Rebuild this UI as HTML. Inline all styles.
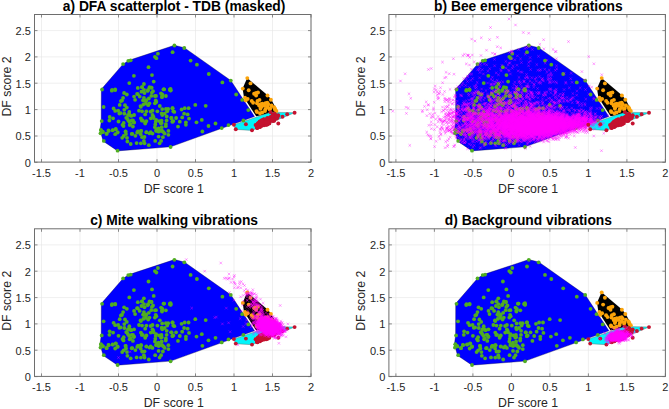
<!DOCTYPE html>
<html><head><meta charset="utf-8"><title>DFA scatterplots</title>
<style>
html,body{margin:0;padding:0;background:#fff;}
svg{display:block;}
text{font-family:"Liberation Sans",sans-serif;}
.mk{fill:none;stroke:none;}
.tk{font-size:11px;fill:#262626;}
.lb{font-size:12.3px;fill:#262626;}
.tt{font-size:13.8px;font-weight:bold;fill:#000;}
</style></head><body>
<svg width="669" height="409" viewBox="0 0 669 409">
<defs>
<marker id="mx" markerUnits="userSpaceOnUse" markerWidth="4" markerHeight="4" refX="2" refY="2" viewBox="0 0 4 4" overflow="visible"><path d="M0.7 0.7L3.3 3.3M3.3 0.7L0.7 3.3" stroke="#ff00ff" stroke-opacity="0.72" stroke-width="0.5" fill="none"/></marker>
<marker id="mg" markerUnits="userSpaceOnUse" markerWidth="6" markerHeight="6" refX="3" refY="3" viewBox="0 0 6 6"><circle cx="3" cy="3" r="1.9" fill="#50ad22"/></marker>
<marker id="mo" markerUnits="userSpaceOnUse" markerWidth="6" markerHeight="6" refX="3" refY="3" viewBox="0 0 6 6"><circle cx="3" cy="3" r="1.95" fill="#fca40a"/></marker>
<marker id="mr" markerUnits="userSpaceOnUse" markerWidth="6" markerHeight="6" refX="3" refY="3" viewBox="0 0 6 6"><circle cx="3" cy="3" r="1.95" fill="#c4122f"/></marker>
</defs>
<rect width="669" height="409" fill="#fff"/>
<g><rect x="34.5" y="14.5" width="276.5" height="147.6" fill="#fff"/><path d="M41.5 14.5V162.1M80.0 14.5V162.1M118.5 14.5V162.1M157.0 14.5V162.1M195.5 14.5V162.1M234.0 14.5V162.1M272.5 14.5V162.1M311.0 14.5V162.1M34.5 162.3H311.0M34.5 136.0H311.0M34.5 109.6H311.0M34.5 83.2H311.0M34.5 56.9H311.0M34.5 30.6H311.0" stroke="#e4e4e4" stroke-width="0.6" fill="none"/><polygon points="101.3,89.3 123.0,64.2 129.0,60.3 174.4,45.3 184.3,47.7 230.8,80.5 254.5,116.5 170.7,146.8 117.6,150.9 103.2,141.2 100.0,130.2 101.2,121.0" fill="#0000ff" stroke="#00003c" stroke-width="0.35"/><polygon points="247.2,78.0 242.6,88.4 244.0,97.5 256.2,116.2 277.8,112.0 271.3,99.6 267.6,95.3" fill="#000"/><polygon points="233.7,124.9 235.7,129.4 252.0,130.4 294.6,112.7 270.6,112.2" fill="#00f5fa" stroke="#5a7a7a" stroke-width="0.5"/><polyline points="123.1,64.1 123.1,64.1 128.3,60.8 130.7,60.3 148.5,67.2 154.9,56.8 156.4,58.2 157.9,53.7 172.6,52.2 174.4,45.5 133.9,75.8 152.0,75.1 153.7,81.6 129.3,83.1 143.9,84.0 141.9,87.1 151.5,87.7 102.1,89.5 112.1,89.9 115.2,89.5 163.9,89.3 169.9,89.3 111.8,90.7 115.2,90.1 142.1,87.2 151.5,87.7 164.1,89.3 169.9,89.9 147.6,90.9 141.5,91.7 144.5,93.0 151.9,92.6 161.1,93.3 165.9,96.0 126.8,94.5 137.8,94.2 134.1,96.6 123.1,97.8 120.9,101.1 143.9,97.8 148.8,98.5 154.9,96.0 162.0,97.2 143.0,100.3 149.4,103.3 154.9,103.3 148.2,105.2 143.3,104.6 140.9,106.8 159.8,106.0 125.0,105.2 126.8,107.6 113.6,108.5 115.2,110.9 103.6,107.0 118.2,110.7 120.7,113.1 124.4,113.7 129.3,111.9 130.5,115.6 134.1,115.0 139.0,110.7 142.1,111.3 146.4,111.3 152.5,110.7 157.4,111.3 145.2,114.4 152.5,115.0 153.7,118.0 165.9,108.9 167.2,111.3 164.7,113.7 162.3,115.0 172.7,108.2 173.3,111.3 171.5,118.0 173.3,121.1 109.7,117.0 113.1,118.3 109.4,120.5 101.7,121.1 118.5,121.5 126.2,117.8 128.0,119.9 131.7,120.5 134.1,122.3 123.7,122.9 122.5,124.8 130.5,124.1 132.9,126.6 140.9,118.3 142.7,120.5 146.4,121.1 145.2,123.5 156.2,119.9 159.2,121.1 161.7,122.9 166.6,120.5 165.9,124.1 154.9,127.2 158.6,128.4 161.7,127.2 159.8,130.9 163.5,132.1 168.4,130.9 156.2,130.9 101.1,130.3 103.0,132.1 108.5,130.5 112.7,130.3 115.8,129.0 117.6,132.1 125.6,131.5 137.8,131.5 140.9,130.9 146.4,132.1 150.7,132.1 131.7,133.9 106.6,133.9 100.5,133.3 100.9,129.9 102.6,131.7 103.8,140.9 106.6,133.6 108.7,130.9 112.7,130.1 115.6,129.3 117.6,132.6 115.2,134.2 117.6,150.7 125.6,131.7 123.7,136.0 122.2,137.8 127.0,137.8 127.4,141.5 130.7,144.0 132.3,133.8 135.4,135.8 137.2,132.6 141.2,130.9 142.1,137.2 144.5,137.0 143.9,140.9 140.9,143.3 136.6,143.1 144.5,143.3 148.8,145.2 146.4,132.3 149.4,133.3 152.5,133.6 156.2,130.5 158.6,131.7 161.7,130.5 158.6,136.6 162.9,137.2 164.7,133.6 168.4,134.8 161.1,140.9 159.6,143.3 155.2,140.9 170.6,147.0 144.0,89.8 149.5,87.2 163.5,89.3 170.7,90.3 148.1,89.9 137.8,87.9 139.7,96.6 153.0,91.2 162.5,94.6 124.1,93.0 137.1,93.9 135.1,99.8 122.0,100.5 119.7,104.9 144.0,100.7 151.3,95.9 156.0,95.9 162.1,96.0 146.1,101.1 156.3,102.0 145.8,103.6 146.2,100.1 140.5,106.1 155.7,100.5 124.3,109.8 119.4,113.5 127.9,115.1 129.3,114.1 131.5,115.8 150.7,111.7 153.2,116.4 150.8,118.3 168.2,108.9 162.2,109.1 161.7,113.4 166.7,116.5 172.5,121.7 127.0,118.1 129.1,121.6 133.0,120.5 133.8,122.7 123.5,126.1 129.7,125.0 141.8,120.6 145.4,122.5 161.5,120.6 160.9,123.3 155.7,121.8 165.8,126.2 155.3,124.5 162.3,131.2 126.0,134.1 138.3,131.6 140.7,134.2 156.7,129.6 184.3,48.0 190.6,60.6 196.9,64.7 208.8,74.0 222.4,82.4 230.8,80.6 170.6,88.9 170.6,90.5 195.3,104.9 205.7,105.8 236.2,94.5 242.2,99.9 248.3,110.1 172.4,108.2 174.3,111.9 181.6,109.5 184.7,108.2 188.6,108.2 184.1,113.7 187.7,114.4 182.2,117.4 176.1,118.0 172.4,121.7 179.8,121.7 185.9,122.3 189.0,118.6 178.0,126.6 185.9,124.8 196.5,122.3 201.8,119.9 208.5,126.0 215.5,123.5 202.4,131.5 221.7,128.1 228.5,125.1 243.4,120.5 171.2,118.0 171.2,118.0" class="mk" marker-mid="url(#mg)"/><polyline points="247.3,78.1 247.3,78.1 250.5,83.4 242.8,88.6 248.7,90.3 254.1,93.7 256.1,93.0 258.0,92.5 256.1,95.5 267.5,95.5 270.9,99.7 245.0,97.6 247.7,98.9 245.8,100.4 251.7,100.9 253.1,102.8 257.5,100.9 259.5,99.9 257.0,103.3 260.5,104.3 262.4,103.8 265.4,103.3 267.3,102.8 268.3,104.3 264.4,105.8 261.4,106.2 259.5,105.8 267.3,106.7 270.2,108.2 274.2,107.2 275.1,109.7 260.5,108.7 256.5,111.1 265.4,109.2 257.0,112.1 260.0,113.2 262.2,112.5 261.0,107.2 259.2,105.4 267.4,107.2 269.7,109.5 274.9,108.7 276.4,111.0 271.5,105.5 265.0,111.0 265.0,111.0" class="mk" marker-mid="url(#mo)"/><polyline points="233.9,124.8 233.9,124.8 235.8,129.3 245.9,124.3 252.0,130.3 294.6,112.8 287.2,114.3 282.5,116.7 270.6,112.3 274.5,113.6 278.3,115.2 278.3,123.5 262.6,121.0 258.5,122.9 266.7,122.5 257.4,127.3 274.2,119.4 260.1,127.0 263.9,121.8 272.8,115.2 263.3,123.3 270.3,119.6 266.4,124.5 259.0,123.1 260.8,124.9 263.5,119.8 263.1,122.7 276.0,115.8 266.8,121.4 258.9,125.0 267.4,119.4 269.0,122.4 267.3,118.8 273.2,117.9 274.2,120.8 269.4,119.9 271.1,118.5 267.7,124.4 261.2,124.5 263.9,119.1 257.2,127.5 272.4,119.6 264.2,122.4 273.4,114.9 266.5,120.0 267.8,120.2 263.1,124.1 266.2,124.9 259.8,121.8 269.0,121.7 256.9,127.8 275.1,116.5 269.4,123.4 258.0,125.9 261.6,122.2 261.7,123.7 272.4,118.7 274.0,116.9 274.3,116.4 264.1,125.3 269.6,118.9 257.4,128.0 270.0,117.7 261.7,123.4 264.6,120.3 278.0,115.8 263.8,122.5 259.7,121.4 261.2,121.8 268.2,122.5 273.1,121.1 259.2,126.9 276.4,117.3 272.9,115.0 267.9,123.4 274.7,117.8 271.7,120.3 262.1,120.3 268.5,121.3 274.6,119.2 268.1,121.8 261.9,125.6 266.2,120.5 271.9,120.7 261.7,125.8 261.8,125.1 270.2,117.7 265.7,121.4 275.0,114.4 266.8,123.8 264.7,120.3 267.4,117.9 274.3,117.4 270.6,117.0 266.3,121.0 257.7,124.5 277.5,117.4 261.3,122.9 263.2,122.4 273.9,115.7 260.0,122.7 258.9,124.1 276.8,118.6 272.0,118.1 265.5,120.5 261.5,125.1 267.7,119.8 257.7,123.4 265.7,119.4 261.6,120.4 261.2,124.6 272.3,117.6 266.9,120.1 255.6,125.0 257.9,125.8 274.3,114.9 260.4,123.6 276.0,116.2 267.8,122.1 272.4,119.5 265.9,122.1 272.5,116.0 272.5,116.0" class="mk" marker-mid="url(#mr)"/><rect x="34.5" y="14.5" width="276.5" height="147.6" fill="none" stroke="#6e6e6e" stroke-width="1"/><path d="M41.5 162.1v-3M41.5 14.5v3M80.0 162.1v-3M80.0 14.5v3M118.5 162.1v-3M118.5 14.5v3M157.0 162.1v-3M157.0 14.5v3M195.5 162.1v-3M195.5 14.5v3M234.0 162.1v-3M234.0 14.5v3M272.5 162.1v-3M272.5 14.5v3M311.0 162.1v-3M311.0 14.5v3M34.5 162.3h3M311.0 162.3h-3M34.5 136.0h3M311.0 136.0h-3M34.5 109.6h3M311.0 109.6h-3M34.5 83.2h3M311.0 83.2h-3M34.5 56.9h3M311.0 56.9h-3M34.5 30.6h3M311.0 30.6h-3" stroke="#6e6e6e" stroke-width="0.8" fill="none"/><text x="41.5" y="177.1" text-anchor="middle" class="tk">-1.5</text><text x="80.0" y="177.1" text-anchor="middle" class="tk">-1</text><text x="118.5" y="177.1" text-anchor="middle" class="tk">-0.5</text><text x="157.0" y="177.1" text-anchor="middle" class="tk">0</text><text x="195.5" y="177.1" text-anchor="middle" class="tk">0.5</text><text x="234.0" y="177.1" text-anchor="middle" class="tk">1</text><text x="272.5" y="177.1" text-anchor="middle" class="tk">1.5</text><text x="311.0" y="177.1" text-anchor="middle" class="tk">2</text><text x="30.9" y="166.7" text-anchor="end" class="tk">0</text><text x="30.9" y="140.4" text-anchor="end" class="tk">0.5</text><text x="30.9" y="114.0" text-anchor="end" class="tk">1</text><text x="30.9" y="87.7" text-anchor="end" class="tk">1.5</text><text x="30.9" y="61.3" text-anchor="end" class="tk">2</text><text x="30.9" y="35.0" text-anchor="end" class="tk">2.5</text><text x="173.8" y="192.6" text-anchor="middle" class="lb">DF score 1</text><text transform="translate(10.6,86.5) rotate(-90)" text-anchor="middle" class="lb">DF score 2</text><text x="174.1" y="10.5" text-anchor="middle" class="tt">a) DFA scatterplot - TDB (masked)</text></g><g><rect x="388.9" y="14.5" width="276.5" height="147.6" fill="#fff"/><path d="M395.9 14.5V162.1M434.4 14.5V162.1M472.9 14.5V162.1M511.4 14.5V162.1M549.9 14.5V162.1M588.4 14.5V162.1M626.9 14.5V162.1M665.4 14.5V162.1M388.9 162.3H665.4M388.9 136.0H665.4M388.9 109.6H665.4M388.9 83.2H665.4M388.9 56.9H665.4M388.9 30.6H665.4" stroke="#e4e4e4" stroke-width="0.6" fill="none"/><polygon points="455.7,89.3 477.4,64.2 483.4,60.3 528.8,45.3 538.7,47.7 585.2,80.5 608.9,116.5 525.1,146.8 472.0,150.9 457.6,141.2 454.4,130.2 455.6,121.0" fill="#0000ff" stroke="#00003c" stroke-width="0.35"/><polygon points="601.6,78.0 597.0,88.4 598.4,97.5 610.6,116.2 632.2,112.0 625.7,99.6 622.0,95.3" fill="#000"/><polygon points="588.1,124.9 590.1,129.4 606.4,130.4 649.0,112.7 625.0,112.2" fill="#00f5fa" stroke="#5a7a7a" stroke-width="0.5"/><polyline points="477.5,64.1 477.5,64.1 482.7,60.8 485.1,60.3 502.9,67.2 509.3,56.8 510.8,58.2 512.3,53.7 527.0,52.2 528.8,45.5 488.3,75.8 506.4,75.1 508.1,81.6 483.7,83.1 498.3,84.0 496.3,87.1 505.9,87.7 456.5,89.5 466.5,89.9 469.6,89.5 518.3,89.3 524.3,89.3 466.2,90.7 469.6,90.1 496.5,87.2 505.9,87.7 518.5,89.3 524.3,89.9 502.0,90.9 495.9,91.7 498.9,93.0 506.3,92.6 515.5,93.3 520.3,96.0 481.2,94.5 492.2,94.2 488.5,96.6 477.5,97.8 475.3,101.1 498.3,97.8 503.2,98.5 509.3,96.0 516.4,97.2 497.4,100.3 503.8,103.3 509.3,103.3 502.6,105.2 497.7,104.6 495.3,106.8 514.2,106.0 479.4,105.2 481.2,107.6 468.0,108.5 469.6,110.9 458.0,107.0 472.6,110.7 475.1,113.1 478.8,113.7 483.7,111.9 484.9,115.6 488.5,115.0 493.4,110.7 496.5,111.3 500.8,111.3 506.9,110.7 511.8,111.3 499.6,114.4 506.9,115.0 508.1,118.0 520.3,108.9 521.6,111.3 519.1,113.7 516.7,115.0 527.1,108.2 527.7,111.3 525.9,118.0 527.7,121.1 464.1,117.0 467.5,118.3 463.8,120.5 456.1,121.1 472.9,121.5 480.6,117.8 482.4,119.9 486.1,120.5 488.5,122.3 478.1,122.9 476.9,124.8 484.9,124.1 487.3,126.6 495.3,118.3 497.1,120.5 500.8,121.1 499.6,123.5 510.6,119.9 513.6,121.1 516.1,122.9 521.0,120.5 520.3,124.1 509.3,127.2 513.0,128.4 516.1,127.2 514.2,130.9 517.9,132.1 522.8,130.9 510.6,130.9 455.5,130.3 457.4,132.1 462.9,130.5 467.1,130.3 470.2,129.0 472.0,132.1 480.0,131.5 492.2,131.5 495.3,130.9 500.8,132.1 505.1,132.1 486.1,133.9 461.0,133.9 454.9,133.3 455.3,129.9 457.0,131.7 458.2,140.9 461.0,133.6 463.1,130.9 467.1,130.1 470.0,129.3 472.0,132.6 469.6,134.2 472.0,150.7 480.0,131.7 478.1,136.0 476.6,137.8 481.4,137.8 481.8,141.5 485.1,144.0 486.7,133.8 489.8,135.8 491.6,132.6 495.6,130.9 496.5,137.2 498.9,137.0 498.3,140.9 495.3,143.3 491.0,143.1 498.9,143.3 503.2,145.2 500.8,132.3 503.8,133.3 506.9,133.6 510.6,130.5 513.0,131.7 516.1,130.5 513.0,136.6 517.3,137.2 519.1,133.6 522.8,134.8 515.5,140.9 514.0,143.3 509.6,140.9 525.0,147.0 498.4,89.8 503.9,87.2 517.9,89.3 525.1,90.3 502.5,89.9 492.2,87.9 494.1,96.6 507.4,91.2 516.9,94.6 478.5,93.0 491.5,93.9 489.5,99.8 476.4,100.5 474.1,104.9 498.4,100.7 505.7,95.9 510.4,95.9 516.5,96.0 500.5,101.1 510.7,102.0 500.2,103.6 500.6,100.1 494.9,106.1 510.1,100.5 478.7,109.8 473.8,113.5 482.3,115.1 483.7,114.1 485.9,115.8 505.1,111.7 507.6,116.4 505.2,118.3 522.6,108.9 516.6,109.1 516.1,113.4 521.1,116.5 526.9,121.7 481.4,118.1 483.5,121.6 487.4,120.5 488.2,122.7 477.9,126.1 484.1,125.0 496.2,120.6 499.8,122.5 515.9,120.6 515.3,123.3 510.1,121.8 520.2,126.2 509.7,124.5 516.7,131.2 480.4,134.1 492.7,131.6 495.1,134.2 511.1,129.6 538.7,48.0 545.0,60.6 551.3,64.7 563.2,74.0 576.8,82.4 585.2,80.6 525.0,88.9 525.0,90.5 549.7,104.9 560.1,105.8 590.6,94.5 596.6,99.9 602.7,110.1 526.8,108.2 528.7,111.9 536.0,109.5 539.1,108.2 543.0,108.2 538.5,113.7 542.1,114.4 536.6,117.4 530.5,118.0 526.8,121.7 534.2,121.7 540.3,122.3 543.4,118.6 532.4,126.6 540.3,124.8 550.9,122.3 556.2,119.9 562.9,126.0 569.9,123.5 556.8,131.5 576.1,128.1 582.9,125.1 597.8,120.5 525.6,118.0 525.6,118.0" class="mk" marker-mid="url(#mg)"/><polyline points="522.1,130.4 522.1,130.4 547.1,122.1 510.3,133.6 541.4,124.1 503.3,127.3 521.5,122.9 531.7,126.5 526.1,119.0 567.7,126.1 554.7,129.1 536.2,121.0 570.6,125.9 532.7,124.6 498.7,125.8 518.4,123.5 507.5,139.0 535.4,124.2 521.4,120.1 528.0,129.9 545.9,134.7 518.3,126.1 554.8,125.9 541.9,129.6 541.7,115.3 518.1,110.3 519.1,125.8 538.6,119.2 505.0,139.8 549.0,120.7 549.4,110.1 539.4,124.1 556.7,122.9 574.2,129.4 525.5,148.6 553.9,127.1 556.6,113.4 534.4,127.6 522.6,131.5 519.5,121.7 535.4,125.5 530.4,119.9 546.3,126.2 550.4,126.0 507.0,116.4 545.6,131.1 560.3,122.9 497.2,115.3 542.5,120.1 539.2,126.7 497.5,119.5 535.2,127.8 542.9,125.1 550.6,127.3 533.6,140.0 524.4,121.5 566.4,126.1 531.6,115.5 526.7,121.1 574.6,123.8 563.8,128.0 539.5,126.2 537.2,118.5 518.6,129.7 546.4,131.6 546.4,122.0 527.9,122.4 497.5,120.9 497.6,130.5 521.2,128.6 555.0,124.5 525.0,122.4 572.2,124.1 543.2,118.0 540.9,133.6 587.2,130.6 533.6,123.2 557.6,121.3 528.0,132.9 537.0,119.2 508.5,132.7 533.9,138.7 528.3,128.8 545.3,129.6 513.4,128.5 533.3,130.3 534.8,121.0 562.8,116.1 515.8,128.7 475.2,113.4 517.2,126.2 547.0,133.3 545.6,125.6 490.9,124.0 563.0,133.9 553.8,123.9 545.8,122.8 565.6,125.5 555.4,127.2 551.9,129.7 531.9,114.5 545.1,126.4 507.2,131.1 539.1,119.8 544.7,122.3 533.5,117.0 525.2,129.6 555.7,124.6 527.9,129.7 528.4,121.8 542.9,132.9 544.7,124.4 510.6,120.8 527.8,128.1 553.5,117.7 518.1,123.0 513.6,110.7 522.7,118.1 519.0,120.6 587.5,132.5 524.1,122.6 532.3,130.3 585.9,123.2 495.2,120.3 493.4,118.4 520.7,125.0 564.6,123.9 501.3,137.1 562.7,120.9 515.0,120.3 546.4,121.5 480.6,127.9 556.0,121.0 555.5,138.2 538.5,122.6 511.7,128.1 535.4,120.1 523.9,118.4 515.7,124.2 521.9,124.9 518.0,136.5 560.6,123.1 521.2,124.6 558.1,129.9 531.9,122.4 547.1,127.3 484.2,117.7 542.3,125.5 527.9,124.2 524.3,132.7 516.8,129.9 519.9,133.6 549.7,132.7 550.2,131.0 542.9,117.1 539.4,130.3 535.7,124.9 493.1,129.9 538.4,128.7 536.4,121.1 552.8,120.0 548.5,126.9 534.1,127.7 527.0,127.1 493.3,128.1 533.9,132.4 533.9,122.5 530.6,112.3 472.3,127.3 490.9,119.5 474.8,125.1 546.9,127.1 547.7,138.4 554.8,122.9 535.0,129.8 549.7,128.0 539.8,128.9 480.9,126.1 539.3,120.9 513.6,126.2 549.2,124.4 564.2,114.7 512.8,138.6 554.9,116.7 556.5,120.5 519.7,130.6 555.7,129.8 491.2,132.5 580.4,126.5 517.1,124.4 516.6,117.3 532.6,133.1 565.7,127.2 539.8,125.8 527.0,123.8 518.0,138.1 481.8,134.3 516.4,126.1 535.8,122.3 537.4,130.9 517.6,139.9 530.5,122.7 547.1,126.0 530.3,119.8 534.9,121.1 548.4,124.0 565.7,127.2 525.9,131.3 515.5,115.7 576.5,123.8 548.1,118.4 553.8,118.4 504.4,130.1 545.3,116.8 537.0,131.4 526.0,130.3 514.0,116.0 519.6,125.8 586.1,119.1 542.5,129.3 544.3,115.7 549.4,118.0 536.8,122.5 529.7,123.1 565.5,131.4 533.0,124.4 520.9,128.0 553.3,114.0 549.5,123.3 497.5,113.2 536.3,126.1 507.8,126.3 508.3,125.5 545.6,125.2 541.2,130.9 568.6,127.3 491.1,127.2 516.3,132.6 526.0,124.0 506.3,126.8 568.6,121.1 530.9,125.1 531.6,126.3 552.0,125.6 477.1,126.1 513.3,121.6 519.9,125.0 586.5,127.3 507.7,135.2 477.3,138.3 543.2,129.4 489.9,135.7 549.2,129.7 525.7,123.8 566.9,115.2 559.1,124.0 538.9,114.3 568.6,125.7 545.4,123.7 535.8,129.1 502.8,129.5 497.6,117.9 547.3,132.4 567.8,120.2 488.9,113.8 553.8,113.7 505.1,122.4 544.6,124.2 538.6,119.0 498.8,134.1 501.2,129.6 520.0,123.5 540.9,125.4 518.3,128.8 557.2,120.8 536.9,127.9 571.6,126.8 550.0,118.6 528.2,120.5 507.9,119.3 539.3,135.7 550.5,130.2 565.1,127.8 530.6,124.1 526.6,124.2 521.3,121.5 534.6,124.5 468.8,118.3 535.3,137.6 536.8,122.8 560.1,130.3 571.4,124.9 531.0,121.5 525.7,133.3 560.7,120.1 571.2,120.3 520.8,136.9 519.0,130.4 515.0,122.1 542.3,127.2 538.6,126.7 539.6,121.0 557.4,128.5 498.5,116.5 537.2,118.7 495.3,128.1 535.1,135.3 522.2,121.2 560.2,116.5 513.9,135.2 546.9,119.8 539.1,133.9 553.2,120.7 547.7,128.1 541.8,120.7 521.2,138.1 542.3,122.6 534.8,120.1 520.5,126.5 527.2,122.2 572.6,125.2 583.6,117.8 553.4,121.8 576.8,124.7 531.8,132.9 545.8,117.4 547.2,122.8 529.7,124.8 500.5,119.0 524.7,133.2 516.6,131.4 554.9,119.2 502.1,119.8 555.7,128.0 499.0,130.8 519.4,123.7 526.0,139.3 540.1,135.3 556.1,131.4 518.0,131.6 521.5,117.4 554.8,121.7 542.1,135.1 522.1,129.6 511.2,122.6 516.8,130.6 509.6,139.5 548.7,117.6 538.7,131.9 469.9,124.8 563.5,123.1 556.6,117.0 561.4,126.9 559.6,120.7 497.8,128.6 500.5,126.7 548.3,131.5 485.4,117.4 543.5,116.6 502.9,119.0 584.0,116.0 529.5,124.2 530.8,119.4 559.3,124.3 502.1,121.1 523.3,121.8 540.8,115.5 561.7,126.9 542.8,114.8 521.7,123.1 562.9,118.3 546.9,133.1 504.4,124.3 543.7,110.0 513.9,118.4 552.9,134.3 515.0,124.8 522.7,127.0 545.7,130.2 545.6,129.2 521.5,122.4 520.8,124.0 572.7,124.0 531.0,121.1 525.8,118.8 503.9,121.9 522.3,131.2 576.7,127.5 576.4,121.2 569.2,128.8 563.1,117.3 531.7,126.8 538.7,128.4 519.5,123.0 542.4,124.5 575.6,125.4 545.8,116.7 510.5,119.1 578.2,129.4 508.3,132.8 490.4,123.0 490.2,122.7 569.2,131.7 526.9,138.6 553.1,129.1 528.2,125.6 547.5,127.3 534.9,129.5 537.2,133.3 536.0,138.4 522.8,113.3 536.4,134.0 540.6,131.7 495.1,130.8 552.1,122.9 532.2,132.0 508.8,117.0 540.3,131.6 484.1,135.0 507.1,126.4 539.5,126.7 527.9,135.0 509.4,114.8 516.4,120.4 494.1,127.7 540.7,119.2 507.7,122.0 543.7,130.0 545.9,130.7 515.5,126.1 469.7,126.7 510.6,135.6 524.4,120.9 524.8,117.6 506.8,134.6 571.5,122.4 557.1,129.2 553.7,123.6 550.0,125.1 563.3,127.8 511.5,135.7 562.2,128.3 509.6,132.1 523.9,134.3 527.6,130.1 521.3,132.3 535.4,128.9 537.2,124.2 542.6,139.0 521.7,131.2 553.0,133.8 517.4,127.9 526.5,119.4 523.9,119.6 499.5,137.9 563.6,122.4 546.1,124.6 546.1,132.6 557.1,127.7 558.0,124.3 487.4,134.4 561.4,125.3 525.1,124.3 524.4,129.5 536.9,124.9 570.7,124.0 579.4,116.5 575.5,119.4 537.6,124.9 531.1,130.8 532.9,130.2 573.6,121.7 523.8,138.6 533.2,128.7 508.6,133.4 480.8,122.2 532.9,108.9 533.8,126.9 569.0,123.7 538.5,128.1 520.1,116.1 558.4,115.8 526.1,125.7 513.5,119.6 501.2,122.2 560.7,117.5 512.1,118.8 517.5,130.9 502.9,118.3 573.8,126.6 516.4,128.2 558.5,127.6 491.7,130.4 562.8,115.3 528.1,130.5 522.3,138.4 556.2,130.7 559.9,133.5 504.2,124.0 516.3,120.8 534.7,133.7 549.3,120.4 488.8,113.9 546.4,120.9 490.1,130.7 526.2,118.8 499.7,131.8 486.1,127.5 542.8,135.9 520.4,122.6 572.3,121.2 527.2,133.7 512.1,130.3 538.0,126.1 574.3,122.8 508.9,115.8 557.2,124.3 517.3,138.3 510.1,119.9 515.3,134.6 539.2,124.2 549.0,121.5 568.1,128.3 557.9,130.0 551.1,124.1 540.3,119.6 534.1,118.6 555.4,124.2 521.0,130.9 521.9,127.3 533.9,106.3 549.7,120.8 514.0,130.6 526.9,124.7 509.8,115.3 521.1,118.8 478.7,126.0 541.1,124.4 548.9,123.6 538.4,137.8 517.5,141.4 549.5,123.5 529.8,131.3 520.6,113.8 575.8,124.2 565.2,132.2 488.3,129.1 513.6,129.6 539.0,106.6 518.7,125.6 541.1,125.8 556.7,115.4 504.8,124.9 528.2,123.6 497.9,137.5 479.2,122.5 539.1,125.3 478.0,128.4 516.5,135.2 512.6,121.3 547.5,125.4 546.8,128.9 536.2,125.6 547.7,125.7 531.1,126.8 519.1,111.2 546.8,122.8 568.0,131.6 551.1,120.4 579.5,118.5 552.9,131.6 513.7,124.2 546.6,131.4 525.3,128.6 535.9,123.7 527.7,134.1 564.2,116.7 532.0,119.2 545.1,121.5 546.0,129.9 548.2,119.4 513.1,113.0 584.4,116.7 582.0,120.8 526.4,129.9 515.1,125.2 533.7,121.5 486.3,110.7 533.8,121.5 545.9,123.8 529.5,126.7 514.8,124.8 533.9,123.8 514.1,125.7 535.6,121.9 509.1,123.2 558.0,121.7 525.7,129.2 528.9,121.1 571.6,124.9 519.2,123.5 539.4,131.4 516.9,126.6 550.5,131.9 510.2,122.6 505.3,125.2 542.9,126.2 510.2,126.3 526.6,123.7 514.5,118.7 494.5,127.1 534.7,119.6 520.0,122.3 521.0,121.1 576.0,125.6 545.1,131.0 557.7,118.4 535.3,133.3 544.1,118.5 560.5,120.5 490.8,130.4 568.4,130.0 561.5,115.1 552.7,118.8 526.6,134.0 532.0,127.2 533.4,121.3 531.0,124.7 544.6,125.5 578.5,122.0 536.5,127.2 519.6,117.1 538.1,132.7 521.1,126.8 523.9,118.8 506.8,122.7 537.9,133.3 535.6,126.5 546.5,128.0 541.7,135.9 508.6,120.8 559.4,124.8 520.2,118.8 484.6,131.2 550.5,121.5 509.9,138.4 569.2,123.6 513.1,125.6 556.0,138.8 561.0,120.9 484.8,120.9 492.0,118.4 544.0,111.9 519.9,125.9 559.5,128.0 517.7,128.4 532.8,133.1 546.1,122.2 536.2,114.8 526.7,117.3 521.5,121.0 488.3,124.6 530.3,129.2 519.9,128.2 517.3,140.4 520.3,129.6 522.0,132.9 531.3,120.8 528.5,129.2 566.9,119.7 556.5,118.7 526.7,126.8 561.1,127.5 531.6,123.4 543.4,127.2 558.0,125.7 551.8,119.1 550.2,121.0 506.8,134.6 519.7,122.8 570.3,129.8 541.8,130.9 517.0,127.8 551.0,123.9 562.7,129.5 555.7,119.9 536.2,122.8 521.1,133.1 524.8,130.2 522.9,115.1 539.3,123.7 552.2,129.4 556.4,122.9 498.3,122.0 547.7,122.7 572.3,126.0 546.7,120.9 513.0,118.0 499.9,134.5 547.0,131.7 531.7,136.8 536.2,133.2 542.7,134.9 545.2,127.0 536.0,126.3 537.6,134.3 473.3,125.7 512.2,128.9 544.7,137.4 516.3,130.0 509.3,123.8 531.2,131.3 511.0,120.6 518.8,122.1 545.2,136.7 508.6,125.9 542.7,120.8 553.7,119.3 525.6,127.3 553.0,127.4 559.7,132.9 550.1,126.2 487.5,119.5 541.9,125.5 508.8,129.0 570.6,128.0 451.6,131.6 505.9,126.8 525.1,131.9 514.4,119.0 500.1,113.0 521.5,133.1 553.3,121.9 509.6,121.0 490.6,132.0 561.4,125.9 503.4,122.6 556.4,125.0 491.4,128.2 544.5,120.8 578.7,124.8 523.0,126.2 563.3,129.2 565.7,137.7 553.5,128.7 545.5,121.3 506.3,126.5 540.2,122.0 512.3,132.5 488.6,109.2 529.9,127.4 498.8,119.8 521.7,116.5 554.8,124.8 551.9,131.3 526.7,129.7 504.2,125.8 531.0,116.5 454.5,130.4 512.6,129.0 544.6,123.0 535.2,129.0 546.3,123.2 490.5,127.7 501.7,133.7 538.0,125.4 537.2,131.4 529.7,131.9 543.6,121.3 576.4,118.6 515.3,129.0 512.1,123.9 581.8,120.9 482.0,134.2 503.6,122.5 534.5,124.0 577.0,127.4 514.3,113.0 542.7,130.3 486.1,136.0 476.2,125.5 535.6,119.4 531.2,130.5 516.8,113.4 492.4,124.8 535.1,121.9 524.8,122.6 554.0,125.8 523.6,127.2 511.5,127.3 527.3,124.6 566.4,118.2 523.9,122.0 541.5,120.9 535.0,124.2 523.3,131.1 555.3,117.9 550.3,122.7 540.9,128.4 491.9,121.6 539.3,129.2 511.5,117.5 491.4,114.3 549.8,111.6 517.4,126.1 522.4,124.9 529.5,130.9 560.2,128.7 522.4,122.3 521.7,128.8 543.0,127.8 504.7,126.6 529.3,114.7 508.3,119.6 515.7,128.3 526.7,124.2 555.1,115.5 519.3,117.2 558.3,120.5 516.4,120.0 531.9,123.6 528.1,121.6 561.1,118.9 529.6,119.4 569.2,128.6 569.6,130.4 547.5,121.8 569.9,123.0 523.0,131.2 504.6,120.9 528.8,130.7 547.2,129.8 524.1,129.0 574.0,117.7 530.7,136.3 541.1,125.2 542.8,122.1 526.9,119.8 554.5,123.8 524.8,129.1 551.0,131.4 530.7,130.9 501.2,122.0 533.9,125.7 555.4,133.0 532.9,124.0 554.4,130.9 551.6,123.9 566.9,119.0 547.6,112.8 534.5,128.7 526.4,132.1 533.8,138.3 532.5,123.1 558.2,126.6 567.6,127.4 531.3,138.3 516.3,131.2 569.3,121.9 508.8,122.5 545.7,126.8 535.0,127.9 521.9,137.3 532.4,117.7 567.9,125.6 517.1,127.3 555.4,123.1 520.9,123.6 529.7,122.6 525.0,135.4 535.9,121.0 508.7,126.6 554.9,126.9 519.4,112.9 553.8,119.5 512.5,115.5 496.0,129.3 551.7,117.8 512.9,130.2 539.1,137.6 549.3,122.1 524.1,122.5 552.5,123.4 546.6,116.7 523.4,124.9 522.4,119.3 525.1,122.9 537.7,125.4 574.2,124.4 567.3,120.6 565.0,125.3 555.9,121.0 520.3,124.2 531.5,126.2 564.5,127.9 495.7,137.0 524.1,130.0 534.8,122.3 575.1,122.7 545.2,129.7 547.9,117.7 565.4,133.6 555.0,116.7 553.5,133.0 527.4,122.2 544.1,130.2 514.0,119.8 503.8,116.8 535.0,124.0 503.8,129.7 550.3,133.2 582.1,128.9 506.4,125.7 545.6,121.2 526.0,127.3 529.1,129.6 475.3,119.8 540.3,124.7 520.1,124.3 534.2,126.4 559.9,133.2 540.3,132.1 527.2,116.5 509.6,126.6 520.9,119.9 512.0,136.6 546.3,127.4 527.2,119.1 514.1,128.3 537.9,123.2 522.7,119.4 585.9,124.9 577.4,132.3 566.7,126.0 537.6,127.9 519.9,134.0 525.5,117.7 560.6,126.4 522.4,130.4 507.0,114.5 549.7,124.6 523.2,132.4 564.7,120.8 512.7,119.7 509.1,121.9 512.5,128.6 545.8,122.9 557.7,129.1 570.7,118.3 534.3,123.0 516.7,126.9 504.2,125.4 539.1,117.6 556.2,120.7 526.2,127.4 526.7,124.5 490.3,121.1 498.6,129.2 535.0,129.1 572.6,124.5 570.5,119.1 523.1,123.4 564.3,126.1 536.5,129.3 535.8,128.1 536.4,119.6 566.4,123.8 539.1,120.5 527.9,132.6 559.9,129.3 555.8,129.9 576.4,128.1 554.0,117.1 512.5,116.5 515.6,137.1 551.0,121.3 529.9,141.9 533.2,127.9 525.8,127.8 493.5,129.5 575.7,117.7 526.2,130.4 543.6,119.3 551.1,131.5 538.2,124.9 567.5,118.9 546.5,118.5 525.4,116.2 524.7,123.4 555.5,129.7 518.4,137.1 538.3,126.1 527.0,122.8 486.0,126.1 536.5,127.5 552.7,115.7 524.3,131.9 520.6,125.4 547.9,130.1 557.4,130.0 553.5,122.8 545.1,113.0 528.5,127.0 545.4,120.5 503.8,124.2 517.5,122.0 565.9,124.2 532.1,124.8 466.8,121.1 547.4,124.4 525.4,130.6 530.4,118.3 532.2,117.4 475.6,128.8 540.8,125.7 496.5,130.1 563.1,130.7 511.8,132.9 521.9,121.9 548.1,136.6 568.0,127.0 521.0,115.4 532.6,133.8 519.9,130.5 511.4,128.0 554.6,123.1 502.9,108.3 511.8,125.2 535.2,121.1 527.0,123.0 582.8,123.3 509.7,123.9 516.1,128.3 538.8,123.7 528.0,120.6 530.1,134.2 554.6,126.9 562.3,127.8 547.6,123.5 472.7,135.4 508.8,117.0 491.2,120.2 559.5,122.3 550.0,127.9 534.3,124.5 544.1,121.4 529.8,130.4 521.6,123.3 496.4,133.9 525.1,129.4 528.3,142.8 526.7,127.5 552.3,135.7 527.5,122.9 545.7,118.6 558.7,130.0 549.1,127.1 516.1,116.2 520.1,131.3 525.1,131.3 557.6,122.9 566.6,122.5 520.4,119.3 519.5,128.9 530.7,125.7 561.9,127.6 542.6,125.7 505.6,132.9 529.5,123.4 541.9,122.7 535.6,128.7 544.3,131.3 503.6,128.0 501.6,129.2 517.3,129.5 533.5,131.0 524.8,136.8 537.8,131.2 543.8,142.0 516.1,124.4 478.3,128.2 536.7,125.2 500.1,124.5 537.9,131.8 551.6,125.4 534.9,128.8 547.1,124.8 560.7,122.5 520.3,127.4 555.7,126.8 543.3,122.4 530.4,140.8 537.5,124.5 537.6,130.5 562.4,125.3 520.1,130.5 542.8,132.0 511.4,113.2 564.7,119.5 566.0,121.7 495.6,118.3 563.1,122.2 489.3,118.0 566.0,126.7 537.4,121.0 532.5,118.9 536.4,121.5 536.5,135.1 511.5,105.7 541.0,117.7 560.8,116.2 547.3,128.7 534.9,138.1 530.1,120.1 484.5,124.7 553.6,117.9 513.1,130.1 491.1,132.5 546.9,113.5 508.0,117.1 544.4,128.4 585.3,132.6 532.9,124.5 583.9,117.0 587.0,123.0 557.2,117.8 546.4,123.3 530.2,128.6 506.0,113.5 524.1,139.3 540.6,125.8 538.6,114.5 532.0,127.6 517.2,126.1 524.3,124.6 543.6,130.6 579.3,120.4 553.4,121.2 553.5,121.4 567.2,119.7 565.8,126.8 534.4,130.6 556.7,120.6 523.7,122.2 563.2,129.9 532.4,121.9 533.7,123.5 561.9,123.0 509.0,121.4 532.2,125.2 521.3,134.8 505.5,128.2 509.6,143.4 561.2,130.4 517.7,122.5 478.5,117.3 516.6,121.7 523.3,124.0 536.9,125.8 492.0,135.4 533.5,116.9 521.8,122.5 538.3,122.8 557.6,132.5 540.9,126.7 527.2,131.4 516.2,132.5 509.0,109.8 574.0,124.0 551.8,130.4 469.8,137.6 537.8,116.8 533.5,132.4 528.9,132.3 502.1,127.4 525.2,131.1 513.9,131.9 540.0,117.2 529.6,111.6 496.9,124.2 507.6,127.0 536.9,122.3 560.8,127.4 505.6,127.1 541.3,129.8 555.3,116.1 501.4,123.6 558.1,134.6 539.3,127.1 501.4,117.5 539.6,128.6 544.8,121.7 552.4,121.9 544.0,132.4 524.7,125.1 470.1,112.3 525.7,132.7 492.2,124.3 535.3,129.6 524.8,131.6 517.1,126.6 519.5,121.6 531.2,125.1 543.9,118.0 548.5,124.0 530.7,131.1 526.5,121.6 539.8,128.1 503.5,135.8 542.0,119.4 543.2,133.7 529.6,124.5 513.1,123.7 529.8,131.3 505.6,120.7 542.8,130.8 510.9,120.2 548.4,127.0 571.6,125.4 509.9,118.9 530.1,123.7 535.4,132.3 506.9,127.2 567.2,129.0 566.1,123.4 508.6,124.2 547.7,130.4 485.0,123.7 508.7,123.1 490.1,126.8 515.7,135.4 528.9,124.8 521.6,133.5 539.4,136.4 546.9,122.5 573.5,120.3 542.7,124.0 535.1,134.4 568.4,121.9 527.9,133.3 568.9,121.9 507.0,121.6 578.5,123.9 543.8,127.9 519.9,119.1 537.2,126.6 552.9,126.7 551.4,120.6 510.9,132.8 532.8,120.6 540.9,118.1 502.6,122.8 520.1,125.3 542.0,131.4 529.2,133.4 540.7,130.8 523.1,124.5 519.4,118.6 519.7,120.5 541.1,131.9 529.4,131.3 526.1,127.7 576.6,125.6 570.8,122.2 504.3,140.7 550.2,136.2 551.1,119.5 543.5,126.7 528.7,124.3 527.5,129.4 525.9,118.5 520.1,123.5 507.9,130.5 502.7,127.2 550.3,123.5 523.1,122.0 526.5,123.6 540.8,122.4 477.3,134.2 552.4,125.7 586.3,124.3 521.8,116.4 547.3,114.6 546.3,126.5 551.2,129.4 524.2,129.5 529.4,121.0 523.4,123.9 523.0,120.3 470.9,127.3 538.4,132.4 557.9,123.7 564.1,120.0 549.3,126.1 509.4,127.3 523.9,124.3 523.8,106.5 497.6,118.5 523.7,127.5 555.9,124.9 506.5,123.3 530.0,139.0 539.1,132.2 517.3,122.9 541.4,127.3 584.5,122.0 520.4,124.4 531.7,140.0 498.2,134.8 582.1,124.3 528.1,129.5 557.1,124.7 573.8,120.7 572.4,124.6 543.1,128.1 530.6,136.9 521.1,132.0 519.5,118.2 540.5,118.3 554.3,120.1 557.6,127.9 553.0,126.8 522.3,118.3 584.3,127.1 574.5,120.6 515.0,124.2 543.0,123.3 526.3,134.1 535.2,120.5 552.6,121.5 559.9,129.6 533.5,123.8 557.5,124.0 546.4,124.6 582.8,131.7 533.9,110.2 539.9,136.8 537.6,134.6 518.9,124.5 573.9,122.1 549.9,119.6 539.1,130.9 532.2,123.8 528.1,130.2 526.2,135.5 510.9,126.5 526.2,125.7 566.8,123.0 533.8,133.4 509.7,123.6 514.4,123.2 509.8,125.1 532.8,119.6 525.5,128.3 540.1,125.3 573.3,125.2 522.2,128.0 545.4,124.1 550.4,132.7 576.8,124.0 506.7,125.0 544.0,138.5 534.8,135.3 545.0,117.5 558.2,132.4 566.2,120.2 526.2,122.8 569.4,125.7 534.1,129.5 561.1,135.2 567.1,128.8 555.8,133.3 513.0,129.7 553.5,133.6 548.3,128.8 563.0,126.1 545.7,126.4 575.7,125.4 533.9,113.4 536.3,121.6 517.6,124.7 482.4,125.3 519.6,135.5 502.0,118.7 544.3,134.3 576.2,126.8 526.0,124.4 508.4,136.2 517.4,118.4 556.4,133.0 562.2,124.4 546.0,125.1 544.0,131.3 513.6,130.4 526.0,122.0 506.6,115.8 520.0,129.7 550.7,122.8 526.7,132.7 511.5,136.1 560.8,119.4 577.4,121.9 542.1,121.1 556.4,126.2 542.6,112.8 495.6,134.8 512.4,121.2 561.8,126.3 549.9,125.5 541.4,128.8 533.9,126.0 560.5,113.7 492.8,122.6 534.4,119.8 558.9,120.9 553.1,130.1 495.3,115.3 562.3,129.2 564.2,121.4 478.1,120.2 511.8,118.5 518.8,130.7 499.0,127.3 557.9,128.2 491.7,112.3 576.9,121.1 522.1,133.6 496.8,122.4 564.4,129.5 534.5,127.7 528.6,122.8 582.6,126.0 554.0,119.3 528.0,126.9 503.6,119.1 522.3,130.1 536.0,131.2 510.5,127.8 568.7,125.2 546.6,133.7 489.7,114.4 525.3,135.7 532.1,122.1 494.8,131.5 540.5,131.2 552.8,119.9 544.7,127.9 533.4,130.0 531.5,123.9 527.6,119.8 521.9,123.8 553.5,121.6 529.0,129.0 557.6,121.6 546.2,130.0 549.1,120.8 530.2,121.8 584.6,130.3 548.5,131.8 503.0,127.4 547.1,125.0 507.6,135.1 521.7,125.8 515.3,135.5 575.0,127.5 530.9,129.4 521.0,125.7 527.6,122.0 507.1,135.4 579.5,124.1 552.2,118.7 547.3,125.1 498.6,136.1 557.1,121.4 547.7,134.7 485.2,132.7 507.2,124.9 510.9,115.8 520.1,129.5 554.5,123.2 513.7,120.7 579.0,128.6 528.8,132.8 489.6,121.9 550.7,119.8 544.4,137.2 533.9,130.2 507.2,133.0 552.2,126.7 580.1,121.9 490.3,120.2 563.5,124.4 506.4,114.6 504.0,126.5 490.3,134.0 495.0,119.0 561.9,126.6 503.0,126.3 543.3,134.6 507.6,126.6 550.9,124.7 545.0,132.7 476.6,123.9 513.2,126.7 525.7,122.9 516.5,116.7 535.2,122.5 549.2,119.4 543.9,135.8 519.8,114.0 545.5,122.1 545.4,129.2 518.7,130.1 561.5,122.8 576.0,121.9 578.6,122.0 506.9,114.7 542.4,118.4 539.5,127.7 538.5,132.7 506.6,131.7 522.2,134.7 532.1,124.0 582.0,116.6 533.3,120.2 529.4,123.4 533.7,129.4 536.3,135.3 544.8,127.2 509.1,128.3 547.5,129.2 545.6,122.1 571.1,129.0 531.9,122.6 569.7,123.1 552.2,133.2 520.8,115.2 527.8,111.9 517.4,127.7 497.0,121.8 540.7,113.2 538.4,127.3 501.4,126.5 556.8,121.0 563.4,120.3 533.4,122.0 538.6,134.1 574.8,122.4 509.7,123.4 541.3,119.5 568.6,138.3 547.6,116.5 512.1,138.0 541.1,123.6 542.8,132.3 523.5,124.7 552.1,113.0 541.4,129.3 478.7,118.9 531.4,126.7 511.1,121.1 492.1,125.2 537.4,123.9 565.4,124.9 536.7,120.3 497.8,127.8 536.1,119.7 515.6,120.7 543.6,134.5 499.5,135.3 537.8,124.5 551.6,120.5 521.4,118.9 553.9,122.4 545.9,133.0 543.1,131.8 506.2,128.2 537.8,126.1 526.7,132.5 538.9,130.4 501.1,125.3 569.0,126.1 509.3,116.9 575.1,125.2 529.5,124.5 537.7,119.4 545.0,136.3 508.3,134.0 544.8,124.8 577.0,125.0 541.8,125.1 537.8,111.0 541.3,116.5 565.3,127.4 550.8,127.3 537.1,124.8 535.0,129.0 571.5,125.3 551.2,115.7 549.4,119.3 567.5,119.2 575.4,130.1 581.1,123.6 492.9,130.1 501.3,126.1 499.0,132.5 541.5,124.6 515.5,127.5 532.1,125.4 534.3,127.4 555.4,133.6 522.7,125.1 524.9,129.6 524.1,124.6 564.2,125.4 528.1,123.6 528.7,138.7 540.9,128.0 520.8,121.8 535.6,129.6 482.6,137.3 534.8,126.7 544.9,124.1 523.1,134.3 508.4,126.9 507.1,121.0 502.9,137.7 529.9,137.6 573.3,128.4 533.3,127.5 514.9,137.6 490.1,120.2 558.9,113.5 499.6,122.2 534.2,120.4 522.2,121.2 555.9,121.7 569.0,125.1 571.3,127.3 574.3,135.9 534.8,131.2 534.5,119.1 551.6,124.6 575.1,130.3 515.1,116.0 542.3,138.3 542.6,132.8 569.8,119.0 521.4,117.4 514.6,119.9 548.3,126.0 500.6,127.8 479.8,129.6 490.3,117.9 511.4,142.0 548.4,123.1 522.4,112.0 553.0,124.7 519.1,145.4 545.9,119.7 520.4,135.2 533.5,137.0 534.7,120.9 570.5,123.0 539.2,121.0 567.9,125.8 505.2,131.2 504.5,131.8 531.6,123.7 538.2,125.3 526.0,123.1 555.6,120.8 570.2,125.5 528.5,114.8 539.3,123.1 526.5,119.6 524.9,132.6 533.1,128.9 554.4,127.0 537.4,127.2 542.6,129.4 560.9,131.9 525.3,130.6 550.0,125.0 546.1,127.3 517.4,133.3 526.5,129.5 541.2,123.4 557.8,125.4 516.6,132.9 536.0,123.5 581.0,123.0 576.5,116.0 509.5,118.0 561.6,117.8 534.3,119.6 523.0,126.4 535.0,114.2 529.4,119.6 536.1,130.5 540.3,121.5 517.5,121.8 517.5,131.7 539.8,127.2 511.0,136.7 535.1,124.3 523.5,124.7 498.0,123.4 544.4,123.8 519.9,125.4 537.6,118.9 541.1,124.0 517.2,120.3 562.5,127.1 549.8,123.4 533.4,134.4 576.4,131.8 541.7,127.9 561.8,126.8 535.4,121.9 545.4,128.5 550.7,122.9 558.1,127.5 533.4,128.5 514.5,124.3 544.3,116.9 526.7,123.4 561.7,125.2 536.0,125.0 518.1,132.4 561.1,123.8 532.7,134.1 537.3,118.3 507.1,131.8 560.9,117.4 571.4,126.6 548.8,129.6 546.9,127.5 539.2,117.3 542.5,127.0 535.8,124.1 522.3,124.6 548.8,116.3 485.5,133.7 505.1,120.2 539.1,125.0 561.5,136.9 530.2,146.3 538.2,129.0 523.0,123.7 520.6,118.7 534.4,123.4 523.9,119.9 514.9,117.8 557.4,124.1 558.0,116.4 567.1,124.4 533.2,118.7 499.7,129.9 546.0,122.0 578.6,116.7 542.2,122.9 503.3,127.1 540.7,127.0 535.9,121.9 512.0,129.6 492.5,118.5 509.6,137.0 552.7,126.2 557.3,126.8 584.7,120.9 538.1,125.0 529.6,120.7 581.7,125.3 508.8,122.0 559.7,132.3 518.2,132.4 547.8,122.4 517.2,133.3 550.6,136.7 549.7,126.1 579.8,119.8 520.8,127.7 528.0,130.7 536.4,119.7 499.0,127.4 569.6,120.9 515.3,131.2 514.4,136.4 561.6,124.3 518.1,135.2 525.5,129.3 575.0,125.9 537.2,119.0 550.2,126.2 483.2,116.8 548.6,127.7 532.4,132.1 513.4,135.6 546.3,122.4 538.6,120.9 547.1,124.6 513.8,122.1 562.3,121.5 563.8,126.8 511.5,117.8 520.8,124.4 530.0,125.8 528.2,129.4 492.7,113.6 539.3,137.6 513.3,133.2 517.1,142.4 548.0,115.9 528.7,121.1 548.6,132.3 563.0,132.8 521.0,128.3 563.9,124.0 531.6,131.1 536.6,125.6 551.6,117.4 551.8,125.0 530.9,115.6 539.2,125.8 576.5,117.5 547.8,125.9 519.7,119.1 523.9,119.7 516.2,125.3 543.9,124.6 540.0,123.3 508.3,133.1 531.1,114.3 531.6,131.9 519.1,125.7 562.1,127.4 547.6,124.2 526.2,132.0 531.0,130.6 547.0,135.5 560.8,120.9 548.0,116.8 548.6,134.9 535.7,123.0 518.6,133.2 544.6,122.4 524.6,127.5 522.7,129.6 533.2,119.0 497.0,128.1 572.1,122.8 538.1,120.6 511.1,133.7 495.9,135.3 540.3,120.5 524.8,130.3 543.9,121.9 540.5,137.3 521.8,142.2 540.2,130.9 519.2,116.3 565.2,122.2 540.9,124.6 520.9,126.3 579.0,127.3 519.1,124.9 555.2,120.6 512.0,126.8 528.3,133.8 536.3,128.9 555.9,122.6 516.4,125.4 526.2,130.0 523.2,119.1 524.9,136.9 516.5,120.8 584.5,127.4 526.2,128.0 501.8,123.4 533.3,124.1 586.5,124.4 552.9,120.6 519.7,129.7 570.7,121.0 537.8,132.6 555.0,122.2 585.5,118.2 553.2,123.6 535.9,129.3 541.7,124.1 549.6,119.2 541.7,128.8 553.2,116.7 515.1,123.2 547.2,122.3 546.2,125.9 532.1,115.1 574.7,129.9 475.6,123.1 518.9,129.2 497.5,123.7 533.2,129.4 555.4,112.2 568.7,119.0 525.0,121.7 533.6,118.5 548.0,125.5 547.3,129.4 552.9,116.9 526.1,122.4 495.9,119.9 554.9,130.3 574.9,123.5 494.4,134.7 554.8,126.4 560.1,132.4 532.2,119.7 518.8,121.6 526.2,123.7 542.0,112.2 505.8,120.9 564.9,129.8 536.4,111.3 558.9,139.8 529.0,136.9 541.5,130.0 521.5,131.3 541.3,128.4 513.5,127.4 543.9,130.5 560.3,133.0 544.0,127.8 571.0,127.0 519.1,134.5 580.6,121.3 509.3,128.1 512.3,116.2 544.2,137.4 539.4,120.1 534.5,122.9 531.9,124.6 539.4,130.0 542.6,124.6 533.6,130.3 511.0,124.4 553.7,137.9 522.1,117.3 555.7,128.6 565.9,129.0 516.2,113.5 524.4,127.3 496.2,132.4 507.2,126.8 491.9,119.1 526.3,129.8 519.8,121.2 570.1,126.0 572.0,117.2 565.6,123.0 499.9,121.6 525.0,124.7 490.8,127.7 539.9,131.4 541.3,115.5 539.9,129.9 484.5,131.8 544.0,129.0 481.2,124.3 553.8,129.3 568.6,122.0 562.2,132.1 534.4,115.7 581.4,118.6 534.5,124.8 519.9,118.9 518.3,125.1 486.5,135.6 575.9,123.7 539.5,139.2 533.7,112.6 499.7,141.2 530.7,129.3 529.6,134.0 502.9,133.9 549.4,125.5 553.7,130.8 548.3,127.8 536.6,119.9 535.3,128.1 495.7,125.5 552.8,128.5 532.9,137.3 503.4,123.3 564.7,126.0 495.5,128.4 498.0,127.7 579.6,122.6 530.9,119.2 525.6,123.8 539.2,123.0 500.1,121.4 555.1,137.1 471.0,131.7 569.4,124.2 550.4,122.1 555.3,128.3 520.8,123.5 548.8,122.0 542.5,128.5 560.4,122.3 559.4,137.7 558.2,137.4 539.5,129.8 537.3,128.8 527.2,124.7 542.6,130.4 475.0,131.0 547.2,130.2 544.6,127.6 512.3,118.4 573.5,124.5 533.3,119.7 503.2,131.6 561.2,120.1 522.9,131.0 542.8,134.0 522.7,127.4 476.5,122.1 552.5,119.2 500.6,134.3 515.3,134.4 583.0,127.3 527.1,124.6 545.3,116.8 508.8,120.2 538.0,133.2 538.1,134.6 572.9,127.3 558.3,118.0 519.9,131.8 537.6,132.5 555.8,124.0 516.4,130.4 551.7,133.2 574.5,127.4 529.9,132.0 573.0,120.5 565.4,121.3 536.6,114.9 550.3,122.7 548.2,121.0 541.1,126.7 496.6,112.4 503.6,140.1 517.6,113.3 563.5,127.5 540.8,125.8 487.3,128.1 541.4,118.4 505.9,140.8 497.0,123.8 536.4,124.9 538.0,128.1 502.0,123.0 543.7,122.0 564.2,130.6 478.8,137.7 585.5,126.9 544.0,125.6 551.9,107.1 522.2,127.1 520.3,124.3 546.9,131.0 565.9,118.9 545.1,126.1 528.8,136.8 550.1,130.7 522.5,119.4 512.6,129.4 555.0,114.9 518.0,118.7 518.9,123.4 546.1,132.1 559.0,115.4 535.7,124.1 506.5,114.2 536.0,134.2 552.7,133.2 518.1,140.0 567.3,113.9 519.4,130.2 520.7,129.7 547.7,116.8 510.4,123.0 491.5,115.9 532.4,130.5 571.0,124.7 567.2,119.3 574.1,127.5 535.9,123.5 529.9,115.9 517.5,119.3 567.0,133.6 511.4,131.9 521.5,123.4 530.4,125.4 523.5,126.5 546.1,121.0 515.9,126.7 516.3,127.1 500.2,119.6 550.5,125.9 518.2,128.9 518.6,136.1 573.5,109.7 505.2,133.6 548.3,121.8 496.9,138.6 547.4,137.0 568.5,126.6 536.5,125.9 521.1,126.9 527.3,117.7 532.3,126.1 521.9,130.1 516.9,125.9 578.3,119.3 540.1,115.2 558.7,123.7 530.6,133.2 540.4,127.6 496.7,134.4 580.7,122.9 546.4,124.2 523.4,122.9 560.4,126.3 546.7,119.3 523.0,124.8 516.8,122.0 525.7,118.4 516.3,114.8 527.1,131.5 512.9,121.6 514.1,114.0 565.1,122.0 500.5,126.1 517.2,137.9 544.6,112.2 521.7,120.6 565.1,129.1 526.4,124.2 545.8,132.2 539.7,126.4 557.2,133.3 521.0,129.3 526.9,121.2 519.5,107.9 517.6,120.4 558.8,119.7 529.6,131.4 528.4,121.6 537.4,122.1 548.2,130.4 512.2,116.4 522.9,136.4 578.9,127.2 512.2,119.6 507.5,131.7 559.5,129.0 536.8,108.5 537.6,125.4 519.2,127.4 522.5,126.1 552.9,132.1 512.6,139.7 570.4,124.6 534.2,126.3 558.5,123.1 554.8,125.9 531.6,126.3 490.0,118.8 496.8,132.5 550.5,124.9 553.9,115.6 578.9,118.2 529.1,112.4 513.5,126.5 558.3,125.9 531.6,128.3 567.1,136.1 564.9,119.3 532.8,122.2 511.4,118.6 512.6,116.7 533.2,128.2 522.9,127.2 504.6,134.9 574.2,124.1 547.7,123.5 545.9,134.5 511.9,121.8 558.3,130.8 520.7,133.0 550.1,123.2 535.3,130.2 542.7,125.3 516.8,123.7 518.6,119.7 549.4,129.2 548.5,124.9 517.6,132.0 494.8,133.4 542.8,118.2 519.5,124.9 542.7,120.8 545.1,118.1 552.8,129.3 544.0,139.7 530.2,125.8 548.3,127.0 554.4,117.8 514.5,129.5 540.7,122.6 537.9,120.5 506.3,120.8 562.3,119.0 544.7,126.9 544.0,125.9 496.6,129.9 533.5,129.3 512.2,127.5 525.6,125.5 533.3,124.8 558.2,124.1 544.2,132.9 464.1,128.6 550.7,127.1 519.6,134.1 555.8,127.8 540.4,118.6 547.3,112.2 531.3,119.6 551.1,128.8 535.6,129.6 510.0,124.0 516.0,114.9 516.8,129.5 536.7,129.2 535.8,129.8 500.6,141.8 503.7,115.9 545.1,124.5 523.4,126.9 541.6,134.2 515.4,131.8 564.6,129.7 562.5,126.9 532.6,125.7 566.7,120.2 556.9,130.5 561.6,116.2 532.1,129.1 508.4,119.2 541.5,125.6 505.0,115.3 555.4,125.0 569.7,128.6 555.5,130.3 568.2,125.6 563.7,126.6 544.0,118.6 513.0,125.3 514.5,120.3 520.1,128.4 529.7,118.3 509.6,126.1 526.6,129.6 515.7,127.0 539.2,135.5 540.1,133.1 534.9,110.9 511.4,126.4 528.4,119.5 523.2,137.7 496.0,124.8 540.5,119.0 521.7,121.5 509.1,117.4 532.8,130.4 538.7,114.7 514.3,134.1 510.3,133.5 533.3,123.6 530.6,124.6 562.8,126.0 504.6,141.0 540.3,129.9 528.6,123.2 545.5,134.8 511.7,125.4 531.1,118.4 522.5,139.5 562.4,132.8 511.3,123.4 509.2,109.5 540.2,122.3 524.1,111.3 547.4,129.5 564.4,132.8 520.5,124.0 537.8,131.9 572.2,117.6 512.2,123.5 519.4,128.8 558.0,124.1 531.9,125.3 506.5,117.9 516.6,117.3 523.6,128.9 570.0,123.4 519.2,129.5 549.0,114.5 549.1,127.5 507.7,130.4 531.7,124.3 518.9,117.5 511.6,130.6 546.4,122.5 525.2,119.6 500.9,115.2 586.7,116.4 537.3,113.2 535.8,117.2 529.7,124.7 547.0,135.6 529.5,114.6 464.8,123.4 556.5,123.1 539.1,116.9 542.5,137.2 512.0,127.9 537.9,128.6 532.0,114.9 464.5,118.4 556.9,121.7 534.9,125.5 543.2,124.0 517.2,120.8 514.8,126.2 526.0,133.5 548.9,125.6 506.7,126.4 501.6,116.5 546.8,113.7 521.0,121.3 511.4,131.5 532.4,123.2 556.5,126.3 560.8,119.8 513.7,127.1 512.7,114.7 521.4,120.1 556.3,126.2 522.9,123.7 516.1,134.2 511.5,123.7 539.1,114.6 491.0,122.6 507.1,118.4 551.0,124.4 569.5,126.0 521.9,132.8 518.9,125.2 550.5,117.9 528.1,130.7 526.6,128.7 523.4,128.6 513.8,126.3 522.3,127.0 501.6,125.0 548.1,121.5 521.5,133.4 503.6,133.6 519.3,128.0 492.5,121.6 498.0,130.4 517.4,120.5 578.1,125.3 528.0,128.5 529.8,127.0 508.7,126.7 515.8,123.6 522.2,122.2 508.9,112.2 539.5,136.7 551.0,127.8 507.2,123.1 522.3,121.1 521.6,120.0 538.0,123.5 538.2,128.1 526.0,123.0 551.2,127.4 587.3,117.4 507.5,118.9 532.9,124.4 515.9,115.2 515.1,126.5 517.5,113.4 564.0,130.9 523.9,123.6 524.4,128.2 509.2,124.3 508.8,120.5 526.8,115.3 543.3,129.5 526.4,132.2 537.2,121.4 556.4,126.3 506.4,126.4 573.9,122.8 533.0,139.4 524.3,122.4 512.2,117.2 521.2,131.6 520.9,126.5 558.0,127.7 492.6,126.4 546.8,116.4 508.1,116.3 550.4,122.6 516.5,131.6 512.0,119.9 539.7,119.1 577.2,123.8 533.4,113.5 503.8,128.8 525.8,128.4 537.9,131.0 561.8,131.4 515.4,136.8 501.6,122.1 549.3,126.3 554.3,121.7 521.0,126.2 543.1,113.5 524.2,123.5 547.3,118.3 544.5,119.1 509.5,127.6 489.1,126.2 540.3,125.1 540.8,124.7 503.7,130.4 530.6,124.8 514.5,126.6 517.5,134.5 519.3,131.2 554.2,117.8 548.2,126.5 521.7,136.1 522.4,115.8 561.6,123.5 528.9,125.9 544.5,125.5 544.6,130.0 535.7,128.1 559.8,131.0 564.9,124.9 522.9,125.8 537.5,127.3 544.5,128.9 495.2,121.4 534.1,115.2 543.7,137.4 563.6,127.9 547.4,112.5 560.1,130.2 532.5,136.3 550.2,122.0 510.8,123.0 556.4,120.6 519.1,130.4 508.6,134.3 542.0,125.3 565.0,123.2 527.2,135.2 570.6,123.5 534.0,132.4 510.3,121.8 512.1,122.2 549.3,127.4 497.0,123.3 567.4,128.2 505.4,118.9 538.0,129.7 563.2,125.9 545.2,127.8 517.3,124.5 514.8,137.4 522.2,118.0 560.2,113.8 557.8,116.5 540.5,128.3 545.5,131.0 551.8,127.6 540.7,130.9 531.6,119.6 529.7,130.3 541.3,120.3 530.4,133.5 498.6,134.6 559.4,125.2 545.8,119.1 541.3,122.7 523.1,136.3 549.3,125.8 548.1,131.4 531.5,112.9 515.3,125.3 565.0,125.6 537.6,139.2 552.7,127.5 564.5,124.9 526.2,123.1 529.2,129.3 570.4,119.8 537.3,120.7 553.8,121.9 535.9,125.4 544.2,122.1 543.0,128.8 533.1,123.0 512.1,126.0 552.2,124.2 528.2,126.1 523.7,119.6 526.2,136.7 507.1,124.0 539.6,128.6 504.7,126.9 515.6,130.2 534.8,130.9 542.0,130.0 524.2,127.4 568.3,117.1 556.5,128.7 535.0,120.0 553.3,133.8 533.6,130.7 552.0,121.6 522.6,112.1 528.5,110.2 531.0,126.5 578.3,126.0 524.1,116.4 534.0,122.9 506.1,114.4 557.3,123.0 551.0,127.9 524.0,136.1 543.3,118.1 554.4,120.1 551.1,130.2 505.1,121.8 538.7,119.6 528.6,131.6 545.0,128.7 497.5,129.9 514.9,133.1 522.3,119.8 574.9,125.6 561.2,124.9 543.9,129.3 532.8,136.4 576.4,126.9 548.2,128.4 540.8,132.5 525.7,120.1 548.4,135.9 554.4,131.7 541.2,122.4 519.5,127.8 528.8,123.3 555.9,117.9 542.1,113.8 512.4,114.7 528.4,121.0 531.6,125.3 513.1,123.4 581.8,123.1 534.0,125.8 551.2,126.1 534.4,124.5 564.9,120.0 509.9,129.8 535.0,120.5 557.1,125.8 584.2,124.1 567.4,117.9 571.8,123.2 548.0,133.7 492.9,129.6 551.3,119.3 532.1,119.3 548.0,116.8 497.3,131.0 512.1,132.4 573.0,127.9 515.1,128.3 555.2,127.2 551.7,122.1 519.5,140.6 513.1,133.6 572.7,127.0 509.5,123.5 535.8,131.6 560.1,120.2 541.0,130.0 514.1,138.7 543.5,123.1 513.0,125.7 509.3,137.0 548.7,127.7 523.7,121.9 531.9,119.5 546.5,118.6 537.6,139.4 565.6,132.5 558.5,123.5 503.3,125.5 554.8,130.4 535.8,130.6 512.1,129.9 563.7,121.2 534.2,126.5 537.7,124.0 539.0,136.4 555.7,129.4 475.7,121.4 507.4,126.9 532.7,129.8 546.9,126.9 528.5,132.1 528.4,132.6 535.7,117.4 557.7,122.6 503.9,119.3 556.0,114.0 483.7,125.8 527.2,118.9 510.1,128.4 587.4,119.9 489.5,125.8 565.8,127.4 548.3,124.7 501.5,130.0 560.5,118.7 521.1,118.7 518.6,124.3 534.2,134.0 542.0,127.9 472.3,131.3 515.5,131.3 512.5,130.4 479.0,120.2 536.3,124.2 528.6,125.5 528.7,133.0 500.1,125.5 557.8,123.6 571.4,130.2 528.6,129.9 562.7,116.3 522.8,121.2 529.1,132.4 532.1,132.7 569.9,121.6 561.7,122.9 479.2,120.7 536.7,141.0 536.9,119.4 573.6,128.5 552.6,123.2 530.7,127.8 546.7,122.0 549.6,127.5 504.5,117.4 564.2,127.2 533.9,120.7 494.5,122.7 540.9,129.8 582.5,123.6 539.5,128.2 538.7,136.6 504.4,135.2 555.7,125.4 561.6,134.5 520.4,116.7 515.9,137.7 517.0,128.1 534.2,117.7 565.7,117.3 548.1,128.1 522.9,135.3 564.4,118.6 536.6,131.3 550.3,122.5 538.1,132.9 540.1,129.1 551.8,121.9 544.8,127.9 570.2,120.8 564.3,120.6 550.1,123.0 509.4,137.4 512.5,122.0 555.9,124.0 536.6,114.4 525.2,137.2 498.2,128.0 550.9,121.2 529.3,120.8 533.4,130.5 525.6,121.2 556.9,130.6 511.3,125.2 584.3,127.8 505.2,123.3 546.4,128.8 533.9,122.9 493.7,126.1 548.6,120.1 561.8,125.0 500.8,117.5 552.6,128.5 558.7,119.6 531.2,140.8 523.5,130.7 514.9,126.4 509.2,123.5 578.7,128.5 558.9,127.4 547.2,126.0 564.5,127.8 551.7,129.3 539.9,125.8 560.0,132.5 502.9,117.1 543.5,115.6 510.4,124.6 548.6,115.5 533.3,128.8 551.2,125.7 517.0,121.1 490.0,132.3 566.3,126.7 526.9,123.6 560.7,122.1 512.0,129.5 559.0,125.4 519.8,120.4 561.2,114.1 509.4,130.4 518.3,123.7 523.4,118.9 471.8,119.9 519.5,127.7 547.8,124.2 510.9,116.5 548.0,128.0 539.4,132.4 505.9,127.8 543.0,124.9 516.4,134.7 495.4,115.8 543.1,130.2 562.2,122.0 524.9,129.8 561.0,123.1 572.6,122.6 520.9,129.7 518.1,124.3 540.4,122.0 545.0,131.5 529.8,131.9 545.7,132.9 521.0,131.4 520.1,127.6 569.7,125.4 501.1,127.8 551.9,122.1 540.1,113.7 560.3,124.3 562.8,131.0 530.6,131.4 538.6,115.9 523.0,115.9 510.8,116.9 495.2,131.3 557.7,125.3 537.9,125.9 538.7,126.8 511.8,127.8 537.1,131.4 545.3,115.3 496.4,129.4 528.0,125.8 536.7,130.3 533.7,125.9 532.5,116.2 537.5,134.9 498.2,122.2 526.6,129.8 503.1,127.9 532.4,130.3 526.4,120.3 552.7,122.1 530.5,134.5 552.5,117.1 564.1,119.0 540.9,123.4 534.2,118.0 528.3,112.4 552.5,126.8 534.5,136.1 517.5,127.8 515.9,120.1 536.3,127.7 548.8,136.4 556.1,114.8 541.3,126.0 538.2,121.7 523.3,125.2 546.1,127.4 543.4,123.5 550.9,130.6 522.2,128.7 561.9,123.4 496.6,134.1 578.9,122.5 504.9,131.8 537.8,116.9 571.6,125.7 527.7,113.7 512.0,115.9 542.3,125.0 564.0,122.2 515.4,135.7 534.9,122.7 565.8,136.6 565.2,121.6 569.3,120.7 539.4,123.1 543.6,129.2 531.9,125.1 524.2,135.3 501.4,122.7 546.4,124.7 507.7,120.5 525.5,139.2 570.4,130.8 586.2,121.6 524.4,141.0 518.4,116.5 565.7,123.2 495.2,128.4 528.0,123.0 531.6,123.7 497.1,130.0 567.6,131.0 555.7,112.8 549.5,133.0 563.1,133.5 542.3,128.0 562.9,118.9 538.9,114.7 557.1,127.3 512.0,110.2 525.2,123.3 531.8,129.0 497.6,126.9 531.9,119.7 522.7,135.9 509.9,126.2 540.2,121.3 525.7,122.5 537.8,115.3 533.2,125.0 547.5,118.4 513.3,129.0 528.2,139.6 564.4,119.4 535.0,104.5 563.7,114.9 570.6,120.2 502.0,116.1 544.2,132.5 535.7,121.1 557.1,123.9 522.5,121.0 517.0,126.4 552.1,132.9 543.1,137.1 513.2,133.8 532.4,121.4 533.3,120.1 536.7,127.1 545.8,126.8 537.6,119.3 521.4,118.6 509.0,127.3 494.6,129.3 571.1,122.6 563.7,131.6 511.2,122.9 553.6,120.5 496.0,122.7 532.8,125.2 545.5,127.0 495.6,132.8 501.2,134.4 531.4,117.6 518.1,130.8 508.1,137.0 536.0,128.9 529.0,132.1 545.7,132.4 547.1,129.1 552.7,129.9 544.7,122.9 532.7,115.5 538.6,131.2 550.4,129.7 522.0,125.9 538.7,115.2 494.3,127.6 560.5,125.5 541.9,116.4 506.1,125.7 552.8,128.2 494.1,132.3 539.0,124.6 577.0,118.5 498.8,119.3 555.6,116.4 531.0,129.5 537.9,116.1 548.9,115.7 552.6,128.3 511.2,114.1 499.6,128.2 527.2,131.8 521.3,125.9 533.0,129.3 537.4,120.0 515.5,128.5 493.9,121.5 550.3,116.9 506.6,112.1 554.8,126.4 525.4,127.9 506.3,121.0 520.4,130.5 546.5,124.7 520.9,127.4 523.1,117.4 557.8,128.5 533.6,117.2 527.8,114.6 544.9,121.6 486.2,120.5 542.4,122.1 545.7,122.4 522.7,120.2 536.0,132.5 510.8,124.9 542.3,138.7 486.5,119.2 534.2,107.8 498.8,127.5 520.5,122.4 567.3,117.0 511.0,118.1 506.2,124.0 538.5,121.9 515.9,117.4 532.9,126.1 528.3,132.7 551.3,123.3 545.1,114.6 514.3,127.7 534.7,120.5 530.4,120.0 545.1,135.6 518.6,138.9 527.8,128.6 548.2,124.3 533.0,117.9 548.4,132.2 518.4,123.8 574.2,124.9 530.5,124.2 552.7,125.5 541.4,128.1 521.7,131.0 549.9,128.3 547.3,123.0 557.2,138.7 512.0,133.7 530.7,120.8 570.3,118.2 543.3,127.8 546.9,137.9 556.1,124.9 548.8,131.1 509.1,130.1 533.5,123.7 526.3,123.7 550.3,131.6 532.1,136.0 521.8,120.1 517.9,113.9 546.2,120.2 536.9,120.4 559.9,124.2 522.2,129.5 579.3,124.5 523.9,130.5 495.4,129.1 542.0,128.5 516.9,123.3 545.2,128.0 541.7,131.5 554.5,130.2 526.7,125.1 524.8,133.3 583.2,117.9 494.0,125.2 505.1,123.9 504.2,122.2 546.8,115.5 562.5,126.8 556.5,127.3 531.9,129.2 493.6,122.1 487.3,127.5 546.7,124.7 497.9,130.1 550.3,119.1 571.6,132.1 545.2,128.2 552.3,134.3 531.2,121.4 519.5,128.3 511.7,118.8 503.7,131.8 526.8,128.0 583.6,122.6 515.2,122.2 542.5,123.9 533.0,123.0 507.3,133.7 524.6,133.0 550.8,114.4 563.2,122.4 542.4,129.7 504.3,122.4 500.1,124.0 531.2,121.1 535.7,125.2 521.0,137.0 526.5,121.5 558.8,117.8 511.4,132.0 550.8,127.7 541.8,134.7 521.6,115.9 491.9,125.0 502.2,115.7 524.1,132.5 494.7,130.5 474.9,129.0 585.4,123.1 528.3,133.4 542.5,128.4 514.7,117.1 544.8,130.6 569.0,124.5 546.2,124.5 562.0,121.6 526.4,121.3 525.4,125.1 572.8,128.7 510.4,128.5 522.9,117.6 497.4,111.2 571.5,126.1 538.8,128.0 550.2,121.5 552.1,120.9 579.6,124.4 550.8,126.2 535.4,124.5 533.3,123.7 514.6,126.9 520.4,133.4 518.0,129.1 531.0,136.0 528.5,133.2 515.4,124.7 560.4,123.3 523.1,128.8 565.8,132.1 561.1,132.1 519.7,125.6 529.3,115.3 546.0,125.7 556.8,124.7 515.7,118.7 569.5,118.5 507.1,113.7 524.8,121.0 562.4,113.0 496.8,132.5 562.1,122.2 527.2,144.8 544.8,126.5 473.5,108.7 476.1,129.5 534.4,124.4 552.1,126.5 513.5,128.3 485.3,133.1 580.7,126.4 532.6,113.7 559.1,124.1 551.7,126.6 513.3,119.5 537.6,115.8 528.4,128.3 542.6,126.7 527.2,131.7 540.5,123.7 577.3,124.0 493.4,122.9 588.0,124.9 515.8,127.0 467.6,128.1 530.1,135.7 548.0,130.3 491.2,130.6 549.3,114.4 563.8,123.6 522.5,127.6 557.2,127.5 544.3,119.8 513.3,129.7 545.0,125.4 531.6,129.3 533.0,114.0 566.3,132.0 535.6,125.3 535.4,134.7 531.5,125.0 518.5,123.9 477.4,135.7 536.9,123.4 530.6,128.9 538.8,119.0 555.6,125.3 523.6,119.1 547.2,120.3 528.0,131.5 538.9,129.6 561.4,120.4 483.4,121.6 565.7,119.5 523.4,131.5 557.2,119.6 535.9,133.2 498.7,124.2 515.1,130.3 544.9,119.3 486.1,130.3 564.9,124.7 526.5,121.8 507.8,133.8 535.0,115.9 558.3,124.8 558.2,126.9 506.9,136.7 540.8,120.1 543.2,125.7 525.1,118.9 533.4,135.2 566.6,127.4 543.7,125.5 559.2,123.5 563.2,123.5 523.7,129.2 549.8,129.9 556.3,126.1 512.8,131.6 531.1,114.5 552.6,125.0 513.3,113.6 528.0,125.9 524.6,117.3 538.6,128.6 538.8,131.9 509.8,127.0 467.0,118.3 581.1,128.0 531.2,136.1 538.5,124.4 551.9,132.4 520.4,130.1 528.7,111.2 529.8,126.2 522.6,120.8 561.7,117.0 509.4,119.1 535.2,117.9 559.3,121.4 495.3,125.1 522.8,123.0 535.4,119.2 497.0,130.7 532.7,123.9 525.0,126.1 535.8,119.2 531.8,124.4 491.9,142.9 500.2,123.6 480.5,123.3 532.2,125.9 517.4,128.7 554.0,123.1 533.9,129.1 539.5,118.3 534.1,128.3 506.9,125.3 513.0,135.2 554.9,128.3 486.8,130.6 577.7,124.3 503.4,133.1 551.4,122.9 539.5,126.9 545.8,116.4 545.9,126.3 501.7,123.1 571.2,121.3 505.0,124.7 565.0,127.5 546.1,118.3 572.9,131.0 493.5,123.5 551.0,127.1 534.0,128.6 562.7,135.5 540.5,133.5 518.6,135.9 513.1,126.1 535.1,114.4 529.3,123.7 542.8,124.0 568.9,123.7 538.0,126.5 534.6,126.3 557.9,124.7 536.1,126.2 552.3,127.7 556.6,127.9 550.8,114.4 540.0,126.2 506.8,121.1 534.8,120.0 519.1,122.6 577.0,122.2 526.8,134.4 534.3,121.7 548.6,131.6 510.3,132.3 510.5,127.7 540.8,113.8 539.1,116.6 495.6,115.9 553.3,122.6 553.9,121.7 579.5,120.6 493.5,137.3 572.4,124.5 565.6,126.1 519.1,128.2 541.9,124.4 519.9,122.4 549.0,130.5 508.3,138.7 527.3,125.9 518.1,129.9 531.4,125.7 547.9,120.5 544.8,118.8 511.7,122.0 543.3,131.8 518.5,123.1 536.3,133.9 521.5,116.0 554.4,124.5 566.3,128.7 530.5,119.7 526.6,133.2 548.3,116.1 474.7,124.9 505.0,127.9 501.2,109.0 518.5,125.6 517.9,132.4 523.8,124.6 575.8,122.8 571.4,128.9 536.2,128.7 497.6,101.7 528.8,124.3 516.7,129.7 510.1,119.3 525.0,126.9 538.8,133.4 540.0,126.7 545.0,127.7 535.4,122.5 557.3,128.5 557.4,130.0 530.0,125.1 537.9,141.5 511.4,127.1 556.3,128.6 570.1,132.4 536.3,122.4 534.9,124.2 556.5,129.1 548.4,119.2 529.0,141.0 506.4,131.5 509.5,123.1 515.5,109.8 548.0,132.8 527.7,116.0 550.5,130.9 558.9,127.2 586.7,125.4 548.6,122.0 524.0,126.9 561.8,122.1 533.1,123.0 575.7,120.0 545.7,123.5 497.6,125.1 523.0,121.2 520.2,123.0 509.7,120.1 517.3,126.1 548.1,127.1 534.7,119.0 576.2,131.5 513.2,121.5 556.7,127.4 536.7,127.1 588.2,124.1 506.4,136.0 504.4,117.5 525.3,113.2 549.6,123.0 549.7,120.7 556.2,130.1 521.4,129.5 537.0,127.4 505.5,130.5 576.6,115.1 514.3,123.5 533.6,131.4 551.3,125.5 573.9,122.1 527.2,143.2 532.1,120.4 517.7,120.2 550.6,135.1 529.9,123.9 552.3,124.2 534.1,128.2 527.6,125.9 509.4,121.8 526.8,122.5 522.6,123.3 537.5,120.1 545.4,119.9 530.6,126.3 528.3,134.1 531.5,118.9 552.7,129.7 541.6,121.0 502.5,123.7 542.3,121.0 540.5,136.4 487.0,113.0 525.2,117.7 564.3,124.1 507.6,117.0 533.6,122.6 545.8,119.8 558.3,132.1 501.3,125.0 534.7,120.9 531.3,127.1 582.2,118.4 561.8,119.5 516.0,126.5 532.9,133.1 514.1,124.9 505.9,122.4 545.6,126.8 526.5,122.0 545.8,123.2 505.7,136.5 582.6,126.1 525.9,137.8 515.7,130.7 553.2,139.5 501.6,128.6 523.0,131.0 524.1,136.2 540.8,118.3 538.1,129.1 564.2,122.2 510.3,129.7 520.2,126.2 563.0,128.0 531.1,125.2 506.5,129.0 548.9,118.8 490.5,121.3 527.7,117.5 549.1,114.0 541.8,128.0 515.0,135.3 547.5,122.3 553.7,123.1 499.4,128.6 528.8,124.9 552.5,117.3 541.2,138.3 510.6,139.8 516.6,133.7 540.1,127.0 560.7,119.2 523.8,119.8 534.8,123.0 566.1,129.9 532.9,115.9 516.6,124.5 537.6,128.4 503.9,130.4 511.5,118.9 540.3,121.3 506.7,122.7 537.9,119.1 517.6,120.7 566.6,115.9 512.7,133.2 500.2,119.7 548.4,123.3 514.2,117.8 572.1,124.3 531.7,118.2 546.4,117.5 525.1,123.7 526.6,129.6 527.6,127.8 546.3,127.1 536.2,131.0 505.8,116.6 511.5,114.1 556.5,137.0 519.6,128.6 535.0,127.1 520.4,117.8 531.5,119.7 518.5,130.4 565.7,125.8 508.8,127.0 559.1,125.6 517.7,121.8 557.5,125.9 527.1,128.3 530.1,114.7 531.0,123.3 486.5,124.8 535.8,127.9 524.9,134.7 499.4,124.9 519.5,126.5 530.3,129.2 517.4,114.0 508.5,129.2 527.6,133.4 511.9,120.4 556.5,124.2 553.8,118.3 515.5,118.9 573.8,125.7 576.7,127.2 508.1,126.2 515.7,121.8 508.7,125.4 488.9,126.1 559.0,126.1 541.8,118.9 508.9,134.2 536.4,124.1 528.3,132.2 562.8,130.3 528.4,126.2 551.4,127.6 515.4,112.8 514.8,120.7 530.9,129.0 533.5,127.6 541.8,141.1 533.9,125.4 511.9,128.4 578.1,121.3 540.1,127.5 567.3,126.4 515.3,121.5 511.8,131.0 568.7,131.6 533.0,125.2 540.7,134.5 529.2,128.1 579.9,119.8 516.8,120.3 550.0,125.8 528.9,127.7 498.2,130.0 556.6,117.4 578.3,125.3 549.1,138.8 528.3,134.1 554.0,133.9 510.1,133.0 543.9,120.5 512.9,114.3 538.4,130.9 542.8,125.6 554.2,123.2 586.2,119.3 519.6,120.9 552.5,130.5 517.0,131.1 476.5,121.8 529.5,118.0 521.5,125.4 551.7,119.8 542.1,131.8 586.5,120.4 566.7,116.9 567.7,122.4 545.8,121.7 499.2,120.7 511.7,123.2 510.8,121.3 523.2,109.9 539.2,122.6 513.3,127.8 533.3,127.8 524.4,131.6 552.6,127.1 515.5,123.6 515.5,127.1 522.6,131.9 529.3,131.2 505.2,123.7 527.7,135.3 525.4,124.7 544.7,123.3 540.6,122.0 523.1,131.1 549.1,127.5 534.9,121.7 556.8,118.5 518.5,128.3 547.8,133.4 505.1,122.0 520.2,131.9 553.6,122.2 556.3,126.6 527.9,128.1 541.7,137.8 518.4,121.4 516.4,126.3 537.6,122.5 523.5,133.2 517.9,114.8 493.7,125.2 530.0,113.6 581.9,119.9 511.0,131.1 517.0,129.2 540.6,130.4 528.8,116.3 567.9,132.9 512.4,128.3 564.6,126.0 578.9,122.3 567.8,128.3 527.3,119.3 547.8,136.0 528.2,124.7 549.1,128.8 574.9,123.3 568.1,122.4 536.5,127.8 507.5,120.3 552.1,119.9 525.8,132.4 525.8,127.9 534.3,119.5 513.4,129.0 550.5,120.1 585.8,121.5 514.9,132.6 516.2,125.4 540.4,126.0 520.3,127.1 532.7,122.0 536.5,130.9 507.5,116.3 532.5,127.0 534.0,118.6 527.3,124.7 529.1,122.1 511.2,124.5 558.3,118.6 548.8,123.5 570.9,121.0 566.9,129.9 509.2,120.7 528.4,128.6 512.6,116.3 507.0,125.2 502.3,127.0 586.5,114.7 523.1,132.4 572.2,127.8 493.3,123.6 509.6,135.2 560.5,128.3 510.0,124.8 530.2,118.6 536.7,115.7 560.8,115.7 560.5,124.3 547.1,125.1 498.6,133.4 551.7,138.0 515.5,134.1 533.1,132.5 540.3,126.8 523.7,131.3 483.2,125.4 504.7,127.7 543.1,119.2 550.8,116.9 501.8,121.5 570.8,122.4 508.9,123.3 522.6,130.0 559.1,125.6 508.7,130.2 579.9,127.0 550.1,124.1 561.5,125.9 512.7,130.0 510.8,109.1 539.1,127.6 563.6,121.3 530.3,121.8 540.8,118.7 572.7,125.4 533.7,127.0 562.8,122.6 552.7,120.1 519.9,125.0 566.5,120.0 553.3,126.5 526.3,131.3 528.3,126.2 501.5,118.3 516.9,124.2 548.5,128.3 492.8,119.6 544.0,126.9 560.7,120.1 512.5,126.3 493.9,127.5 567.1,128.2 553.6,133.0 527.8,119.8 574.2,122.0 552.0,115.6 478.2,136.8 578.2,113.9 548.4,124.8 540.6,125.4 520.4,125.9 531.7,121.5 550.3,119.6 548.1,130.7 566.7,136.7 537.3,123.6 522.3,113.8 509.4,133.3 522.9,123.1 552.9,124.4 550.0,129.0 520.6,125.0 503.5,124.6 525.5,121.4 511.2,129.2 521.5,128.2 511.5,127.5 503.4,122.4 550.1,125.2 530.2,131.5 512.4,127.2 513.7,133.4 538.4,125.8 525.2,131.0 533.3,130.3 524.7,124.6 551.2,120.9 520.6,118.1 507.9,126.9 564.6,113.2 537.5,127.9 525.9,133.6 531.2,128.5 517.2,118.2 516.6,115.0 554.0,121.5 521.0,129.1 488.5,124.1 528.3,123.4 519.1,122.7 500.1,139.8 545.5,119.1 462.0,117.6 526.5,126.9 499.1,132.2 551.0,129.1 533.7,126.8 580.4,120.2 504.1,128.9 508.1,134.7 518.8,118.8 535.7,121.5 531.4,128.5 536.4,126.2 579.0,116.7 543.2,121.9 488.6,126.6 516.4,120.7 563.0,126.5 529.6,128.8 553.2,124.9 569.5,119.0 534.6,109.4 527.7,129.8 529.4,131.5 525.2,126.4 555.4,133.2 502.6,130.8 527.8,123.0 516.7,116.3 522.7,127.3 536.1,118.5 541.7,125.4 522.3,124.8 544.1,127.5 534.3,137.7 522.6,118.4 567.5,124.7 485.0,114.2 530.9,109.5 525.3,119.5 520.6,117.2 561.5,129.9 564.6,111.0 529.7,133.6 541.2,128.0 500.3,132.6 540.4,134.9 559.7,122.5 530.7,117.0 513.5,121.6 503.6,128.0 549.5,128.2 532.1,121.8 569.8,118.5 545.3,126.9 501.5,115.0 577.9,132.5 554.8,125.2 551.0,123.4 530.3,126.0 533.9,118.5 528.7,129.4 549.8,121.6 544.8,123.8 568.6,119.3 539.6,127.0 549.9,135.6 522.7,130.5 538.7,128.1 551.6,122.9 586.7,123.4 527.1,118.1 553.7,120.1 562.6,126.3 519.2,130.4 536.9,119.5 510.1,129.3 503.5,113.2 553.1,123.8 506.3,132.4 519.5,125.7 505.1,127.3 562.8,124.5 536.8,138.8 528.2,126.8 518.4,134.6 532.9,132.4 521.8,136.0 532.3,120.1 515.0,123.8 499.3,122.2 547.1,127.5 555.1,129.5 535.6,115.3 534.0,133.0 561.3,122.0 528.1,137.4 490.8,135.5 569.0,122.9 514.7,118.6 568.6,128.0 545.7,134.8 543.2,114.8 501.7,125.5 519.7,126.5 536.6,124.0 555.2,122.2 558.9,119.6 560.1,128.0 544.0,127.6 514.9,113.5 541.3,125.3 485.5,127.3 552.5,126.1 521.8,116.6 527.3,128.0 532.2,127.4 559.0,121.9 532.9,128.2 529.3,115.2 527.4,121.7 497.8,123.8 550.5,118.2 541.9,122.1 542.0,119.2 582.2,122.9 515.5,122.1 531.9,121.8 552.6,124.2 524.3,123.9 505.5,124.1 513.9,123.0 537.4,127.1 506.5,125.6 518.7,126.8 550.7,119.9 504.5,120.0 566.2,119.2 541.0,126.1 575.1,125.3 499.0,125.3 541.2,131.7 506.2,113.4 537.2,120.9 520.9,135.4 530.4,117.4 519.0,137.2 530.5,127.6 534.9,132.4 527.3,129.3 555.1,124.1 554.8,125.2 484.8,138.2 547.0,120.3 554.9,125.3 492.9,129.0 543.9,117.4 526.5,129.4 516.5,119.4 554.7,134.4 562.8,128.9 500.2,135.9 517.6,111.3 506.4,130.3 538.4,123.2 523.8,136.1 525.3,130.3 493.8,125.0 501.3,137.1 569.4,120.0 567.8,123.8 525.3,126.5 503.6,121.2 540.9,127.5 492.1,126.6 571.9,117.8 554.8,126.8 537.9,122.3 539.2,119.2 519.6,140.9 479.4,131.8 503.2,121.7 559.4,124.7 547.1,124.9 538.7,128.7 525.5,118.3 528.6,126.2 562.1,119.8 525.8,124.3 511.7,125.1 542.0,125.6 538.5,123.5 476.9,131.2 536.5,128.9 512.7,127.5 571.5,125.2 519.9,129.0 507.6,122.8 512.3,120.1 555.6,121.9 558.5,125.2 494.6,126.3 549.4,133.9 506.9,118.9 544.8,117.5 550.0,124.8 544.6,120.5 534.1,127.3 542.0,127.5 516.6,135.4 504.4,119.2 525.1,124.9 529.5,124.1 500.6,125.3 521.1,119.0 549.0,132.1 511.9,122.3 562.4,120.8 530.9,118.8 479.5,129.2 511.8,132.4 547.7,123.7 541.1,126.3 549.0,120.8 521.1,119.9 512.8,114.7 504.1,127.7 509.2,125.6 565.2,127.9 576.0,118.1 543.5,128.9 555.6,139.7 516.7,119.7 533.6,110.1 518.7,134.3 529.5,122.2 574.4,131.3 538.2,117.9 518.8,128.8 506.2,121.0 553.9,121.8 540.3,119.6 531.7,121.3 553.6,118.0 546.5,124.8 551.1,133.5 493.3,115.5 537.7,132.2 520.9,126.8 536.2,130.6 557.8,133.4 509.7,115.2 550.3,134.6 506.5,125.5 541.1,128.2 535.1,124.9 508.3,125.5 587.5,125.7 511.3,121.6 566.0,119.5 520.1,126.4 539.5,127.0 544.1,119.0 547.5,125.4 530.1,114.3 506.2,113.0 552.0,124.6 517.5,114.0 563.1,120.1 583.4,130.3 537.2,127.8 517.8,125.4 547.3,122.3 531.6,134.5 547.9,121.8 584.4,120.1 535.2,133.3 518.6,124.6 552.1,122.3 565.8,129.2 518.3,124.7 505.5,129.8 567.1,122.9 532.1,129.5 535.6,126.0 509.1,120.7 504.4,117.5 526.5,140.6 498.0,124.0 514.0,114.1 567.1,114.5 555.6,117.7 520.2,117.4 524.2,126.2 502.4,125.5 544.0,125.8 508.4,120.0 556.1,125.3 553.0,119.6 511.2,126.1 490.5,132.6 544.6,130.6 543.8,123.2 485.7,129.0 570.4,124.1 537.4,130.2 496.6,136.2 530.4,131.6 537.4,138.1 568.0,116.4 517.0,123.8 513.5,120.3 514.9,126.9 565.8,121.9 527.1,135.9 497.0,118.1 547.0,125.0 564.7,123.8 517.5,126.6 532.5,126.0 548.3,123.6 528.5,130.3 510.9,138.2 523.6,135.8 490.5,132.0 486.3,116.8 564.1,129.2 583.2,121.0 474.4,125.7 510.7,137.3 528.3,118.3 545.1,134.1 518.7,130.9 561.8,125.1 511.2,131.9 487.6,131.4 555.8,135.1 539.1,126.4 553.9,131.2 556.2,116.5 495.9,126.1 529.7,125.1 511.1,120.3 570.4,128.5 520.7,121.1 537.7,130.6 564.0,121.9 558.9,125.6 565.0,126.7 507.8,125.9 501.2,117.6 552.0,134.5 538.6,120.3 525.9,123.1 520.5,126.3 532.5,122.7 511.4,133.4 542.4,128.6 546.9,128.3 503.2,121.0 540.9,121.0 526.4,128.3 564.7,132.7 576.1,121.7 533.1,125.3 548.9,129.7 541.1,131.5 490.3,124.6 536.9,121.6 547.8,121.2 553.4,130.8 563.6,111.2 521.0,134.2 550.9,119.9 558.7,116.7 501.3,123.4 545.6,117.9 513.2,125.7 525.6,127.0 531.0,126.9 492.2,126.2 536.1,128.3 449.5,130.5 518.8,131.7 572.9,120.0 530.1,121.9 511.3,122.8 520.2,116.1 561.2,125.3 549.3,129.8 496.6,120.4 573.9,125.4 522.0,137.8 586.1,127.9 511.3,127.2 563.7,124.3 534.1,125.8 554.9,125.2 538.4,126.2 507.9,117.0 517.9,134.7 524.1,125.7 554.3,133.1 504.1,124.8 543.8,132.2 507.3,124.8 531.1,136.6 513.5,116.1 509.1,119.0 497.8,116.1 573.0,126.9 518.2,121.8 504.8,122.3 563.8,123.2 542.3,126.5 558.6,129.1 572.7,124.2 526.7,136.7 524.0,124.4 564.4,132.4 531.5,130.5 505.8,125.9 516.3,120.2 469.9,121.1 488.9,138.8 547.0,127.3 537.6,132.0 509.4,130.8 533.2,131.5 524.5,131.6 540.1,132.8 484.6,143.3 534.1,125.3 557.6,128.8 507.2,135.8 552.7,128.6 558.2,125.2 527.9,138.2 518.3,120.7 519.9,121.5 495.1,119.2 561.2,123.0 504.9,129.4 518.8,124.7 486.1,131.6 553.5,124.2 552.3,120.3 507.1,134.8 545.6,125.2 536.4,131.1 558.9,122.2 561.8,126.4 551.1,125.5 512.0,126.5 494.8,127.1 538.8,121.3 509.3,134.7 517.0,139.6 518.8,108.6 538.0,130.6 518.2,114.2 506.6,126.7 532.6,130.8 517.3,137.0 514.4,117.3 568.4,125.6 551.4,122.5 537.1,126.7 563.6,121.7 529.1,127.5 556.9,128.0 517.3,127.8 522.6,117.6 543.0,126.1 521.9,116.6 545.1,112.9 556.3,126.0 521.4,127.8 538.9,120.7 546.1,116.0 498.1,125.7 500.5,132.7 520.1,130.2 511.3,136.0 561.7,126.3 557.6,130.7 478.9,129.9 555.6,128.0 544.0,132.0 567.8,122.3 559.6,126.2 565.1,124.1 522.8,130.2 535.8,131.8 505.9,125.1 551.5,126.8 554.6,116.3 504.2,124.2 511.4,130.2 538.7,140.8 549.0,120.4 547.5,121.5 577.9,125.4 560.7,117.3 546.2,136.0 530.7,127.9 495.7,126.3 552.6,126.5 530.1,116.2 519.8,132.2 535.4,118.5 548.7,124.8 522.7,117.8 555.7,134.3 542.4,140.4 570.3,121.4 519.4,134.5 527.3,137.5 548.0,128.3 492.1,126.1 562.8,130.9 526.0,113.9 538.9,129.3 539.0,120.8 510.4,126.6 495.4,136.4 497.6,120.4 541.9,121.1 563.6,124.3 540.1,123.1 545.7,131.8 527.9,126.9 535.3,130.8 531.3,124.0 538.9,122.0 554.1,121.9 557.6,120.4 567.8,121.4 519.7,110.6 561.5,118.3 551.9,124.8 507.1,123.1 526.0,128.6 483.4,115.7 506.5,133.2 545.6,122.0 515.5,126.0 540.5,124.7 547.1,120.8 525.7,136.6 586.2,124.9 510.8,121.0 548.5,128.9 478.2,117.5 533.6,123.9 542.1,127.0 542.1,133.6 524.9,113.7 472.8,117.8 481.0,131.6 555.5,127.1 520.6,135.9 531.6,127.1 519.2,136.3 538.2,123.1 561.8,122.0 570.9,118.8 466.9,114.9 532.0,132.9 544.8,119.7 497.4,134.1 551.0,128.3 569.4,123.3 521.3,134.7 548.8,135.2 503.3,134.6 575.3,116.7 529.2,128.5 551.3,118.1 515.1,111.4 529.5,118.5 477.9,126.3 517.8,112.8 529.3,134.4 581.2,126.4 534.4,134.2 550.7,124.1 527.5,128.6 520.8,130.7 500.7,118.0 555.9,132.4 506.6,123.3 529.6,128.0 528.4,124.3 530.3,118.8 558.0,121.9 572.2,125.2 521.3,106.3 488.2,136.3 478.0,123.6 508.9,118.9 484.2,126.9 525.1,133.1 561.2,126.7 545.3,128.6 538.1,128.6 536.2,126.5 518.2,123.1 530.0,132.4 509.3,123.0 566.3,130.7 524.5,123.0 559.4,121.0 506.1,125.7 556.0,123.6 529.1,133.8 538.4,126.2 535.2,116.0 562.9,128.5 540.0,127.6 536.8,115.2 556.4,124.7 518.7,127.0 543.2,128.6 560.9,124.6 506.2,112.4 465.0,127.7 531.6,119.4 561.2,117.2 571.8,122.7 537.2,119.2 533.9,134.3 523.6,121.6 549.1,131.6 563.2,123.0 498.5,122.8 558.6,122.0 527.0,131.2 561.3,123.5 534.3,128.6 509.7,138.4 526.2,118.6 552.8,128.9 571.1,125.2 510.4,119.5 567.7,126.2 505.2,126.4 476.3,125.6 571.0,122.9 516.9,121.2 522.7,117.6 525.9,112.5 526.1,124.7 512.0,134.4 542.7,123.4 511.2,122.2 524.6,129.6 532.8,123.3 551.9,118.2 543.6,129.9 518.1,123.5 505.8,127.1 525.3,126.6 538.8,119.1 573.7,120.2 558.7,130.4 559.3,118.0 502.1,109.2 520.9,141.7 576.8,123.6 515.3,129.7 560.1,123.4 525.5,118.3 512.0,131.6 521.0,130.9 551.0,126.5 509.3,129.0 487.0,124.8 536.9,121.9 528.9,123.3 512.1,125.8 538.2,133.5 548.5,124.4 535.7,129.0 582.4,123.6 516.1,131.6 548.6,126.5 515.6,130.7 556.8,124.4 559.7,124.8 506.2,120.2 542.1,129.6 527.1,132.4 554.3,127.3 545.9,123.8 528.3,123.5 528.6,133.7 524.5,133.7 552.5,121.4 520.5,121.8 540.4,119.6 512.2,125.8 510.8,130.4 567.2,133.9 512.6,122.7 553.0,129.4 486.0,137.3 543.2,118.8 556.2,128.8 566.8,125.3 549.2,126.3 572.5,126.4 483.2,128.0 539.0,124.0 517.4,127.5 507.4,127.5 536.5,124.3 573.7,132.8 546.8,122.8 506.9,125.5 534.3,132.5 551.7,114.4 550.5,120.8 559.9,125.4 557.7,129.1 538.8,121.3 565.7,125.8 527.5,122.9 532.6,125.0 553.6,129.2 555.4,122.9 528.2,134.2 519.5,126.2 556.8,135.3 551.4,124.0 507.6,120.3 543.9,122.9 511.2,133.2 556.1,117.4 543.2,126.7 523.8,137.2 557.9,125.3 563.7,128.1 559.5,128.4 548.4,117.3 517.8,120.0 534.3,132.1 539.2,121.7 517.6,127.7 521.0,131.0 529.5,120.5 522.7,117.8 525.5,130.5 559.9,117.5 519.1,122.1 506.9,128.6 525.6,121.3 504.8,129.3 518.2,125.3 505.4,134.7 539.5,135.1 554.2,132.1 489.9,115.0 564.1,128.6 508.7,122.8 582.5,121.3 550.1,131.9 492.4,123.4 558.4,124.1 534.4,116.9 514.6,118.8 554.1,128.4 537.4,125.1 548.2,130.9 529.0,125.4 535.2,125.8 540.4,126.8 522.7,119.2 519.3,128.0 513.7,133.4 545.0,125.7 531.3,123.0 530.4,121.5 577.0,122.5 528.2,115.2 551.1,134.4 565.8,123.4 554.5,131.2 514.5,130.2 547.5,131.8 517.8,119.8 519.4,125.2 513.4,137.0 532.5,126.7 500.8,119.6 553.7,120.2 522.5,133.4 532.4,124.9 530.4,129.7 511.1,130.7 532.5,129.1 573.6,125.3 545.1,128.2 530.2,132.2 523.1,135.6 485.8,117.3 509.7,123.1 531.5,129.6 551.5,128.2 544.7,127.6 557.2,119.9 536.0,118.9 546.3,116.3 531.6,135.9 539.4,124.2 526.0,127.3 528.2,134.0 574.7,127.3 509.4,136.2 514.7,126.2 569.0,121.6 517.4,134.0 508.3,126.5 554.8,127.5 571.9,115.7 538.2,139.3 560.0,125.2 550.1,119.7 510.9,125.5 538.6,130.4 550.7,125.9 525.0,113.8 538.4,115.6 530.8,119.3 516.9,125.0 559.7,135.7 547.0,126.9 559.9,123.8 532.7,134.2 517.2,128.0 517.6,127.9 539.6,133.9 559.1,126.1 548.5,137.2 522.3,127.9 525.4,130.3 541.7,123.2 511.5,138.6 551.5,126.9 559.4,120.3 532.0,135.2 526.0,130.7 563.4,132.8 555.8,133.0 521.1,135.1 518.1,128.8 543.1,129.1 550.5,115.5 538.2,133.0 530.3,126.6 526.0,118.6 561.4,114.8 546.7,140.7 531.3,121.7 515.6,129.8 555.7,124.2 508.1,129.7 462.4,126.0 505.8,126.3 506.7,131.9 522.4,108.1 506.7,133.6 521.8,119.2 553.1,121.3 526.9,125.2 516.4,127.1 515.6,135.3 511.2,113.6 543.7,130.0 531.9,128.9 562.9,124.7 519.6,121.6 541.9,129.7 516.4,125.1 496.2,131.9 558.0,120.4 560.5,127.0 520.5,127.7 523.2,117.8 529.2,117.3 517.8,123.6 572.3,127.4 519.2,129.8 496.7,127.9 519.4,111.8 523.2,139.7 556.5,120.0 533.6,124.2 551.2,128.3 535.4,125.0 573.1,118.1 538.3,134.1 555.0,125.3 561.7,124.4 538.6,121.7 517.3,130.2 588.0,126.4 556.2,121.4 553.5,117.7 503.1,119.9 486.3,125.7 542.3,119.5 559.8,129.5 528.0,127.0 518.1,131.3 518.9,118.6 566.2,121.0 573.7,123.7 509.0,130.2 539.2,119.5 562.8,129.0 556.8,127.7 548.3,120.2 569.1,126.7 540.1,123.1 524.6,125.4 548.3,134.6 519.4,111.2 545.0,128.8 491.5,132.2 546.6,121.5 544.9,122.1 520.3,115.8 508.1,122.8 528.2,137.0 555.6,126.4 551.1,118.2 538.3,129.9 529.4,126.5 568.2,120.5 571.6,120.9 516.6,120.1 557.2,125.6 545.3,127.4 504.9,126.6 552.3,127.1 482.0,131.2 559.9,123.7 560.8,128.5 524.6,132.4 516.2,122.7 537.7,128.9 541.4,133.6 525.3,135.6 499.3,134.7 508.7,115.9 566.7,118.6 520.8,122.0 507.9,129.5 540.1,135.5 539.1,122.0 485.9,141.7 528.0,126.8 537.8,132.9 547.8,124.7 517.3,115.5 540.5,121.2 578.0,125.9 529.3,137.2 529.1,123.2 547.2,124.2 504.8,131.5 491.2,134.9 536.7,123.9 512.9,127.4 515.5,121.9 549.0,128.4 523.5,133.9 523.3,111.7 533.8,120.4 547.6,116.8 526.5,131.8 558.2,120.0 518.7,118.8 533.8,126.2 576.8,121.7 541.4,127.6 538.7,119.1 544.7,129.9 544.5,126.2 541.3,126.8 483.3,136.4 525.2,140.3 499.1,112.7 550.2,127.8 541.7,139.3 539.9,119.6 538.5,134.0 556.6,127.7 520.8,124.7 527.1,112.7 530.9,111.9 544.6,132.8 534.1,125.6 567.6,118.4 518.8,128.9 513.2,123.6 571.6,128.7 526.0,130.8 546.4,123.0 533.2,121.7 515.8,128.4 545.0,113.5 533.2,125.6 564.7,124.1 564.4,123.3 561.0,123.7 512.7,131.5 544.1,114.2 577.6,125.2 508.1,131.5 556.6,132.9 556.1,123.0 549.4,132.1 543.6,120.0 533.3,119.4 535.1,123.8 527.0,134.8 530.7,122.8 516.5,138.6 497.7,117.6 529.2,131.0 563.9,125.4 498.7,128.9 513.5,127.2 512.8,125.6 545.4,128.9 529.7,127.0 554.2,128.9 552.4,118.4 529.9,132.3 527.2,137.5 521.6,133.8 530.4,128.4 546.8,124.8 544.5,125.8 541.2,132.6 550.2,118.0 560.9,131.5 544.5,135.2 552.5,126.3 523.5,130.9 528.8,126.1 511.5,125.7 540.7,122.5 533.4,126.1 557.8,123.1 501.6,121.9 547.6,140.8 530.3,123.4 535.0,125.3 530.5,116.8 543.1,127.2 528.8,112.2 513.9,129.4 541.8,124.7 541.2,117.2 560.9,122.5 535.2,126.3 528.7,119.3 504.5,132.8 523.5,132.3 516.9,118.1 481.3,122.1 503.3,127.5 520.7,132.5 499.3,125.5 464.6,139.9 525.0,118.7 577.8,125.1 515.3,127.8 545.2,119.8 511.8,122.8 533.5,118.4 524.6,127.3 514.1,134.6 540.6,121.2 560.7,123.3 523.3,132.0 506.9,130.7 542.1,125.0 480.3,126.6 527.4,132.8 533.7,122.4 509.9,134.8 526.6,124.2 528.2,115.8 537.7,132.2 552.5,128.7 550.5,124.6 563.3,129.5 551.3,122.7 512.9,121.3 587.7,122.1 516.2,126.9 565.0,123.2 569.2,127.3 565.2,132.1 530.3,127.9 522.7,117.9 520.1,123.6 578.1,120.4 524.5,130.8 486.9,123.4 555.3,118.9 540.0,112.1 552.6,137.9 513.4,120.7 524.9,120.4 516.3,111.5 532.6,135.6 536.8,120.1 520.6,115.7 513.7,127.3 556.5,126.0 521.2,126.1 550.2,115.4 566.9,115.6 533.8,136.8 533.5,128.7 510.7,129.4 532.9,125.6 556.4,129.8 561.9,124.4 552.1,118.2 505.0,115.5 517.4,123.4 560.5,120.0 497.1,124.9 561.6,125.3 532.6,125.5 573.7,126.4 512.0,133.2 521.9,127.5 542.8,126.1 493.5,136.3 550.8,121.1 502.1,119.8 476.4,110.7 548.6,134.8 546.7,125.6 523.7,128.4 529.2,126.6 512.9,129.7 547.8,122.2 502.7,129.2 571.9,121.0 574.0,129.9 509.7,140.2 488.2,128.4 509.4,133.1 517.9,127.2 554.4,121.9 492.5,116.1 526.6,132.5 533.8,128.6 501.3,115.7 520.7,129.9 547.4,115.5 546.1,130.7 545.0,118.8 543.6,121.6 523.0,126.4 494.3,130.7 507.3,125.9 570.3,134.5 502.9,132.1 532.4,118.3 515.9,131.1 563.5,122.7 547.1,120.4 516.8,124.5 518.8,130.7 537.7,123.0 504.0,131.0 549.1,124.3 550.4,127.0 515.3,120.8 548.9,141.7 555.2,129.1 550.5,116.2 527.8,132.4 540.7,125.1 548.1,133.5 540.4,120.1 551.3,121.6 563.2,128.7 563.8,123.5 510.7,127.9 541.0,123.6 566.8,123.5 522.3,111.5 526.6,131.4 556.7,127.1 515.6,133.0 562.9,129.9 537.0,128.8 529.9,131.3 538.2,121.9 559.8,126.6 506.6,135.7 534.7,142.3 566.4,124.3 537.5,134.8 519.1,130.9 550.7,127.5 549.4,122.3 488.5,127.5 564.8,127.0 537.7,126.6 505.3,111.5 531.4,121.7 523.9,116.7 562.2,118.7 557.4,121.1 567.8,122.4 537.9,120.6 513.3,142.7 554.0,124.2 517.8,127.7 511.8,131.5 539.1,124.9 554.6,125.5 549.8,121.3 517.9,137.1 518.3,127.6 522.0,111.3 518.4,122.8 516.4,121.4 504.6,119.6 539.0,128.3 506.2,114.9 520.9,116.4 477.2,133.9 578.0,116.5 535.2,119.3 549.2,127.3 537.8,133.1 502.7,125.1 552.2,124.2 505.5,120.3 536.9,121.0 527.9,127.7 559.9,117.6 506.1,133.3 557.9,122.9 536.0,132.3 558.9,123.8 540.0,123.2 522.3,123.3 537.9,121.2 543.8,133.3 517.9,127.7 562.5,127.9 561.8,119.2 555.6,112.7 534.6,123.8 563.9,122.5 558.5,125.5 568.5,122.7 489.2,118.8 530.2,131.8 527.7,127.8 562.1,122.9 533.1,126.0 513.4,130.2 523.7,127.4 507.1,128.6 558.7,122.4 534.8,123.6 529.1,133.8 555.8,112.8 547.0,121.3 505.5,122.4 526.3,127.7 494.8,126.4 544.1,135.0 529.2,129.1 510.5,121.7 573.9,122.2 559.1,120.8 533.0,122.0 566.3,126.4 531.0,134.9 489.9,131.2 556.0,122.9 540.7,117.4 492.2,116.8 536.5,120.7 567.6,128.1 513.7,123.2 533.1,129.7 531.5,130.6 537.7,128.1 575.3,128.4 548.4,124.7 572.4,128.3 523.3,114.5 518.7,128.3 525.1,132.2 563.8,117.0 530.9,130.8 502.1,121.5 521.8,122.3 476.8,128.6 549.5,122.8 465.9,123.9 537.6,125.8 526.3,128.7 537.9,122.4 458.7,125.9 556.8,126.0 563.8,129.0 580.3,119.9 524.8,107.9 569.0,116.9 505.9,126.6 545.8,119.1 536.3,134.1 563.8,125.3 545.0,127.2 531.8,134.8 550.5,128.6 492.0,123.2 533.7,119.6 554.2,131.5 530.3,125.9 536.6,132.5 536.3,119.5 564.2,117.4 552.7,138.9 528.0,129.4 465.0,115.8 556.3,124.9 543.1,122.5 529.3,116.9 578.2,120.5 521.2,124.2 557.9,121.0 518.1,119.6 551.9,121.8 524.5,126.0 488.8,126.1 523.9,127.8 527.8,127.9 536.6,125.1 519.8,126.7 532.3,122.7 545.1,127.5 514.7,136.6 504.5,123.2 512.5,115.4 530.7,128.4 530.7,129.4 519.4,125.4 499.8,125.0 532.3,131.7 559.1,122.8 560.5,128.0 504.8,133.6 496.8,138.2 572.0,126.2 539.1,129.0 531.0,115.6 492.9,132.3 537.7,131.5 551.1,117.9 555.9,120.9 530.6,119.4 515.3,133.6 528.3,127.5 563.8,129.3 561.9,128.4 504.2,136.9 533.7,135.3 539.6,125.3 524.9,138.4 522.1,123.0 491.8,121.4 534.9,129.4 539.4,121.6 534.0,130.9 553.3,128.7 543.2,119.6 565.8,116.8 559.0,124.0 529.7,124.7 547.1,108.0 550.3,129.8 570.9,131.3 558.5,131.3 508.4,129.2 527.7,134.7 549.3,125.8 566.7,129.2 491.1,121.4 529.1,119.5 478.5,134.0 536.7,113.3 505.0,138.3 523.6,116.7 572.4,130.1 519.9,137.9 514.3,132.2 544.7,118.7 526.2,120.5 539.8,124.9 580.3,120.9 571.5,122.8 555.0,122.2 532.4,130.5 525.1,125.8 525.6,128.2 518.0,120.3 528.9,126.7 529.5,117.3 521.9,116.6 514.3,115.8 549.1,128.1 545.4,118.6 512.1,127.4 542.0,126.9 527.8,125.8 542.0,120.8 569.5,125.7 526.7,114.3 531.5,135.4 524.1,128.2 560.1,134.9 519.4,126.8 550.2,122.9 555.0,125.8 529.0,118.0 575.7,122.3 538.3,131.1 584.8,122.0 549.3,134.3 549.0,111.4 530.7,127.2 571.2,125.0 554.7,114.5 506.7,131.3 550.8,124.5 535.5,126.9 537.6,123.5 523.2,127.7 540.1,132.4 545.1,138.4 549.8,125.9 506.6,117.1 506.6,112.4 517.2,118.0 533.1,115.4 529.3,119.2 527.0,138.1 543.9,122.6 544.1,115.5 517.1,135.2 540.7,129.9 532.1,125.9 515.1,118.8 531.7,114.2 540.5,119.1 527.7,130.2 522.0,131.6 545.3,124.6 508.9,135.9 514.2,137.8 513.6,135.8 551.4,131.6 520.6,126.7 535.4,123.1 552.7,121.5 526.4,117.8 543.4,129.8 570.1,129.6 545.8,118.0 537.3,123.6 537.5,121.5 539.9,125.6 551.3,135.7 540.6,127.5 581.1,122.6 519.0,121.6 525.5,133.7 528.0,122.6 562.8,119.4 540.0,126.7 539.4,118.1 531.6,118.3 515.8,126.0 552.9,121.2 539.4,128.9 492.2,128.8 514.6,128.5 572.0,127.5 554.6,125.1 508.5,125.2 552.4,131.6 507.2,128.4 551.7,128.4 544.6,122.7 534.9,123.0 564.6,125.4 542.3,132.0 517.6,126.6 553.8,128.6 501.9,119.9 473.7,132.8 537.4,122.7 512.2,123.7 560.5,126.0 551.8,124.4 512.6,129.9 520.1,117.3 561.9,123.4 497.7,129.1 525.1,138.4 534.1,124.1 503.3,128.7 523.8,114.0 550.2,120.9 536.6,134.0 556.3,128.4 489.2,121.2 526.4,125.9 546.7,126.7 544.2,117.8 527.0,128.2 535.0,121.7 525.1,125.4 518.5,126.4 547.4,130.0 530.2,135.3 518.1,125.4 547.0,131.2 532.2,131.9 542.0,124.0 545.0,126.6 501.0,129.5 503.0,130.3 533.2,119.0 519.4,130.9 539.3,138.4 581.4,129.6 558.4,119.8 557.2,125.4 551.8,127.0 557.1,128.2 515.3,123.5 523.9,121.6 514.3,124.2 511.4,126.6 585.1,127.4 505.6,136.2 529.2,115.5 523.9,119.9 530.2,130.0 581.8,119.6 491.3,132.2 544.2,121.6 529.3,123.9 547.2,127.3 558.0,129.1 552.3,120.1 539.3,127.8 534.1,140.1 540.5,134.3 487.2,121.0 513.0,123.6 535.6,137.0 513.4,127.7 545.5,125.0 504.8,129.3 537.0,133.8 524.2,129.4 484.6,114.9 555.1,127.4 556.8,130.2 570.5,125.8 537.8,129.4 536.7,123.8 535.3,131.1 552.3,122.1 534.6,119.2 517.2,117.8 530.8,116.3 524.1,127.5 539.5,119.0 568.4,126.4 517.4,121.1 563.7,121.2 526.8,117.8 533.9,124.8 549.1,128.4 481.3,124.5 551.4,122.7 547.3,124.4 559.0,124.2 569.6,124.0 553.2,128.0 541.6,123.0 537.8,116.2 535.6,118.8 542.8,119.1 513.4,128.2 557.2,129.0 543.8,122.2 539.1,123.0 547.3,126.7 544.2,128.5 523.9,136.0 532.1,136.8 535.2,124.6 509.0,125.5 541.3,127.7 513.1,126.6 544.1,120.1 580.0,131.4 542.6,123.0 519.5,123.9 583.8,123.2 566.6,119.5 524.1,140.7 561.8,117.1 493.1,127.2 518.1,124.6 536.0,118.7 520.6,113.6 494.3,124.5 532.3,121.8 523.6,104.5 555.2,126.8 490.3,124.6 551.5,136.4 523.2,122.3 479.0,127.2 497.8,134.7 543.9,118.7 561.4,127.9 546.3,135.7 500.3,122.4 525.3,132.6 491.3,127.5 586.1,130.7 510.4,118.6 490.2,130.0 536.1,118.6 532.8,114.1 533.8,126.7 544.7,123.4 499.9,132.1 529.1,123.7 506.2,130.6 517.3,123.7 524.6,122.0 543.5,131.0 527.6,134.0 537.0,120.6 511.7,137.5 546.5,127.1 533.9,122.9 543.3,119.9 523.9,140.3 523.2,127.9 525.0,123.4 528.7,117.5 519.8,126.0 526.2,112.1 512.4,132.5 525.7,120.9 534.8,127.1 500.6,139.5 529.6,127.5 575.4,122.4 544.4,119.7 513.7,134.0 526.0,116.2 557.5,127.9 505.6,119.9 559.9,130.3 571.9,127.6 552.0,126.2 526.9,129.9 550.6,121.7 553.3,126.6 514.8,111.9 574.4,124.9 507.8,116.1 537.6,125.4 554.4,123.1 537.1,113.1 490.5,121.7 511.5,125.5 530.5,124.2 478.2,121.4 524.7,120.1 549.4,123.6 522.6,121.8 541.0,116.8 554.3,128.8 465.2,116.2 546.1,124.4 520.1,109.8 566.3,124.0 525.8,122.2 566.8,122.0 557.0,123.5 543.0,133.1 537.4,125.5 532.8,127.5 541.8,129.1 529.8,134.4 513.5,133.8 521.9,128.7 509.3,142.0 573.1,119.6 525.6,122.3 508.4,136.6 542.4,122.0 518.3,126.0 462.1,126.8 559.4,123.9 538.8,122.1 485.3,134.4 504.5,124.3 519.7,138.3 555.5,125.9 558.0,114.3 495.5,134.3 560.0,117.5 543.8,123.3 550.9,121.5 504.4,121.0 557.9,126.9 512.9,129.1 520.6,122.5 552.8,124.9 527.3,137.6 524.4,132.5 521.4,123.7 538.4,103.5 513.8,129.4 507.4,127.6 527.7,119.3 488.3,120.0 549.7,128.2 518.2,124.6 546.9,126.3 530.8,125.8 508.8,124.2 548.1,125.0 507.4,125.9 531.9,123.9 524.6,120.5 560.2,120.5 540.0,118.1 533.5,127.0 500.5,125.8 563.3,129.2 552.9,132.0 541.5,114.4 535.5,133.4 541.2,126.5 553.3,127.9 493.4,129.0 548.4,119.4 541.0,125.5 550.7,126.3 523.7,124.5 560.3,127.2 546.2,129.1 517.0,124.8 502.9,131.5 506.2,129.8 512.8,110.8 548.8,124.8 502.7,141.3 544.8,129.1 559.2,126.7 503.4,130.0 498.2,135.1 551.2,128.1 550.7,128.3 528.8,129.5 521.4,130.2 569.8,124.5 488.1,115.0 564.1,119.1 531.9,126.9 523.0,125.1 545.4,125.4 514.8,132.1 573.8,116.9 504.9,130.0 533.3,122.1 531.6,124.4 542.9,118.7 503.3,118.9 544.7,122.3 498.5,127.4 528.1,121.8 550.5,121.3 503.6,117.8 535.9,119.9 534.0,130.4 549.8,120.9 523.9,127.5 560.4,122.5 575.2,118.9 509.6,136.1 561.5,121.7 528.6,127.9 521.7,114.2 530.8,135.1 555.6,125.5 542.8,127.9 533.7,138.4 547.0,129.4 525.8,123.9 564.1,135.1 531.5,122.4 558.0,129.6 542.0,123.2 556.1,128.3 530.3,129.4 560.9,119.2 524.4,126.9 539.7,131.4 532.0,120.4 552.5,128.9 519.7,126.8 500.9,124.0 479.4,140.3 472.1,132.9 471.3,135.2 505.2,136.2 492.7,123.3 506.8,126.2 477.0,124.9 437.9,99.1 472.5,129.1 453.7,127.1 510.2,133.9 486.0,114.2 496.5,130.1 441.0,121.1 488.7,129.2 468.1,106.3 444.4,131.3 464.4,142.8 462.7,134.4 502.6,144.9 448.7,122.7 445.1,147.7 464.1,138.9 456.9,127.4 486.3,132.7 471.3,117.7 473.9,117.5 464.9,120.2 503.2,140.9 538.4,129.2 470.0,127.4 486.5,139.0 477.8,132.1 506.3,144.7 490.3,129.1 461.7,124.1 472.1,125.2 481.9,112.3 468.7,107.2 515.6,112.5 510.0,123.2 482.4,135.9 505.1,137.4 459.2,125.3 481.4,121.7 451.3,128.9 486.9,112.8 492.8,120.9 470.7,130.9 465.3,126.3 487.7,130.6 520.6,135.8 493.9,127.4 473.3,129.2 509.3,128.4 488.2,124.0 492.5,119.1 511.9,132.9 458.7,107.5 503.7,124.5 470.2,122.6 504.4,133.3 507.6,125.8 468.6,129.4 431.3,121.9 448.1,131.1 457.1,122.8 491.9,124.8 480.4,121.0 510.9,119.2 510.1,125.9 483.9,132.0 489.1,134.2 486.5,131.9 468.8,112.5 479.5,117.0 471.2,144.7 508.0,127.1 462.4,115.4 452.0,133.0 501.0,132.5 500.6,128.4 471.8,124.5 465.6,114.1 499.9,124.5 489.4,119.6 512.5,141.8 498.4,115.7 469.6,125.1 468.9,112.3 451.8,118.9 503.9,119.3 466.1,130.0 430.9,136.0 499.9,135.1 441.2,127.8 444.4,120.5 457.6,115.3 473.8,140.0 459.8,132.0 458.2,112.3 454.8,121.4 463.8,119.1 445.7,141.6 487.3,110.3 446.6,128.5 465.5,135.0 497.2,124.7 446.6,127.5 505.0,132.6 465.3,133.8 479.9,131.0 495.5,133.9 445.1,120.5 457.8,122.5 482.1,132.0 468.1,119.8 459.1,127.1 466.6,119.5 476.6,119.5 511.5,128.1 470.2,121.3 521.5,129.0 512.7,112.9 456.9,136.4 485.2,110.9 478.2,123.8 521.1,121.7 520.8,135.5 510.6,131.2 427.8,134.7 467.5,126.1 492.5,118.0 487.7,133.8 513.4,112.4 477.9,131.9 476.1,128.0 463.0,125.7 463.6,118.5 463.9,120.2 483.6,123.7 487.8,136.9 529.5,133.2 492.0,125.3 468.3,106.4 499.5,128.6 488.6,118.0 509.3,114.4 473.7,128.3 453.4,122.7 494.7,129.9 490.6,124.1 467.7,139.0 499.8,97.5 488.2,137.5 456.0,122.8 490.3,108.8 427.9,105.1 480.5,124.0 485.0,129.5 471.2,113.9 441.8,126.8 488.5,143.8 473.8,108.6 484.7,117.7 491.5,123.1 484.4,134.5 472.8,105.1 452.0,127.4 451.2,131.4 461.3,139.1 482.0,136.0 487.9,105.5 473.0,147.2 473.9,121.3 481.1,112.6 480.0,143.3 509.0,135.2 474.6,121.9 457.6,124.3 508.8,143.0 440.6,129.9 473.0,138.7 426.9,115.7 485.0,139.2 488.9,125.9 480.1,139.3 471.9,120.2 438.8,136.3 497.5,104.3 490.9,126.0 453.2,129.5 471.2,120.6 471.1,99.2 505.2,148.4 451.4,125.3 497.8,121.0 443.3,110.5 489.1,97.1 493.4,120.3 508.4,130.4 465.8,136.7 482.1,120.6 496.3,109.4 489.9,111.8 471.9,136.1 492.0,114.2 504.6,127.3 467.3,129.5 484.4,126.0 473.2,122.6 471.0,121.7 464.7,142.6 470.6,104.5 460.3,115.3 504.7,131.5 488.8,108.4 480.8,147.5 465.0,133.7 479.3,122.3 468.4,128.9 460.1,119.1 481.1,121.6 466.6,120.0 470.8,122.1 473.7,132.8 454.3,146.1 448.7,120.3 441.2,134.0 476.5,87.4 472.3,137.7 485.8,103.2 452.7,111.7 452.9,126.6 463.9,117.0 446.8,122.0 481.5,119.2 485.8,123.7 440.1,129.0 457.3,119.5 472.1,123.7 499.8,126.6 511.9,116.2 446.1,131.9 502.2,131.0 501.7,131.7 474.3,114.0 444.1,124.6 467.4,123.5 512.4,120.0 448.8,114.8 467.5,123.6 500.9,128.9 496.8,123.4 458.1,128.8 448.6,112.3 480.2,114.7 453.7,116.0 452.0,122.3 476.5,132.0 483.2,125.0 458.8,133.6 449.7,110.2 480.0,129.4 491.2,135.0 452.6,121.5 509.8,122.1 480.1,106.1 444.6,91.5 453.9,126.2 448.8,138.9 471.8,98.3 457.2,132.2 482.4,136.7 471.4,116.3 431.4,128.7 470.7,131.1 474.3,145.3 467.6,131.2 455.3,111.4 518.5,116.6 458.7,109.7 487.2,134.5 489.4,131.8 488.7,115.2 500.9,137.1 474.1,125.4 451.3,120.8 491.2,140.7 465.3,137.7 450.2,137.2 505.5,132.8 468.5,114.5 498.2,109.8 433.4,117.0 440.1,132.4 468.1,131.7 517.8,127.3 501.3,127.4 475.5,119.8 486.0,119.9 440.5,119.8 483.5,118.8 475.7,120.9 449.5,112.9 451.4,109.9 497.9,126.1 470.6,116.8 470.4,138.6 482.6,138.9 467.2,105.5 493.7,130.4 475.3,132.6 476.5,141.5 491.0,125.3 464.0,132.2 531.8,130.3 466.8,131.9 466.4,110.9 490.9,120.8 484.4,138.0 509.3,117.7 481.4,122.4 481.1,125.2 489.0,124.9 497.8,122.1 470.6,118.9 480.8,130.2 468.7,130.0 470.3,130.2 497.9,94.0 474.3,113.4 466.5,127.1 460.8,140.1 458.4,130.9 480.1,129.0 450.9,129.4 509.4,134.9 478.2,114.6 459.4,131.6 539.2,112.1 465.4,123.7 478.9,123.8 486.8,128.6 428.9,135.8 480.0,140.1 469.8,109.2 481.9,132.5 479.7,114.1 439.8,138.9 462.5,130.1 474.9,131.7 479.1,124.5 451.6,132.1 450.0,122.3 482.4,118.4 457.9,131.1 428.9,125.3 441.9,121.7 500.0,120.6 490.3,123.0 484.7,115.3 504.0,103.7 471.0,116.5 495.4,120.8 482.5,139.0 500.2,134.9 462.7,134.6 488.8,135.8 486.6,119.4 478.9,129.1 489.6,111.3 466.8,136.7 463.8,134.9 471.6,127.1 427.2,109.7 459.2,130.0 434.6,146.6 454.9,122.9 495.0,144.8 481.5,109.2 470.7,115.6 483.4,135.3 498.1,132.0 484.4,129.7 472.1,123.8 505.2,143.5 452.7,124.3 497.7,127.4 472.7,119.8 510.6,135.1 442.4,128.4 493.2,139.5 501.0,115.3 493.7,134.5 448.9,118.4 482.4,118.0 500.8,114.7 470.8,125.5 486.5,117.4 472.7,130.9 455.7,114.4 484.1,131.5 449.3,130.9 449.2,130.2 465.0,119.9 455.0,144.9 463.7,140.2 492.7,127.6 440.7,134.8 476.1,125.9 437.1,126.8 483.1,114.8 500.3,126.7 448.7,129.4 490.7,135.3 503.8,135.7 452.5,116.5 474.6,122.0 470.2,125.1 464.2,105.1 490.8,126.8 486.9,116.5 465.4,123.5 481.2,131.5 460.1,127.6 470.3,129.8 434.9,124.6 490.8,124.6 513.6,116.2 469.1,132.6 487.5,129.4 442.0,124.1 470.3,127.8 489.9,123.3 520.2,133.3 474.6,122.1 467.3,130.9 514.3,141.0 484.2,144.2 484.0,146.0 451.6,113.3 509.8,124.0 497.8,122.7 453.7,129.3 449.2,126.5 474.9,124.1 493.2,132.5 430.8,138.3 450.5,129.5 467.6,125.9 505.2,125.1 454.3,128.8 458.5,128.1 488.8,137.9 491.4,105.7 508.4,107.5 478.6,140.3 518.5,126.0 481.5,129.3 457.2,118.6 447.7,140.6 488.2,129.5 459.3,119.9 506.3,128.5 473.9,119.2 496.2,114.0 490.8,132.7 487.8,125.3 441.5,111.8 488.6,110.3 475.4,117.4 475.3,123.6 495.6,124.8 489.4,125.8 502.2,118.2 442.4,107.1 485.8,131.0 463.8,103.5 478.6,119.8 489.1,132.0 513.0,102.2 460.6,112.9 443.0,129.1 478.0,124.8 488.6,121.0 484.5,126.9 483.0,131.5 517.5,124.7 502.4,124.2 473.7,127.4 450.0,102.5 485.3,124.0 467.2,111.3 469.9,130.5 465.6,108.4 483.2,127.0 463.5,111.3 482.7,129.0 495.3,115.8 456.2,112.8 499.3,128.1 449.3,113.4 469.7,127.6 470.8,128.4 494.0,137.4 487.8,112.7 498.6,117.5 482.3,127.5 474.3,135.0 511.3,126.7 456.0,116.2 507.9,122.3 470.2,137.6 490.1,128.0 463.2,118.8 450.2,117.3 426.7,132.1 447.4,128.0 493.2,139.6 504.8,132.8 466.9,114.5 461.8,109.4 472.6,126.4 457.0,112.8 475.5,130.6 457.3,132.2 474.8,133.1 493.1,125.7 464.1,120.3 506.1,148.0 484.2,113.5 479.6,116.3 445.2,133.4 497.5,126.3 478.1,118.5 484.3,120.4 466.6,128.5 503.6,130.6 447.3,129.1 495.1,105.8 479.9,132.0 489.2,122.0 501.0,119.6 492.2,119.7 485.4,135.1 473.5,107.9 504.0,114.8 484.9,126.4 483.9,128.8 499.0,128.6 461.3,142.7 508.6,133.4 459.2,120.8 513.5,118.0 470.0,119.1 459.9,127.9 477.4,125.0 492.7,119.4 515.3,116.2 471.0,122.4 459.5,131.8 469.8,114.2 462.7,142.0 456.1,138.1 473.0,128.4 453.0,133.7 468.4,120.9 489.3,110.9 471.6,118.3 478.3,136.9 463.9,101.5 473.5,107.3 493.7,107.2 473.0,115.0 470.6,137.0 453.0,120.3 444.0,121.1 459.1,121.2 448.9,115.9 472.1,141.5 447.5,124.3 443.5,121.5 486.7,132.1 505.3,109.5 483.2,120.1 486.4,127.8 503.5,130.7 478.0,120.8 494.8,136.9 506.6,134.0 490.7,117.8 481.3,113.5 467.3,104.0 487.8,129.8 532.0,125.5 443.8,110.5 509.9,131.4 456.9,113.6 478.8,135.4 467.5,124.7 498.1,109.0 464.7,109.3 446.1,117.9 474.7,120.8 468.5,132.8 483.5,113.6 431.4,124.8 469.2,136.6 449.6,120.0 489.2,118.6 436.2,141.3 464.8,129.9 514.4,129.4 480.3,115.0 512.5,121.5 484.8,105.1 469.2,144.2 462.0,128.7 505.0,122.1 502.8,124.3 478.5,131.4 451.9,120.1 485.2,119.4 466.5,129.8 485.5,119.0 519.2,134.5 498.3,116.1 472.2,123.9 476.5,109.4 530.7,122.0 472.3,115.4 488.0,127.3 493.4,116.3 469.4,116.5 430.9,138.9 471.2,123.7 447.3,109.9 469.8,123.8 476.8,117.5 465.6,117.6 460.4,140.9 488.4,123.7 496.0,145.7 480.0,132.1 473.8,129.5 469.8,132.4 498.9,143.4 442.8,121.8 519.6,133.4 458.8,137.6 456.4,112.3 491.9,115.9 484.9,122.9 465.5,135.6 490.6,99.4 470.0,112.1 463.0,125.0 513.1,126.2 490.9,131.3 516.8,138.3 489.4,127.9 481.8,121.6 505.1,116.2 499.6,121.5 455.4,111.3 509.7,120.3 494.2,127.8 447.6,115.1 462.5,105.3 492.0,125.6 464.8,124.3 456.6,129.3 511.0,128.5 516.0,126.4 486.3,135.1 471.4,130.1 448.7,105.0 489.9,126.3 454.8,125.0 455.7,135.6 473.7,102.7 441.3,119.5 448.1,126.8 478.9,133.3 514.7,119.7 464.4,142.7 481.2,132.4 498.9,136.4 502.6,130.2 481.6,128.2 490.6,113.3 466.2,134.9 517.2,115.3 517.4,115.3 480.3,108.2 463.5,129.9 469.2,118.2 459.7,127.3 459.9,127.9 501.0,113.7 472.9,98.5 462.8,120.6 467.5,148.8 452.7,112.3 442.9,94.5 474.9,122.5 503.7,125.1 464.2,131.8 457.8,119.6 467.6,120.0 446.0,129.9 520.6,121.5 475.3,112.9 483.2,109.2 453.1,117.3 455.2,118.2 528.9,109.2 459.5,120.9 487.0,133.0 482.5,136.7 497.7,115.7 474.0,118.1 527.3,127.1 438.2,121.8 467.9,133.6 496.3,114.8 489.9,108.1 464.2,129.8 483.9,127.4 478.0,135.4 481.5,113.7 463.8,119.0 473.6,126.8 479.2,108.9 487.5,117.7 479.9,148.2 496.2,125.3 478.8,130.6 445.0,109.1 514.6,108.2 438.9,119.2 452.5,127.1 466.2,131.8 460.9,130.3 492.8,107.8 495.9,125.3 473.8,127.8 476.4,131.8 473.1,116.0 472.1,133.9 474.3,124.2 475.2,128.0 491.3,125.7 456.0,119.0 462.1,116.8 493.6,120.0 483.1,139.7 472.7,123.8 490.0,137.3 473.6,141.8 480.5,124.3 479.3,107.3 491.9,127.3 464.9,130.0 492.9,115.3 466.4,126.5 467.8,117.8 480.7,133.0 458.5,111.1 447.9,144.8 520.0,131.1 495.2,119.5 494.9,113.4 467.3,125.6 497.9,119.5 461.2,133.4 446.6,122.6 465.9,141.9 465.4,122.0 525.2,116.7 509.5,117.0 473.0,118.6 487.6,109.5 465.3,119.0 491.0,101.0 512.8,118.2 555.2,92.9 465.6,109.5 470.0,118.4 504.9,118.6 526.6,95.9 555.8,119.5 517.6,98.8 527.5,113.5 517.0,65.2 517.4,55.8 550.7,82.6 474.2,96.8 555.1,113.7 554.8,102.7 518.1,70.9 480.6,113.1 531.8,106.4 601.8,74.7 529.4,119.7 551.0,117.8 518.8,98.5 550.7,77.6 482.3,116.3 530.2,111.3 553.3,116.9 574.0,115.1 487.0,116.4 509.5,104.5 555.3,98.1 532.6,116.9 512.7,113.1 558.2,101.4 504.9,94.1 481.2,98.1 526.7,105.1 548.1,74.9 516.2,110.3 555.0,107.9 477.1,91.6 544.9,110.3 532.7,94.9 543.7,118.8 579.2,113.8 458.1,109.2 531.4,92.2 504.2,109.3 482.1,112.9 540.4,117.2 494.0,116.0 517.4,103.0 587.7,116.0 446.0,72.3 556.9,116.4 512.9,114.4 526.9,102.9 514.8,82.0 538.9,117.6 472.2,116.1 589.9,116.5 490.5,113.9 492.8,116.6 496.2,90.2 559.3,112.5 552.6,110.8 561.6,98.2 471.5,119.9 542.8,120.1 454.1,116.4 508.1,108.7 440.5,87.7 543.0,94.8 533.2,96.9 525.9,111.6 566.8,100.3 490.5,99.0 537.7,102.6 478.2,115.7 564.1,109.9 531.0,112.1 550.2,118.8 504.0,114.3 550.7,109.7 578.1,115.0 473.4,118.0 585.8,99.1 559.6,100.3 550.2,117.4 496.2,118.7 464.4,118.8 556.4,111.6 540.9,108.2 530.6,104.6 549.2,116.2 505.6,119.2 521.5,120.1 527.1,118.3 476.2,85.1 507.9,110.3 536.0,102.4 528.8,62.3 517.4,113.9 489.4,111.7 488.9,117.7 530.3,119.7 593.9,63.8 445.9,113.1 507.5,118.4 493.4,120.1 483.2,109.1 577.2,116.2 469.9,116.9 523.1,111.4 555.4,51.8 499.5,101.2 577.2,102.7 579.9,111.5 538.7,117.0 569.9,111.0 540.7,69.7 549.9,106.7 464.3,104.5 513.3,106.5 511.7,106.4 543.5,81.0 548.4,115.0 485.4,107.1 560.7,97.6 530.6,69.6 539.2,110.5 531.5,106.3 535.4,118.1 513.4,110.4 520.1,113.1 508.6,101.8 496.3,119.1 529.2,99.0 469.8,103.2 514.5,98.9 487.6,83.0 538.8,119.0 524.7,108.9 475.4,115.9 548.2,114.4 506.0,119.2 573.8,119.4 471.9,117.8 515.4,110.0 526.6,92.3 509.0,63.0 472.8,114.8 505.0,106.5 545.1,110.9 549.3,70.1 549.2,89.2 462.9,110.3 463.8,110.0 509.0,106.9 493.2,109.9 504.2,117.2 560.7,105.0 549.1,119.3 545.2,108.7 576.4,119.9 558.6,95.9 488.6,114.3 552.8,116.0 562.7,95.4 487.5,106.9 521.8,116.4 516.1,116.1 533.4,116.5 539.2,111.3 551.1,106.8 462.2,106.1 499.1,110.8 530.5,115.4 500.7,120.0 584.5,112.4 475.0,92.8 435.2,86.0 483.8,114.2 510.4,74.0 556.8,110.8 512.1,113.0 524.0,81.9 457.7,86.6 550.9,79.3 512.7,114.9 472.7,78.5 539.1,119.3 457.8,104.7 509.9,114.3 498.3,111.2 517.2,117.7 535.9,111.1 585.7,112.2 523.3,115.3 517.3,106.7 551.1,101.6 462.3,107.6 543.5,95.5 508.9,119.8 452.6,113.8 571.8,117.5 565.7,82.2 505.4,102.5 536.0,117.1 490.5,105.3 548.8,109.4 482.3,69.7 459.1,105.8 477.2,113.8 537.7,93.7 460.6,94.9 500.5,102.6 549.6,102.5 489.9,88.2 446.4,115.3 523.1,117.6 546.8,71.9 478.6,106.7 516.6,86.4 537.1,115.8 541.5,101.5 558.2,107.5 581.7,103.5 537.4,114.3 557.3,98.6 496.5,118.7 494.8,103.1 578.1,102.3 514.4,91.6 509.0,119.5 519.1,109.9 550.2,118.7 498.5,114.1 526.7,113.9 570.1,119.7 562.9,116.8 548.3,77.1 493.1,114.7 470.8,112.5 512.0,52.9 461.4,109.7 557.3,113.8 567.1,119.9 445.5,106.7 518.7,112.5 471.8,101.4 541.7,116.8 554.0,90.7 526.2,97.4 479.8,108.6 501.5,98.3 494.1,104.7 547.6,112.5 517.0,97.8 514.0,92.2 583.0,117.5 513.2,115.4 486.0,113.7 527.4,113.0 463.6,103.2 527.2,90.6 494.0,109.3 467.3,116.6 460.0,110.8 515.8,112.8 510.9,108.6 474.2,93.4 531.9,118.4 511.7,118.9 486.8,111.0 546.9,117.4 548.5,111.5 601.3,116.7 468.4,103.6 535.7,118.1 539.0,118.9 487.2,111.8 491.3,100.9 492.2,114.6 553.5,95.1 435.7,119.2 476.0,113.0 540.5,117.1 501.1,117.4 507.3,112.2 555.4,70.3 516.8,103.6 466.0,107.2 449.7,100.3 450.0,89.4 529.5,120.1 526.6,105.1 513.6,119.0 519.1,118.0 476.6,92.8 518.9,113.0 600.3,108.1 456.2,113.7 539.5,109.5 521.9,118.4 552.2,115.7 507.2,117.8 575.5,117.7 571.9,118.8 508.2,90.6 520.6,71.9 464.8,108.9 521.3,118.7 522.1,110.9 448.6,119.1 493.7,119.1 547.8,79.6 538.2,97.8 567.1,117.2 531.5,116.4 505.0,115.0 543.7,116.4 488.9,107.9 560.3,100.9 515.9,107.6 526.4,114.6 527.4,77.0 555.8,106.7 515.2,108.6 506.3,102.4 560.5,119.4 468.6,55.4 583.2,110.7 524.3,81.2 577.9,118.9 496.7,104.8 547.4,118.1 544.9,114.8 562.9,118.7 533.1,116.0 523.1,107.4 486.0,90.6 470.9,80.4 463.8,116.0 565.9,83.3 479.2,118.8 596.6,116.3 529.4,91.0 503.9,116.4 520.1,109.9 497.6,107.5 445.9,119.6 490.0,102.0 545.7,116.2 480.2,96.6 490.4,98.3 530.3,98.8 537.8,119.9 477.4,119.8 507.6,105.8 514.2,118.0 518.8,102.9 509.9,116.4 561.2,109.4 517.3,92.2 496.1,115.0 547.9,113.4 524.7,106.7 593.8,98.0 551.5,99.9 530.2,103.0 516.6,91.5 534.8,116.9 553.3,81.8 446.2,115.9 530.6,106.6 516.7,115.5 482.4,118.8 490.2,116.8 489.0,114.4 509.2,106.9 535.6,117.7 525.2,54.3 553.2,101.9 534.9,78.9 589.8,114.2 533.5,108.2 465.7,85.5 491.0,79.4 468.7,111.2 521.3,101.2 520.4,110.8 591.0,115.8 445.2,116.9 510.4,118.6 514.0,119.0 505.4,116.9 557.3,103.0 521.6,108.5 444.9,99.4 535.3,114.5 458.0,107.5 530.7,113.6 491.7,120.0 502.3,111.4 506.3,117.1 577.7,114.2 571.1,73.3 513.7,110.4 466.5,104.7 526.9,108.7 494.4,115.5 528.0,97.2 542.5,80.2 495.8,117.3 527.4,114.7 462.3,109.1 575.2,110.2 500.7,113.3 500.4,111.6 547.7,107.6 530.7,106.5 516.1,107.7 532.4,117.7 520.1,100.7 548.6,98.4 504.5,92.0 510.6,115.4 510.3,113.2 471.1,117.1 536.6,116.4 556.2,118.3 523.0,116.2 591.1,116.3 526.2,109.7 507.7,108.5 512.3,96.3 521.5,101.1 571.8,108.0 488.8,103.9 553.5,111.7 512.2,99.6 453.7,111.7 532.0,115.0 536.5,108.0 548.5,117.8 529.7,108.8 539.3,119.2 585.8,113.6 516.2,112.8 444.6,77.9 553.3,114.2 483.3,117.0 512.5,104.7 505.0,116.3 538.1,112.8 566.7,119.3 558.1,112.9 572.2,97.8 515.4,114.0 515.5,106.6 538.1,114.4 495.0,54.1 482.7,116.3 572.2,102.7 528.5,93.5 536.0,110.6 532.9,115.3 532.2,119.5 533.0,111.9 523.7,118.7 524.5,102.2 496.0,96.0 489.5,119.5 439.7,119.3 561.7,117.8 482.1,119.1 522.1,93.1 530.6,112.2 468.1,108.1 467.6,114.4 517.5,95.2 489.5,107.2 514.1,97.9 483.5,108.6 517.9,102.9 550.6,112.4 590.7,112.1 453.0,117.4 509.7,117.1 510.7,111.7 518.1,118.1 529.1,86.8 552.4,106.2 507.2,109.6 571.5,120.1 461.9,95.9 539.7,70.4 563.5,113.1 522.5,111.4 535.0,108.6 480.2,99.1 552.2,109.1 480.2,118.6 499.7,98.3 535.1,103.7 550.8,89.6 555.8,92.3 491.3,109.0 543.3,112.2 591.8,87.1 590.9,113.5 574.9,115.7 486.3,116.7 494.6,65.8 524.2,112.8 532.3,94.4 531.9,112.5 477.7,117.9 536.7,116.5 455.6,103.8 545.9,116.3 494.9,100.0 489.9,120.1 490.6,114.4 510.6,110.5 493.8,98.4 506.1,103.5 533.8,103.1 452.3,113.3 464.7,109.6 445.2,114.2 539.9,116.1 469.0,100.1 570.4,117.1 564.1,114.1 532.0,106.0 460.2,116.2 595.1,114.2 518.0,94.6 563.8,100.7 457.4,101.0 556.7,82.9 434.4,88.9 479.8,118.7 595.6,117.1 550.1,74.7 481.6,114.2 537.6,88.5 526.4,95.8 467.1,119.6 541.9,79.4 512.2,110.3 542.7,110.5 456.4,117.1 522.3,96.7 499.8,86.6 552.1,100.3 508.3,112.0 449.8,113.9 443.6,117.3 507.0,102.3 426.2,101.9 532.1,82.5 480.9,115.9 539.7,116.7 507.3,105.6 542.2,107.7 512.4,68.3 453.6,109.1 482.2,110.6 486.2,114.0 504.9,109.7 549.7,111.5 462.8,55.6 500.8,107.2 551.1,106.3 515.7,107.3 476.9,116.2 530.5,61.0 579.7,110.5 549.2,113.9 484.9,114.1 482.4,104.1 498.7,108.1 499.7,119.7 513.9,104.6 564.1,115.3 518.2,100.2 512.0,117.6 528.4,114.2 480.9,93.8 469.9,74.2 506.4,104.0 513.4,113.7 498.8,112.7 502.8,116.0 476.9,113.4 433.5,109.8 474.7,113.6 468.2,115.5 498.8,110.0 490.2,105.5 482.0,113.8 526.2,86.5 555.9,91.6 539.7,116.2 526.3,97.8 509.3,97.1 495.9,90.6 531.7,94.9 484.9,115.7 536.9,112.8 508.7,114.8 545.7,108.9 458.5,108.8 504.1,119.4 567.0,101.2 558.4,110.9 505.8,107.2 453.4,116.6 578.3,110.3 494.5,114.7 458.1,118.2 510.2,94.5 499.0,119.9 569.3,109.7 469.4,87.5 528.0,115.7 461.0,118.8 530.4,103.6 529.1,102.3 553.2,113.5 504.9,91.0 545.3,120.0 555.7,96.5 506.4,116.7 455.4,101.4 500.9,102.6 590.1,119.3 562.8,94.8 468.3,116.4 496.2,97.2 519.4,80.9 488.5,112.2 535.4,113.2 496.0,116.6 538.4,117.7 522.1,109.4 499.5,83.4 519.6,105.3 487.0,112.2 514.1,84.5 477.2,82.4 538.5,112.6 526.3,101.9 506.0,118.2 515.2,88.7 533.7,87.1 529.7,118.4 474.0,109.3 567.1,120.1 481.0,55.5 566.2,119.8 501.3,101.7 515.1,111.5 515.1,119.9 571.2,98.7 539.6,114.3 534.6,116.3 543.2,108.1 505.2,119.9 601.6,116.3 487.8,118.9 488.0,112.9 504.3,116.1 585.2,105.1 499.4,119.5 482.0,108.8 539.8,82.0 535.5,117.3 539.4,119.7 511.6,119.7 561.1,115.5 448.1,113.9 488.0,114.8 563.4,110.8 499.8,118.0 492.3,104.5 515.6,111.8 514.8,92.5 469.5,65.0 485.5,116.8 500.3,86.4 530.9,107.1 557.1,114.0 477.4,101.9 511.6,105.6 562.8,98.0 519.4,108.6 582.0,105.6 556.4,118.7 544.1,105.5 527.5,111.8 481.0,105.7 478.7,92.9 503.5,119.3 484.8,103.5 527.4,104.5 576.9,91.1 558.7,114.0 533.7,114.0 514.1,111.2 590.3,108.4 553.8,105.3 550.6,118.2 501.5,108.3 543.3,118.9 555.6,81.8 513.5,119.6 517.9,111.6 435.0,113.2 493.9,116.0 494.7,84.0 489.5,111.1 482.1,96.7 515.5,114.6 486.3,112.4 555.3,118.3 531.3,104.0 500.6,116.5 547.2,115.9 527.9,111.2 597.1,108.5 477.5,106.7 545.5,120.1 568.5,41.6 516.0,111.9 490.9,84.7 527.6,107.3 450.7,116.9 488.2,117.7 476.3,119.3 432.7,114.3 503.7,105.2 580.2,87.9 565.7,114.9 505.2,111.8 455.6,88.8 547.9,118.3 526.7,94.3 515.5,104.2 489.9,109.6 481.1,107.8 501.1,108.0 502.0,117.5 550.9,105.4 529.4,107.0 492.5,112.8 523.4,119.6 530.1,100.1 538.4,109.6 540.9,116.9 479.4,116.4 496.4,103.4 457.2,114.1 444.8,98.0 481.8,119.6 482.5,114.7 506.9,118.6 522.6,94.5 555.4,116.1 549.3,109.1 494.0,111.1 536.6,115.3 557.7,118.1 503.0,100.1 550.2,98.1 572.1,82.3 454.1,97.0 510.1,95.2 453.2,100.0 467.4,113.0 467.5,81.5 571.6,113.1 578.2,102.6 485.8,114.0 512.5,103.0 549.0,111.0 521.2,95.7 538.9,117.0 540.1,119.3 559.2,112.5 539.6,108.2 590.5,110.1 510.3,92.8 519.0,77.4 567.2,97.4 520.1,92.4 598.0,88.2 495.6,117.8 513.7,104.9 539.1,111.8 496.8,118.4 538.7,102.1 485.1,116.6 526.0,111.8 506.9,107.6 560.9,112.5 484.4,110.0 495.5,110.3 562.6,107.2 449.4,99.2 510.2,114.6 539.3,117.9 525.9,105.0 432.2,116.5 562.6,107.6 566.0,117.8 581.9,71.6 514.9,59.7 536.3,77.8 431.0,117.6 490.3,105.2 556.8,117.7 508.5,70.0 583.2,110.6 589.2,86.0 485.3,117.0 475.1,95.4 555.3,93.8 559.7,119.8 557.3,114.6 561.2,118.2 532.4,104.2 458.8,114.4 555.9,51.4 529.2,109.9 528.4,109.8 522.6,117.2 510.2,116.0 452.2,104.1 546.3,116.1 467.5,108.2 560.2,118.5 512.1,111.2 524.1,116.3 506.5,90.6 550.8,118.9 534.9,111.9 528.5,111.7 573.8,115.5 491.4,118.1 448.1,116.4 496.0,98.8 454.0,74.2 590.5,117.3 535.2,112.9 469.2,109.4 554.1,107.9 492.9,110.1 581.7,118.5 527.6,86.2 567.4,115.8 519.8,103.1 472.6,94.9 472.3,55.0 538.2,110.4 536.1,81.3 496.7,109.2 533.5,114.5 579.1,111.2 550.7,92.8 545.3,118.3 538.9,92.6 467.9,119.4 534.8,111.6 471.7,116.2 556.4,58.7 495.5,110.8 558.2,113.9 527.7,84.0 521.4,62.6 502.0,117.0 504.0,114.5 552.0,115.2 525.0,114.3 475.6,114.7 576.6,100.9 545.4,95.1 468.6,118.6 568.5,101.3 500.0,106.1 471.0,110.9 478.0,106.3 536.3,92.5 492.3,112.9 559.7,117.4 516.3,89.1 513.4,119.4 548.5,111.7 573.2,114.9 428.7,104.8 524.1,113.5 544.9,118.7 508.4,100.6 539.9,112.7 452.7,103.3 525.1,78.1 547.0,92.0 563.5,101.9 501.1,113.5 447.2,100.0 570.7,78.7 540.7,83.3 549.9,81.5 551.3,115.6 444.8,101.7 551.2,120.0 543.8,111.8 531.1,103.8 554.7,103.5 583.8,114.7 457.0,114.1 491.8,92.8 531.9,96.9 488.8,115.0 469.9,115.3 518.7,49.5 500.7,117.8 534.4,84.4 580.4,117.6 560.2,118.2 500.5,108.5 524.0,105.5 572.8,93.6 584.8,103.6 480.7,100.8 567.4,110.0 463.7,78.5 542.3,116.6 511.4,106.1 478.9,110.0 506.2,116.7 472.7,99.5 543.2,102.1 538.7,110.4 533.4,98.3 507.3,116.3 579.7,114.8 532.6,93.0 497.0,108.3 560.4,108.6 524.5,118.2 486.6,110.7 549.3,82.6 455.5,115.0 571.1,100.0 546.1,99.9 559.8,94.2 577.8,117.7 537.9,70.2 492.2,117.5 588.7,56.6 491.1,83.8 511.2,97.1 510.9,116.3 477.4,105.2 554.1,101.8 466.3,119.2 486.5,108.9 525.0,103.8 515.2,114.7 515.9,115.2 489.8,117.0 532.5,116.4 438.1,116.5 522.1,72.3 475.3,88.2 447.4,99.5 539.3,105.4 504.8,113.5 532.9,104.8 544.4,118.0 576.7,95.2 562.8,119.7 518.5,108.9 520.5,58.9 546.7,111.6 558.8,100.9 464.6,118.5 484.3,64.0 521.6,120.0 499.6,95.5 523.7,81.2 462.8,83.2 491.5,93.9 502.8,99.8 467.8,55.1 518.8,100.3 530.1,57.6 522.1,91.9 573.5,97.8 527.6,111.1 532.3,49.5 494.8,81.8 467.5,55.4 529.8,95.4 502.8,81.9 455.0,95.6 521.9,98.2 465.6,103.8 484.8,97.9 508.4,94.6 479.6,106.5 508.6,101.3 496.2,72.9 473.6,92.8 520.2,113.4 514.8,104.3 564.1,89.6 474.3,61.9 452.6,100.2 486.1,106.7 479.8,105.1 474.5,86.0 523.9,113.6 480.5,64.8 556.5,65.9 450.0,114.0 528.7,33.2 465.9,111.3 438.8,98.0 479.2,69.7 581.3,109.4 531.9,110.3 498.1,88.9 406.4,113.4 543.6,39.7 495.3,109.7 467.6,76.2 538.3,112.1 510.6,101.3 585.5,89.6 500.2,82.1 453.4,58.7 490.6,105.7 550.2,113.3 543.9,48.9 579.2,105.4 493.4,91.1 547.1,60.1 519.0,108.0 525.4,101.2 536.9,102.0 496.4,82.4 518.2,93.5 475.0,41.0 479.4,67.8 464.5,54.3 489.5,96.8 456.1,113.0 531.0,93.2 551.1,110.8 518.7,90.1 564.5,98.4 478.4,98.2 520.3,113.2 532.1,114.0 516.4,106.3 516.3,86.5 481.6,89.0 428.4,69.5 500.0,100.4 499.7,110.4 487.9,96.9 466.6,109.5 537.2,110.1 497.2,100.2 492.4,77.2 528.7,97.1 511.2,50.9 556.8,68.9 499.3,114.7 526.5,77.3 575.3,110.8 501.9,65.3 520.4,82.4 471.6,92.9 548.0,105.3 498.5,74.8 526.9,86.4 542.6,78.4 509.1,70.8 466.3,100.8 512.7,87.9 525.7,101.4 548.3,112.9 508.8,109.1 476.1,110.3 515.5,102.3 438.6,93.7 473.0,113.6 542.4,104.2 539.6,76.7 494.0,84.3 446.1,77.2 516.5,87.8 511.8,106.6 468.8,95.4 515.4,114.7 455.4,95.2 523.9,88.0 488.0,104.3 434.3,102.3 484.9,108.9 542.6,103.4 513.2,66.1 550.7,88.8 478.0,90.8 487.9,71.2 511.0,92.6 560.5,101.7 491.3,108.7 569.3,87.8 474.5,114.3 489.6,111.8 545.8,94.7 475.6,91.3 509.0,19.0 558.8,103.4 447.5,106.5 406.1,107.3 517.3,112.4 507.5,92.3 498.6,103.4 501.2,71.0 496.0,95.3 487.5,94.1 515.2,103.1 522.9,98.8 539.8,44.3 492.8,114.2 480.0,112.9 508.6,104.0 484.1,104.1 449.2,73.7 479.6,77.8 422.4,111.9 525.0,48.5 400.5,81.0 563.4,93.4 564.1,73.6 529.9,114.1 490.5,27.5 517.6,95.5 492.3,53.2 469.8,113.9 521.5,87.1 497.4,37.3 588.8,94.1 531.8,77.7 511.8,59.0 499.2,111.1 545.2,92.6 526.7,47.6 476.6,105.1 442.5,62.1 515.5,25.0 477.6,69.8 536.8,64.6 511.9,51.9 471.3,69.2 471.7,74.1 482.7,112.6 500.9,69.6 459.7,86.8 480.5,92.8 532.5,110.3 500.2,108.0 467.0,108.7 497.1,104.6 485.5,103.2 467.8,76.6 562.8,98.2 490.7,109.0 526.5,74.4 556.3,89.2 455.8,96.9 566.7,107.2 538.8,82.9 437.2,94.8 497.3,80.3 584.9,79.8 508.0,64.8 494.8,54.1 512.2,51.5 513.8,105.3 408.3,108.1 482.8,93.3 535.3,96.7 510.2,62.9 480.4,62.6 502.3,103.7 492.7,80.6 528.2,78.1 460.9,95.6 473.6,107.8 486.5,50.2 468.5,103.8 491.4,101.9 479.1,95.9 500.9,101.2 473.1,113.4 530.1,46.5 570.1,99.7 555.5,90.8 491.4,103.0 487.6,95.7 479.9,72.5 469.7,57.3 504.3,111.5 555.5,102.6 433.5,108.1 466.3,63.9 461.7,112.7 437.0,91.9 548.7,79.0 561.3,106.6 593.7,99.2 498.0,107.2 509.5,52.4 465.6,104.6 527.6,86.8 472.2,102.9 492.9,100.6 493.6,101.1 439.6,93.4 542.5,98.9 560.6,107.3 482.9,93.7 539.1,93.6 523.3,98.7 431.2,68.5 494.5,59.3 497.3,46.7 471.6,39.1 491.3,91.9 496.7,107.7 447.5,107.0 515.6,112.7 439.8,91.4 505.8,61.4 502.6,96.0 489.7,68.7 544.5,92.8 494.4,91.6 529.9,81.1 523.3,32.5 539.0,92.3 518.4,98.2 501.5,103.1 529.6,113.0 500.7,47.9 518.7,82.1 466.4,79.0 504.6,101.6 546.7,106.4 434.0,91.9 424.5,106.4 595.4,113.6 520.5,84.3 437.7,97.2 508.0,91.3 442.6,82.7 515.1,107.7 481.3,37.8 546.8,106.1 522.4,90.0 473.7,111.5 545.2,63.1 491.9,84.5 511.6,110.6 554.4,103.2 527.6,46.4 515.7,92.4 534.8,103.2 468.5,93.7 429.8,113.7 591.7,107.9 513.3,99.3 553.2,110.8 436.3,89.9 447.8,101.8 471.9,113.5 503.9,103.4 449.5,98.2 553.0,49.4 530.7,108.7 528.6,65.8 531.1,92.6 550.8,73.0 498.1,94.0 531.1,92.1 549.2,111.7 551.7,75.0 516.2,100.8 483.4,73.9 478.0,64.8 410.8,98.3 483.7,99.9 544.8,69.2 506.1,68.1 462.1,85.3 523.2,113.1 422.4,110.6 492.5,112.3 445.6,99.8 505.0,97.8 450.7,108.9 489.6,39.6 533.8,84.6 486.7,64.7 508.4,114.5 538.5,56.3 583.6,118.8 593.3,125.5 576.0,120.2 591.8,122.2 581.9,126.8 562.5,114.3 576.3,119.7 583.4,120.1 561.0,118.4 581.8,124.8 577.1,114.4 586.8,124.3 583.0,118.1 587.4,125.4 576.1,126.5 586.8,125.9 597.6,120.3 584.0,113.4 569.8,124.2 575.4,128.3 592.1,129.3 586.5,123.9 582.7,124.9 583.2,126.2 579.1,122.0 585.2,119.3 599.4,116.6 590.9,123.2 570.5,119.8 581.6,122.8 585.5,121.4 595.1,117.0 576.2,116.2 572.3,122.8 564.8,122.0 568.9,117.4 565.4,125.5 589.6,119.1 585.4,121.1 572.4,122.4 585.4,119.1 589.5,113.3 573.4,122.7 573.3,123.0 579.1,121.1 596.2,121.7 579.6,129.6 585.9,120.4 584.0,118.8 586.4,117.5 589.5,125.8 580.9,125.8 601.4,124.9 593.3,116.9 600.7,123.4 573.5,122.5 589.8,119.5 586.2,120.4 585.1,125.8 572.4,116.6 573.7,113.2 583.8,118.6 587.6,111.6 588.0,123.0 585.4,121.6 579.5,125.3 585.0,115.9 585.0,116.4 582.7,125.3 600.3,126.0 585.8,118.7 592.3,120.9 590.6,119.7 591.3,118.1 581.9,112.2 585.7,124.7 578.9,121.6 600.2,118.4 591.2,119.2 583.6,118.5 584.5,118.5 589.8,122.4 578.7,123.6 602.3,124.7 558.9,121.8 579.7,129.5 579.0,121.4 600.0,117.7 593.1,122.2 599.6,126.8 576.3,115.1 585.7,127.0 583.4,119.9 579.1,118.5 573.8,121.7 576.0,119.2 588.3,118.8 578.9,124.0 598.9,126.1 574.9,120.4 571.1,128.0 585.8,123.7 583.7,120.0 590.6,122.3 569.7,117.0 578.9,115.1 593.2,120.8 601.3,119.9 578.9,114.1 583.2,123.1 577.5,114.5 578.8,125.0 587.1,119.4 576.2,117.4 571.5,127.7 578.4,125.9 569.4,122.2 585.8,120.8 572.8,122.3 587.9,123.3 578.6,118.7 572.8,127.1 591.0,118.9 576.1,127.1 583.7,123.5 581.0,125.4 588.0,122.9 594.8,128.7 578.3,122.7 577.5,118.1 587.5,122.8 574.8,119.2 567.2,122.4 590.2,120.6 593.2,118.9 572.4,126.7 582.1,123.5 584.8,121.2 587.8,116.0 576.9,124.3 578.4,125.1 579.7,118.0 578.7,120.4 581.6,123.5 562.9,125.5 590.2,127.9 590.2,114.6 590.2,121.0 580.6,115.3 589.9,121.5 574.8,121.2 582.8,121.8 590.0,123.0 591.2,114.5 580.7,128.1 591.0,124.2 567.0,118.2 575.5,121.1 574.9,124.0 584.6,129.2 584.0,122.6 572.7,122.6 590.9,120.3 598.7,120.9 584.4,118.8 588.3,123.5 577.2,126.6 580.3,122.4 586.9,114.0 576.5,119.1 580.3,121.2 578.8,127.8 591.5,121.9 574.3,129.9 590.1,124.6 595.0,122.6 571.0,123.2 586.9,117.6 565.4,121.4 574.5,122.6 587.0,121.5 587.1,117.9 594.1,121.8 567.9,116.9 585.1,114.1 595.0,118.8 595.7,123.2 583.3,118.5 585.7,124.1 592.6,123.0 596.1,117.4 581.9,127.1 592.6,121.0 560.8,120.7 591.8,118.8 574.7,116.7 574.6,120.2 570.5,120.7 591.5,120.3 582.9,118.0 578.0,118.7 572.8,116.7 585.5,111.5 590.4,119.6 580.8,126.9 580.2,118.2 580.9,124.9 590.5,129.3 591.7,116.4 584.4,116.1 594.3,124.6 589.5,123.7 580.3,116.4 575.2,117.5 582.9,118.5 579.2,122.4 583.6,119.5 580.8,123.3 580.1,113.5 571.9,121.8 577.3,117.0 584.6,124.9 587.1,119.3 579.5,125.5 589.4,122.4 580.8,125.0 579.8,115.0 580.0,118.7 573.0,119.9 608.0,115.4 575.4,119.0 587.0,119.6 584.6,119.8 569.2,122.9 587.6,123.7 588.6,127.4 589.2,120.3 589.1,113.6 582.9,122.6 583.3,118.8 575.6,124.2 600.9,123.8 581.2,118.1 572.8,121.2 584.8,123.7 592.0,125.1 562.5,114.8 573.0,115.7 603.6,123.1 593.8,121.6 585.9,128.6 579.8,117.0 598.3,124.5 577.1,114.8 590.5,118.6 575.3,122.7 596.1,120.9 571.9,125.0 584.9,119.9 595.1,119.8 392.8,111.2 409.8,145.4 409.0,93.8 405.1,73.8 575.3,147.5 601.5,150.7 593.8,136.0 603.8,133.3 434.4,129.6 447.5,146.5 453.6,146.5 453.6,146.5" class="mk" marker-mid="url(#mx)"/><polyline points="601.7,78.1 601.7,78.1 604.9,83.4 597.2,88.6 603.1,90.3 608.5,93.7 610.5,93.0 612.4,92.5 610.5,95.5 621.9,95.5 625.3,99.7 599.4,97.6 602.1,98.9 600.2,100.4 606.1,100.9 607.5,102.8 611.9,100.9 613.9,99.9 611.4,103.3 614.9,104.3 616.8,103.8 619.8,103.3 621.7,102.8 622.7,104.3 618.8,105.8 615.8,106.2 613.9,105.8 621.7,106.7 624.6,108.2 628.6,107.2 629.5,109.7 614.9,108.7 610.9,111.1 619.8,109.2 611.4,112.1 614.4,113.2 616.6,112.5 615.4,107.2 613.6,105.4 621.8,107.2 624.1,109.5 629.3,108.7 630.8,111.0 625.9,105.5 619.4,111.0 619.4,111.0" class="mk" marker-mid="url(#mo)"/><polyline points="588.3,124.8 588.3,124.8 590.2,129.3 600.3,124.3 606.4,130.3 649.0,112.8 641.6,114.3 636.9,116.7 625.0,112.3 628.9,113.6 632.7,115.2 632.7,123.5 617.0,121.0 612.9,122.9 621.1,122.5 611.8,127.3 628.6,119.4 614.5,127.0 618.3,121.8 627.2,115.2 617.7,123.3 624.7,119.6 620.8,124.5 613.4,123.1 615.2,124.9 617.9,119.8 617.5,122.7 630.4,115.8 621.2,121.4 613.3,125.0 621.8,119.4 623.4,122.4 621.7,118.8 627.6,117.9 628.6,120.8 623.8,119.9 625.5,118.5 622.1,124.4 615.6,124.5 618.3,119.1 611.6,127.5 626.8,119.6 618.6,122.4 627.8,114.9 620.9,120.0 622.2,120.2 617.5,124.1 620.6,124.9 614.2,121.8 623.4,121.7 611.3,127.8 629.5,116.5 623.8,123.4 612.4,125.9 616.0,122.2 616.1,123.7 626.8,118.7 628.4,116.9 628.7,116.4 618.5,125.3 624.0,118.9 611.8,128.0 624.4,117.7 616.1,123.4 619.0,120.3 632.4,115.8 618.2,122.5 614.1,121.4 615.6,121.8 622.6,122.5 627.5,121.1 613.6,126.9 630.8,117.3 627.3,115.0 622.3,123.4 629.1,117.8 626.1,120.3 616.5,120.3 622.9,121.3 629.0,119.2 622.5,121.8 616.3,125.6 620.6,120.5 626.3,120.7 616.1,125.8 616.2,125.1 624.6,117.7 620.1,121.4 629.4,114.4 621.2,123.8 619.1,120.3 621.8,117.9 628.7,117.4 625.0,117.0 620.7,121.0 612.1,124.5 631.9,117.4 615.7,122.9 617.6,122.4 628.3,115.7 614.4,122.7 613.3,124.1 631.2,118.6 626.4,118.1 619.9,120.5 615.9,125.1 622.1,119.8 612.1,123.4 620.1,119.4 616.0,120.4 615.6,124.6 626.7,117.6 621.3,120.1 610.0,125.0 612.3,125.8 628.7,114.9 614.8,123.6 630.4,116.2 622.2,122.1 626.8,119.5 620.3,122.1 626.9,116.0 626.9,116.0" class="mk" marker-mid="url(#mr)"/><rect x="388.9" y="14.5" width="276.5" height="147.6" fill="none" stroke="#6e6e6e" stroke-width="1"/><path d="M395.9 162.1v-3M395.9 14.5v3M434.4 162.1v-3M434.4 14.5v3M472.9 162.1v-3M472.9 14.5v3M511.4 162.1v-3M511.4 14.5v3M549.9 162.1v-3M549.9 14.5v3M588.4 162.1v-3M588.4 14.5v3M626.9 162.1v-3M626.9 14.5v3M665.4 162.1v-3M665.4 14.5v3M388.9 162.3h3M665.4 162.3h-3M388.9 136.0h3M665.4 136.0h-3M388.9 109.6h3M665.4 109.6h-3M388.9 83.2h3M665.4 83.2h-3M388.9 56.9h3M665.4 56.9h-3M388.9 30.6h3M665.4 30.6h-3" stroke="#6e6e6e" stroke-width="0.8" fill="none"/><text x="395.9" y="177.1" text-anchor="middle" class="tk">-1.5</text><text x="434.4" y="177.1" text-anchor="middle" class="tk">-1</text><text x="472.9" y="177.1" text-anchor="middle" class="tk">-0.5</text><text x="511.4" y="177.1" text-anchor="middle" class="tk">0</text><text x="549.9" y="177.1" text-anchor="middle" class="tk">0.5</text><text x="588.4" y="177.1" text-anchor="middle" class="tk">1</text><text x="626.9" y="177.1" text-anchor="middle" class="tk">1.5</text><text x="665.4" y="177.1" text-anchor="middle" class="tk">2</text><text x="385.3" y="166.7" text-anchor="end" class="tk">0</text><text x="385.3" y="140.4" text-anchor="end" class="tk">0.5</text><text x="385.3" y="114.0" text-anchor="end" class="tk">1</text><text x="385.3" y="87.7" text-anchor="end" class="tk">1.5</text><text x="385.3" y="61.3" text-anchor="end" class="tk">2</text><text x="385.3" y="35.0" text-anchor="end" class="tk">2.5</text><text x="528.1" y="192.6" text-anchor="middle" class="lb">DF score 1</text><text transform="translate(365.0,86.5) rotate(-90)" text-anchor="middle" class="lb">DF score 2</text><text x="528.4" y="10.5" text-anchor="middle" class="tt">b) Bee emergence vibrations</text></g><g><rect x="34.5" y="228.8" width="276.5" height="147.6" fill="#fff"/><path d="M41.5 228.8V376.4M80.0 228.8V376.4M118.5 228.8V376.4M157.0 228.8V376.4M195.5 228.8V376.4M234.0 228.8V376.4M272.5 228.8V376.4M311.0 228.8V376.4M34.5 376.6H311.0M34.5 350.2H311.0M34.5 323.9H311.0M34.5 297.6H311.0M34.5 271.2H311.0M34.5 244.9H311.0" stroke="#e4e4e4" stroke-width="0.6" fill="none"/><polygon points="101.3,303.6 123.0,278.5 129.0,274.6 174.4,259.6 184.3,262.0 230.8,294.8 254.5,330.8 170.7,361.1 117.6,365.2 103.2,355.5 100.0,344.5 101.2,335.3" fill="#0000ff" stroke="#00003c" stroke-width="0.35"/><polygon points="247.2,292.3 242.6,302.7 244.0,311.8 256.2,330.5 277.8,326.3 271.3,313.9 267.6,309.6" fill="#000"/><polygon points="233.7,339.2 235.7,343.7 252.0,344.7 294.6,327.0 270.6,326.5" fill="#00f5fa" stroke="#5a7a7a" stroke-width="0.5"/><polyline points="123.1,278.4 123.1,278.4 128.3,275.1 130.7,274.6 148.5,281.5 154.9,271.1 156.4,272.5 157.9,268.0 172.6,266.5 174.4,259.8 133.9,290.1 152.0,289.4 153.7,295.9 129.3,297.4 143.9,298.3 141.9,301.4 151.5,302.0 102.1,303.8 112.1,304.2 115.2,303.8 163.9,303.6 169.9,303.6 111.8,305.0 115.2,304.4 142.1,301.5 151.5,302.0 164.1,303.6 169.9,304.2 147.6,305.2 141.5,306.0 144.5,307.3 151.9,306.9 161.1,307.6 165.9,310.3 126.8,308.8 137.8,308.5 134.1,310.9 123.1,312.1 120.9,315.4 143.9,312.1 148.8,312.8 154.9,310.3 162.0,311.5 143.0,314.6 149.4,317.6 154.9,317.6 148.2,319.5 143.3,318.9 140.9,321.1 159.8,320.3 125.0,319.5 126.8,321.9 113.6,322.8 115.2,325.2 103.6,321.3 118.2,325.0 120.7,327.4 124.4,328.0 129.3,326.2 130.5,329.9 134.1,329.3 139.0,325.0 142.1,325.6 146.4,325.6 152.5,325.0 157.4,325.6 145.2,328.7 152.5,329.3 153.7,332.3 165.9,323.2 167.2,325.6 164.7,328.0 162.3,329.3 172.7,322.5 173.3,325.6 171.5,332.3 173.3,335.4 109.7,331.3 113.1,332.6 109.4,334.8 101.7,335.4 118.5,335.8 126.2,332.1 128.0,334.2 131.7,334.8 134.1,336.6 123.7,337.2 122.5,339.1 130.5,338.4 132.9,340.9 140.9,332.6 142.7,334.8 146.4,335.4 145.2,337.8 156.2,334.2 159.2,335.4 161.7,337.2 166.6,334.8 165.9,338.4 154.9,341.5 158.6,342.7 161.7,341.5 159.8,345.2 163.5,346.4 168.4,345.2 156.2,345.2 101.1,344.6 103.0,346.4 108.5,344.8 112.7,344.6 115.8,343.3 117.6,346.4 125.6,345.8 137.8,345.8 140.9,345.2 146.4,346.4 150.7,346.4 131.7,348.2 106.6,348.2 100.5,347.6 100.9,344.2 102.6,346.0 103.8,355.2 106.6,347.9 108.7,345.2 112.7,344.4 115.6,343.6 117.6,346.9 115.2,348.5 117.6,365.0 125.6,346.0 123.7,350.3 122.2,352.1 127.0,352.1 127.4,355.8 130.7,358.3 132.3,348.1 135.4,350.1 137.2,346.9 141.2,345.2 142.1,351.5 144.5,351.3 143.9,355.2 140.9,357.6 136.6,357.4 144.5,357.6 148.8,359.5 146.4,346.6 149.4,347.6 152.5,347.9 156.2,344.8 158.6,346.0 161.7,344.8 158.6,350.9 162.9,351.5 164.7,347.9 168.4,349.1 161.1,355.2 159.6,357.6 155.2,355.2 170.6,361.3 144.0,304.1 149.5,301.5 163.5,303.6 170.7,304.6 148.1,304.2 137.8,302.2 139.7,310.9 153.0,305.5 162.5,308.9 124.1,307.3 137.1,308.2 135.1,314.1 122.0,314.8 119.7,319.2 144.0,315.0 151.3,310.2 156.0,310.2 162.1,310.3 146.1,315.4 156.3,316.3 145.8,317.9 146.2,314.4 140.5,320.4 155.7,314.8 124.3,324.1 119.4,327.8 127.9,329.4 129.3,328.4 131.5,330.1 150.7,326.0 153.2,330.7 150.8,332.6 168.2,323.2 162.2,323.4 161.7,327.7 166.7,330.8 172.5,336.0 127.0,332.4 129.1,335.9 133.0,334.8 133.8,337.0 123.5,340.4 129.7,339.3 141.8,334.9 145.4,336.8 161.5,334.9 160.9,337.6 155.7,336.1 165.8,340.5 155.3,338.8 162.3,345.5 126.0,348.4 138.3,345.9 140.7,348.5 156.7,343.9 184.3,262.3 190.6,274.9 196.9,279.0 208.8,288.3 222.4,296.7 230.8,294.9 170.6,303.2 170.6,304.8 195.3,319.2 205.7,320.1 236.2,308.8 242.2,314.2 248.3,324.4 172.4,322.5 174.3,326.2 181.6,323.8 184.7,322.5 188.6,322.5 184.1,328.0 187.7,328.7 182.2,331.7 176.1,332.3 172.4,336.0 179.8,336.0 185.9,336.6 189.0,332.9 178.0,340.9 185.9,339.1 196.5,336.6 201.8,334.2 208.5,340.3 215.5,337.8 202.4,345.8 221.7,342.4 228.5,339.4 243.4,334.8 171.2,332.3 171.2,332.3" class="mk" marker-mid="url(#mg)"/><polyline points="247.3,292.4 247.3,292.4 250.5,297.7 242.8,302.9 248.7,304.6 254.1,308.0 256.1,307.3 258.0,306.8 256.1,309.8 267.5,309.8 270.9,314.0 245.0,311.9 247.7,313.2 245.8,314.7 251.7,315.2 253.1,317.1 257.5,315.2 259.5,314.2 257.0,317.6 260.5,318.6 262.4,318.1 265.4,317.6 267.3,317.1 268.3,318.6 264.4,320.1 261.4,320.5 259.5,320.1 267.3,321.0 270.2,322.5 274.2,321.5 275.1,324.0 260.5,323.0 256.5,325.4 265.4,323.5 257.0,326.4 260.0,327.5 262.2,326.8 261.0,321.5 259.2,319.7 267.4,321.5 269.7,323.8 274.9,323.0 276.4,325.3 271.5,319.8 265.0,325.3 265.0,325.3" class="mk" marker-mid="url(#mo)"/><polyline points="233.9,339.1 233.9,339.1 235.8,343.6 245.9,338.6 252.0,344.6 294.6,327.1 287.2,328.6 282.5,331.0 270.6,326.6 274.5,327.9 278.3,329.5 278.3,337.8 262.6,335.3 258.5,337.2 266.7,336.8 257.4,341.6 274.2,333.7 260.1,341.3 263.9,336.1 272.8,329.5 263.3,337.6 270.3,333.9 266.4,338.8 259.0,337.4 260.8,339.2 263.5,334.1 263.1,337.0 276.0,330.1 266.8,335.7 258.9,339.3 267.4,333.7 269.0,336.7 267.3,333.1 273.2,332.2 274.2,335.1 269.4,334.2 271.1,332.8 267.7,338.7 261.2,338.8 263.9,333.4 257.2,341.8 272.4,333.9 264.2,336.7 273.4,329.2 266.5,334.3 267.8,334.5 263.1,338.4 266.2,339.2 259.8,336.1 269.0,336.0 256.9,342.1 275.1,330.8 269.4,337.7 258.0,340.2 261.6,336.5 261.7,338.0 272.4,333.0 274.0,331.2 274.3,330.7 264.1,339.6 269.6,333.2 257.4,342.3 270.0,332.0 261.7,337.7 264.6,334.6 278.0,330.1 263.8,336.8 259.7,335.7 261.2,336.1 268.2,336.8 273.1,335.4 259.2,341.2 276.4,331.6 272.9,329.3 267.9,337.7 274.7,332.1 271.7,334.6 262.1,334.6 268.5,335.6 274.6,333.5 268.1,336.1 261.9,339.9 266.2,334.8 271.9,335.0 261.7,340.1 261.8,339.4 270.2,332.0 265.7,335.7 275.0,328.7 266.8,338.1 264.7,334.6 267.4,332.2 274.3,331.7 270.6,331.3 266.3,335.3 257.7,338.8 277.5,331.7 261.3,337.2 263.2,336.7 273.9,330.0 260.0,337.0 258.9,338.4 276.8,332.9 272.0,332.4 265.5,334.8 261.5,339.4 267.7,334.1 257.7,337.7 265.7,333.7 261.6,334.7 261.2,338.9 272.3,331.9 266.9,334.4 255.6,339.3 257.9,340.1 274.3,329.2 260.4,337.9 276.0,330.5 267.8,336.4 272.4,333.8 265.9,336.4 272.5,330.3 272.5,330.3" class="mk" marker-mid="url(#mr)"/><polyline points="272.7,326.7 272.7,326.7 263.0,325.3 267.5,328.2 262.5,325.7 273.2,319.4 282.9,333.6 268.8,325.7 264.6,333.6 265.9,323.3 271.4,331.7 260.9,328.3 257.8,325.2 259.6,326.9 275.7,327.6 274.5,330.3 266.2,330.5 271.0,327.6 268.1,324.1 280.0,336.5 270.6,323.9 269.0,321.2 267.6,329.2 271.9,331.0 263.1,325.3 267.3,325.9 284.1,327.2 267.5,322.7 273.9,328.0 278.9,324.3 261.8,321.8 267.9,324.4 270.8,320.4 260.2,326.2 267.8,331.4 267.1,328.5 271.4,323.2 271.1,329.3 270.8,334.1 268.5,328.3 276.3,322.9 269.1,325.8 260.8,327.9 273.0,332.9 264.1,327.7 273.0,328.8 266.0,325.4 260.7,327.6 263.0,325.7 277.0,326.7 278.6,326.8 260.0,330.0 263.4,331.0 266.0,316.9 262.3,327.7 260.2,319.8 263.7,329.1 260.8,329.4 272.8,327.5 273.6,328.3 259.8,322.2 270.9,330.3 266.2,321.5 262.8,324.8 268.5,325.9 273.9,329.1 276.0,330.8 271.7,325.6 266.0,324.1 276.9,324.1 265.4,325.7 259.8,325.3 272.1,330.8 269.2,325.6 262.6,327.8 273.3,327.6 275.8,326.4 267.3,328.9 268.2,323.9 273.2,331.7 267.9,322.7 268.8,325.7 273.8,333.4 266.6,322.8 273.1,328.7 264.8,334.0 265.3,319.4 262.0,315.2 271.1,325.1 267.0,329.6 257.4,322.1 271.1,324.7 265.5,327.8 264.8,324.9 263.0,329.6 278.9,326.5 273.5,328.8 270.0,330.0 280.9,334.8 267.1,330.1 266.6,324.0 279.1,334.8 265.3,334.2 267.5,324.9 246.6,320.1 259.3,328.8 265.2,329.0 264.4,325.4 257.0,317.8 276.1,330.6 267.4,329.6 260.8,331.5 283.3,324.6 269.7,325.7 274.9,327.2 268.5,329.4 278.4,330.8 275.5,322.7 271.0,321.0 279.1,326.5 263.5,320.6 275.2,325.9 266.3,324.6 254.6,318.7 283.7,327.4 262.9,319.4 271.9,331.9 257.0,331.1 258.5,322.0 263.5,325.1 272.1,327.3 278.3,330.4 274.5,320.4 278.1,326.9 278.7,330.1 276.9,331.2 267.1,334.6 274.0,329.2 271.5,323.7 279.1,323.5 253.9,318.9 273.9,324.9 264.2,327.9 267.6,329.3 281.2,327.5 263.6,326.3 269.4,328.4 266.5,321.8 273.8,331.6 260.6,323.5 274.1,329.2 271.7,322.7 271.8,325.0 265.2,329.4 269.0,326.4 280.2,330.2 263.8,329.3 253.1,321.9 283.4,330.1 263.5,330.0 272.7,328.6 261.0,324.7 265.2,321.1 257.0,328.5 262.8,324.4 268.4,326.5 270.2,326.7 277.5,333.8 269.0,329.6 266.2,327.5 261.7,326.2 267.5,328.0 276.0,330.3 271.4,327.1 267.2,333.3 273.2,327.6 262.9,318.0 267.9,328.2 264.8,327.8 269.7,328.5 267.8,330.2 271.3,324.5 273.2,336.5 270.5,327.1 275.0,331.5 267.5,325.6 267.3,331.0 270.4,322.1 281.4,324.6 274.4,332.9 272.6,327.4 253.9,322.5 275.9,331.2 274.2,324.7 261.8,326.7 267.8,323.6 267.4,323.5 272.4,327.8 273.4,316.8 269.9,326.0 262.8,322.2 262.2,331.7 269.7,327.1 270.1,329.4 260.2,329.4 274.2,324.3 274.4,329.4 262.3,330.3 266.9,324.7 268.4,327.2 275.0,329.8 265.7,326.6 262.5,326.2 267.3,327.6 267.1,321.4 270.1,332.5 282.9,327.9 262.0,321.7 280.2,329.6 265.9,323.6 261.7,325.3 274.3,323.7 270.9,329.0 263.3,328.7 271.6,319.6 275.6,322.8 280.1,325.2 267.5,320.3 264.2,330.6 269.4,329.7 261.3,323.1 267.4,330.1 263.7,321.1 275.1,325.2 261.4,321.6 267.8,325.2 267.1,329.4 270.4,326.4 275.6,329.4 270.2,325.7 262.8,326.8 276.0,326.6 260.9,325.2 269.3,326.4 268.5,326.7 262.8,325.5 273.7,331.1 270.8,325.2 270.7,329.5 264.2,327.6 266.9,322.6 264.7,328.2 265.9,322.8 278.4,337.2 269.5,333.3 261.7,320.8 260.5,335.1 268.8,326.3 259.4,325.1 262.2,315.6 271.6,321.8 279.2,337.8 261.5,320.9 273.2,323.8 275.7,322.9 266.8,326.4 275.7,328.7 277.0,335.1 263.3,327.6 265.8,330.1 268.9,326.4 270.0,335.4 267.2,330.9 271.7,330.1 266.8,319.4 274.5,331.0 260.6,325.8 264.0,322.9 276.1,325.8 270.7,330.4 265.9,332.0 267.4,328.5 261.1,323.2 269.7,327.3 271.9,325.6 269.7,328.9 263.8,326.2 266.6,329.9 267.7,321.6 278.1,333.3 259.5,326.0 277.2,331.1 261.2,329.5 274.7,324.4 268.3,321.8 273.0,325.8 257.9,325.0 285.0,331.2 260.9,329.9 266.5,324.8 265.6,320.4 266.1,326.7 270.7,321.1 274.9,329.3 256.1,324.9 268.3,332.3 258.1,326.2 267.9,325.2 272.2,332.7 280.4,323.5 262.3,324.2 271.8,326.1 272.1,332.9 262.1,327.2 262.3,319.8 271.4,327.3 267.8,319.6 264.9,332.1 272.8,324.3 267.5,326.1 265.5,326.8 258.6,324.4 280.7,324.0 268.7,330.2 276.4,324.8 250.6,317.3 260.7,323.9 267.0,324.3 265.2,324.3 264.3,325.7 266.9,333.8 266.6,329.0 278.3,326.3 255.5,317.5 274.8,324.1 272.0,329.8 265.2,323.9 284.1,328.7 259.7,320.4 281.7,328.9 257.5,323.7 267.3,323.6 262.8,324.3 267.0,324.0 270.0,326.6 271.3,324.9 273.3,332.4 266.6,326.7 263.0,316.5 278.9,333.7 263.3,321.0 268.8,320.9 261.0,326.0 272.9,326.4 267.3,321.6 266.6,322.6 261.1,324.8 265.3,323.0 261.2,327.4 268.3,331.9 272.9,324.9 262.7,330.0 276.9,331.7 262.1,328.3 267.9,321.3 265.2,323.2 271.5,317.5 273.8,328.2 266.6,326.2 271.0,329.7 271.4,329.4 259.6,325.2 258.0,329.1 268.1,330.8 264.1,323.1 258.0,322.3 273.8,327.0 267.9,328.1 270.5,330.4 272.1,329.1 270.5,334.5 265.2,321.3 271.1,336.2 257.4,327.9 281.1,335.7 270.6,322.8 262.6,328.8 275.1,324.8 275.4,330.2 271.0,323.9 274.1,329.8 273.1,325.8 265.6,326.9 261.9,324.9 266.3,328.7 271.3,323.0 272.0,322.6 259.6,319.9 271.7,322.7 268.2,324.3 273.9,323.8 260.5,325.5 267.8,327.7 282.7,331.1 268.6,324.1 269.5,328.3 265.5,328.5 272.0,327.6 265.7,325.8 275.4,323.4 269.6,328.9 272.2,327.3 267.5,323.4 268.6,321.2 279.7,328.2 274.8,336.7 266.9,327.8 268.0,324.4 276.3,330.3 266.6,332.6 268.9,336.8 271.1,323.6 260.7,324.0 264.2,325.6 265.2,320.4 278.8,325.2 274.2,325.5 271.5,328.9 264.7,326.0 275.1,324.3 273.8,329.9 273.4,329.2 263.6,332.6 273.1,321.7 267.6,322.4 276.7,321.6 267.3,322.4 272.3,330.5 261.7,327.5 270.4,331.0 272.0,329.1 269.7,326.7 271.6,331.5 271.3,328.7 277.5,324.7 264.7,324.1 273.4,331.8 270.8,322.0 267.3,326.9 260.8,325.6 273.8,319.9 263.4,321.9 266.2,322.2 274.6,328.2 264.3,325.0 264.7,323.9 282.5,331.6 275.1,322.6 275.8,331.6 273.2,328.6 277.8,331.9 266.0,329.9 266.5,335.3 269.4,325.8 267.4,327.3 278.2,333.0 272.0,327.2 266.8,325.5 267.9,328.2 271.9,325.5 275.2,321.1 277.0,331.1 266.8,330.1 269.9,324.3 271.1,326.2 267.3,321.4 275.8,325.8 263.7,325.5 274.2,325.8 274.6,332.9 267.5,329.5 273.7,321.7 274.5,325.5 266.3,324.1 273.6,326.5 262.4,327.2 272.2,332.3 273.0,328.0 267.0,322.7 271.8,324.7 262.8,325.3 266.1,319.4 267.0,334.9 261.2,326.4 257.6,329.3 263.2,318.7 258.5,324.7 269.9,329.9 263.3,327.8 271.8,323.9 274.0,328.6 275.0,323.5 260.7,323.9 273.9,324.2 261.4,323.4 261.3,324.2 271.8,327.3 274.1,326.4 270.0,326.1 268.7,333.9 272.7,327.2 270.2,323.1 271.2,327.1 263.2,322.3 270.4,323.5 266.2,331.7 271.4,332.9 267.2,324.4 277.7,327.8 271.5,332.9 263.9,327.9 275.1,326.6 272.6,325.2 269.6,331.9 278.1,333.3 266.3,335.0 274.5,322.4 263.7,329.1 273.9,324.4 276.7,331.6 278.3,331.4 274.4,326.1 274.2,332.8 262.2,324.9 264.3,323.3 264.7,322.2 265.9,327.2 272.9,322.6 262.6,327.3 263.2,325.9 273.9,327.6 263.8,326.2 264.7,327.7 267.1,325.6 265.3,322.2 261.1,329.4 273.8,326.5 269.1,322.3 280.4,333.9 266.5,335.1 260.5,324.8 275.2,323.2 268.1,321.4 269.6,322.1 259.0,319.6 258.7,325.4 268.5,321.8 263.7,326.1 267.8,325.9 272.0,324.3 265.4,330.5 268.2,328.1 271.6,318.3 271.2,325.2 262.5,326.7 277.1,333.7 263.1,327.5 252.2,319.2 274.1,324.7 269.6,332.5 277.9,324.4 277.8,331.2 274.8,320.4 269.5,326.1 266.0,331.7 270.2,331.5 270.3,326.4 262.6,330.5 263.0,319.9 264.0,322.6 265.2,331.3 266.8,327.8 264.9,332.0 268.9,332.1 265.1,327.4 284.9,330.1 268.3,320.7 268.9,331.0 267.4,322.7 274.8,321.9 246.1,323.6 272.7,316.6 264.3,329.6 270.5,326.0 265.7,325.9 265.9,328.1 276.4,330.8 280.2,326.5 267.1,328.7 262.5,321.1 273.5,330.0 273.9,336.2 276.8,329.8 269.8,328.1 266.1,333.4 262.1,318.9 262.1,319.2 265.1,321.4 266.6,327.5 273.6,325.7 261.0,322.6 282.7,331.6 275.4,323.5 270.5,325.9 279.1,323.8 266.9,330.7 261.4,327.6 274.2,324.9 270.1,327.3 268.2,327.9 265.1,326.3 270.7,326.3 254.3,318.9 272.8,324.0 266.8,322.6 270.0,322.9 272.1,327.5 274.0,333.7 259.9,323.2 251.4,326.7 278.4,326.4 272.6,332.4 270.8,327.2 261.2,329.2 275.5,325.8 272.5,332.6 260.7,320.0 272.5,328.7 268.8,319.3 269.0,330.7 285.2,330.5 263.9,327.7 269.6,326.4 263.8,322.9 272.5,325.9 275.4,332.7 267.0,324.7 280.6,332.5 269.6,332.6 266.9,329.0 268.4,326.6 267.1,323.9 276.2,324.0 263.9,324.3 270.5,332.4 262.9,332.8 271.4,323.1 277.6,325.6 268.8,327.5 267.5,325.0 272.1,332.1 269.0,320.5 280.0,332.1 267.8,325.8 265.6,323.6 267.3,329.6 271.6,329.7 279.6,334.3 267.3,326.5 271.6,334.6 275.3,323.2 273.2,325.6 268.0,324.2 257.8,333.2 254.4,323.8 268.5,324.4 266.6,319.0 266.2,322.8 274.5,331.6 259.1,319.8 271.3,325.0 263.6,328.5 264.4,332.2 267.3,328.5 268.1,329.2 273.0,325.5 263.5,322.4 275.1,324.1 255.5,315.8 257.6,323.3 271.7,332.1 267.5,327.7 282.0,334.8 271.0,327.8 270.0,323.5 270.9,324.3 275.3,324.9 272.6,329.8 275.0,334.5 258.1,327.8 268.6,321.1 268.5,326.7 273.5,327.7 258.3,325.1 265.7,325.6 280.9,329.5 263.5,325.3 274.0,327.5 278.8,329.4 274.0,323.1 274.8,325.4 270.1,327.1 253.1,323.4 274.2,325.2 272.5,334.4 261.1,326.1 260.1,326.2 277.5,329.1 269.5,323.9 259.9,324.4 270.1,329.8 269.8,325.2 268.9,327.5 275.3,327.6 274.7,338.0 268.2,322.8 271.3,325.7 272.4,320.7 266.5,331.9 269.4,329.2 276.1,329.0 267.8,319.3 268.8,325.8 269.0,328.6 280.3,329.3 260.8,316.1 262.5,327.9 266.1,317.8 265.0,327.9 266.9,323.1 262.1,317.1 261.4,327.6 268.7,327.9 260.5,329.0 280.9,324.6 267.7,326.3 274.9,328.4 276.5,337.8 273.5,326.8 263.8,325.3 267.4,329.9 262.7,324.7 270.1,331.6 259.6,319.5 251.3,318.4 270.6,325.6 264.7,333.4 274.0,326.5 267.5,332.5 260.2,326.8 274.3,331.4 265.8,324.1 263.2,319.2 272.4,330.2 270.4,316.1 274.4,326.4 261.0,321.6 277.6,326.9 272.8,326.7 259.2,322.2 271.9,321.8 272.3,326.9 268.0,324.9 271.6,331.9 272.0,331.1 267.5,326.6 273.6,328.9 261.5,331.0 264.2,323.6 269.7,333.8 274.0,329.7 265.0,321.8 261.4,328.3 272.8,332.2 268.7,319.8 270.6,334.2 273.7,325.2 272.4,330.4 269.7,325.8 268.4,327.4 265.0,322.2 272.0,323.4 268.6,328.0 264.8,320.5 263.2,328.8 267.6,322.7 275.1,329.7 267.2,321.9 274.7,324.4 276.9,330.2 280.4,328.7 269.3,325.6 267.5,321.5 287.0,330.1 268.1,326.1 262.0,335.0 272.3,326.9 273.1,324.9 267.7,325.6 278.8,330.1 267.0,320.8 258.1,323.4 269.7,317.0 267.8,331.8 260.8,327.2 281.3,327.9 264.8,325.5 262.7,320.4 269.7,329.4 255.3,316.0 274.3,326.2 278.0,330.2 262.3,325.7 277.9,325.6 267.5,325.0 271.3,327.4 259.7,323.5 263.0,326.4 268.5,329.4 266.9,330.0 280.3,330.5 271.0,318.9 263.7,324.3 271.0,325.1 272.9,326.8 261.9,321.3 276.4,331.5 282.9,331.6 272.2,329.6 276.5,326.7 257.4,316.0 283.1,328.0 267.0,320.4 267.9,330.8 270.4,334.3 276.7,323.1 280.0,329.5 262.0,328.0 275.1,324.9 267.5,323.6 273.0,328.7 272.6,320.0 256.8,325.8 274.8,320.3 257.9,320.3 264.6,328.0 267.0,324.7 266.6,326.6 272.6,329.0 266.3,322.5 255.3,322.5 273.8,325.8 261.8,326.3 274.1,331.1 264.4,330.7 264.3,322.6 269.5,324.8 277.5,329.8 277.4,323.2 263.6,323.3 270.0,330.0 264.5,331.9 267.0,328.2 276.1,323.5 264.4,328.0 275.8,329.9 272.6,327.5 277.1,338.1 270.8,324.6 263.6,324.9 266.4,327.0 271.4,326.7 273.0,325.1 270.7,331.9 273.0,322.9 284.1,330.6 274.9,323.2 279.1,324.7 265.0,320.8 274.4,329.9 268.0,325.1 264.4,330.7 267.7,327.8 266.3,323.4 270.4,325.3 270.4,319.2 274.3,331.6 266.5,322.9 271.5,328.3 279.7,322.5 266.6,316.5 268.0,324.7 263.7,318.5 274.0,331.8 262.4,326.0 260.8,317.3 266.5,324.9 263.8,327.5 262.9,316.7 265.4,329.6 272.2,328.4 275.7,318.5 276.3,323.9 268.2,324.6 277.8,330.4 267.0,323.8 266.7,332.5 268.3,325.4 264.3,321.7 265.3,319.5 264.7,325.2 265.7,326.5 264.6,336.0 269.2,324.2 264.9,327.1 274.2,324.7 272.4,321.8 264.5,325.7 275.1,330.5 271.5,333.7 268.6,323.7 267.0,321.6 268.6,328.5 268.7,325.8 273.1,336.0 262.1,328.0 264.0,324.1 268.6,326.4 269.5,322.3 264.4,321.0 272.2,324.1 272.6,328.5 269.2,326.6 284.4,331.7 286.1,336.8 275.8,328.6 270.3,329.1 270.3,329.0 275.3,333.0 264.6,331.9 263.7,319.2 276.4,330.7 267.0,328.8 261.1,321.4 262.4,327.8 269.5,326.2 257.7,323.4 272.1,327.3 273.6,327.9 274.9,328.4 271.3,331.9 267.4,327.4 277.5,322.0 276.6,326.2 276.9,329.9 260.4,327.6 270.0,329.9 272.7,325.1 265.9,327.9 264.8,322.2 264.1,320.8 275.7,329.8 270.2,329.5 278.1,333.3 269.6,326.3 264.8,324.3 272.4,327.2 271.8,331.2 264.2,329.1 282.3,322.3 274.9,329.4 277.6,329.6 266.2,325.1 270.5,327.0 264.2,323.9 268.1,330.2 274.4,326.4 276.7,327.2 276.9,330.5 276.3,329.3 261.5,326.8 274.0,327.1 261.5,324.0 276.4,331.7 259.7,315.0 267.0,327.1 263.8,325.9 262.1,322.0 274.0,332.9 276.2,329.7 274.9,324.4 272.6,329.8 271.1,327.2 265.5,327.7 265.0,327.3 265.0,326.2 280.8,333.0 265.1,326.0 264.9,326.5 279.1,332.1 271.2,325.5 265.9,328.3 271.5,325.4 280.5,327.0 270.3,325.7 268.5,325.6 271.0,333.5 252.0,325.4 275.8,330.4 274.2,322.2 283.8,329.2 270.9,332.7 276.5,323.1 272.0,336.3 263.5,323.9 273.3,330.3 264.1,331.3 270.9,322.1 274.8,338.1 268.8,323.0 265.3,325.2 277.6,328.3 268.5,330.5 272.8,324.3 274.9,324.0 273.2,326.2 275.5,326.4 276.8,331.0 271.1,325.5 267.5,327.7 267.4,326.8 278.8,323.8 264.5,323.6 278.0,326.5 259.8,326.8 273.6,325.3 268.5,326.0 262.1,323.2 259.2,324.5 262.4,323.8 271.4,323.5 269.6,322.6 264.9,329.4 270.2,320.4 276.3,322.5 271.8,328.9 272.1,322.7 275.8,326.9 258.2,324.0 272.6,321.3 275.2,325.6 263.7,323.7 263.4,325.0 266.3,331.6 275.1,327.8 266.1,320.5 273.9,333.5 279.9,334.0 267.7,326.5 265.7,333.7 274.2,329.8 273.9,324.4 271.6,324.4 273.7,320.7 279.8,330.3 258.3,328.6 274.2,329.8 265.2,323.5 272.8,320.6 266.1,322.4 274.0,331.6 276.9,326.9 274.6,325.1 269.1,319.8 262.8,327.1 269.5,335.1 260.7,321.9 277.3,320.5 276.5,325.4 266.7,324.9 273.0,324.5 273.2,323.6 279.0,328.9 273.6,330.5 269.5,325.7 263.2,327.0 266.6,329.1 267.1,320.7 274.3,330.0 269.0,327.4 256.6,324.5 279.1,327.6 266.5,325.4 258.1,332.6 266.6,324.6 266.7,326.4 277.2,329.1 266.5,325.8 268.8,326.5 273.4,324.1 266.8,321.9 268.0,327.4 276.7,330.1 267.2,326.5 274.4,328.8 269.2,320.6 264.8,325.4 278.7,323.8 274.7,337.3 266.1,329.7 270.8,327.7 257.3,322.0 258.4,326.1 269.6,329.9 270.3,327.1 268.9,327.1 270.0,326.1 271.7,322.5 262.1,322.6 273.2,329.5 280.6,325.6 284.3,331.0 275.1,330.5 279.7,323.4 274.2,328.7 269.7,325.6 265.2,324.2 265.7,322.9 270.7,330.7 272.8,322.8 266.4,325.9 263.9,324.9 268.4,318.1 275.8,328.0 273.7,330.1 273.5,331.0 267.0,323.0 278.6,333.1 281.1,332.8 268.8,325.6 265.6,330.6 266.5,323.5 267.4,332.9 272.0,324.4 266.6,323.3 268.9,327.3 263.3,319.5 274.6,325.9 284.9,331.7 265.8,332.4 264.4,328.4 275.6,327.1 271.4,327.0 256.1,324.7 263.1,322.5 274.4,323.7 283.3,335.6 273.0,326.4 262.1,324.2 277.1,331.4 265.7,327.2 265.6,330.0 268.8,326.6 264.8,323.4 262.9,322.7 270.6,331.5 270.7,322.6 267.1,326.7 262.1,327.7 263.2,330.0 268.9,328.2 266.9,323.3 260.3,330.9 261.9,320.0 273.4,327.2 256.4,326.1 267.4,334.4 273.4,328.2 272.1,328.1 265.2,327.0 272.9,325.2 266.1,331.7 271.8,324.1 276.7,329.3 278.9,343.3 270.2,326.0 273.8,333.9 264.5,319.1 266.9,329.5 264.9,332.1 261.3,325.3 269.5,325.2 278.7,325.9 279.7,329.2 273.3,330.7 279.2,323.2 261.1,326.3 268.0,329.2 275.9,330.0 264.6,328.0 255.4,327.9 270.9,324.6 265.9,331.8 258.8,324.1 264.8,326.2 266.9,323.0 266.5,324.4 273.3,329.5 269.9,324.9 266.6,325.9 265.7,325.1 265.7,325.6 269.4,316.8 275.6,326.6 273.2,333.4 272.0,324.6 259.9,327.2 275.3,330.3 269.8,326.0 257.8,327.7 268.5,320.5 268.8,326.8 271.2,322.8 269.2,324.8 266.8,327.9 254.3,332.1 273.2,326.8 274.3,325.0 270.9,333.4 266.7,322.9 261.6,326.4 280.5,324.9 272.0,333.2 275.4,325.4 277.6,321.5 270.0,325.1 261.8,325.5 259.7,322.5 263.0,326.8 271.7,329.0 266.6,326.3 269.8,329.3 260.3,327.2 271.1,326.2 260.6,325.0 270.7,323.6 276.9,330.2 272.7,322.6 268.6,325.5 279.6,328.3 273.1,328.1 267.6,332.9 277.0,319.8 270.2,327.6 269.4,320.4 266.4,324.7 281.2,327.5 274.9,329.3 268.3,332.2 273.8,327.7 260.7,324.2 281.2,332.4 270.3,331.5 260.0,315.4 268.0,336.5 267.4,322.0 262.8,324.2 274.0,330.6 268.1,331.0 278.2,332.6 261.8,311.9 275.5,333.4 266.1,329.8 270.6,325.5 263.5,321.2 272.9,330.1 266.4,331.1 279.7,333.9 278.6,328.1 265.2,316.8 274.1,326.1 276.9,327.0 271.2,326.5 265.8,327.0 281.1,328.6 272.5,331.2 273.5,331.7 270.8,328.3 277.6,326.9 266.5,321.2 268.5,331.1 264.7,316.6 263.9,322.7 267.2,326.3 260.8,326.3 273.3,322.2 255.0,320.8 267.0,325.0 273.1,328.9 277.3,329.8 264.7,321.9 272.6,334.9 272.1,324.7 274.8,325.2 268.0,323.2 260.0,333.4 270.9,322.4 261.8,322.8 267.0,324.0 265.3,317.4 254.0,323.2 272.7,327.0 271.4,328.0 265.6,327.1 273.3,324.1 274.1,331.3 272.9,327.1 279.3,329.0 263.5,325.9 268.1,325.4 270.3,319.3 261.0,319.2 277.6,329.9 267.2,322.1 272.0,325.2 267.8,325.4 273.1,331.1 263.7,321.1 263.8,324.5 263.9,322.7 266.8,322.6 257.2,322.5 273.0,334.7 254.3,321.7 279.7,326.0 268.1,327.2 271.8,330.0 267.2,327.0 263.6,330.1 265.5,323.1 272.5,335.6 273.9,327.5 263.6,326.0 265.2,321.3 275.1,333.6 259.6,319.5 272.1,327.5 275.4,318.2 272.6,325.6 279.9,328.9 270.8,323.2 273.4,327.6 269.5,329.6 256.2,319.7 265.4,329.3 281.3,331.0 275.7,329.6 272.6,324.9 270.9,324.1 274.0,322.8 269.0,327.4 273.1,333.9 251.8,323.6 270.1,326.2 271.3,325.6 269.7,332.2 276.9,323.1 267.1,331.2 268.1,322.6 276.9,328.9 274.8,326.3 260.3,327.1 264.7,326.3 265.8,330.1 260.2,334.7 273.2,329.3 269.1,329.3 267.6,325.2 269.8,329.4 272.8,332.0 272.8,332.8 272.9,321.6 271.2,330.9 270.0,330.1 274.7,325.1 274.0,326.0 279.4,332.2 268.8,330.5 273.2,323.6 277.6,324.9 269.6,328.3 265.7,321.5 261.8,321.1 278.6,327.1 266.6,328.5 271.6,326.1 272.6,323.7 269.3,326.1 267.6,325.5 279.7,327.6 265.0,327.5 267.4,322.3 261.4,322.5 272.7,322.6 261.0,330.8 272.8,333.5 267.1,326.8 275.7,331.4 264.2,327.8 271.3,326.1 274.4,330.1 258.6,319.4 263.5,325.1 263.1,322.7 261.7,329.1 278.5,326.9 265.5,334.4 267.0,324.5 273.7,328.0 276.4,335.3 268.2,329.6 261.0,325.3 267.6,321.2 276.7,328.7 263.5,328.0 268.4,318.9 274.5,325.3 255.6,331.5 275.7,319.5 267.7,327.3 267.4,324.3 275.2,331.8 270.2,327.6 257.8,321.3 272.3,324.5 259.8,329.9 269.7,324.0 276.3,326.8 267.7,327.2 273.4,324.3 267.5,327.1 274.4,331.0 262.5,329.0 263.0,321.7 261.2,320.9 266.8,326.2 267.3,325.2 270.7,327.9 259.7,322.4 267.7,325.9 270.6,323.1 268.7,319.2 271.8,317.8 267.0,328.8 261.8,322.6 275.6,320.7 274.5,323.1 257.3,324.5 271.6,326.0 264.6,326.8 268.9,323.1 269.6,331.5 274.1,323.2 269.0,326.4 268.1,322.5 264.4,325.4 275.4,322.0 274.5,324.7 270.8,330.3 266.3,328.7 267.4,327.5 282.8,331.6 277.5,329.8 260.8,323.5 273.1,335.1 263.4,325.3 270.6,323.9 268.1,328.0 267.4,327.1 269.6,329.4 257.5,321.8 268.7,328.5 265.9,329.3 273.1,327.6 263.8,328.4 260.3,324.8 259.7,321.3 265.5,328.0 271.0,321.5 265.4,326.6 256.5,320.3 264.4,324.0 267.3,327.2 260.5,318.0 272.0,326.7 266.3,323.8 275.8,326.8 267.8,326.9 267.4,331.1 265.8,328.0 253.5,334.2 273.4,329.8 274.4,327.2 269.2,330.6 262.1,329.1 265.0,324.6 268.8,330.9 263.4,325.9 260.9,326.4 273.3,332.8 257.8,326.7 269.9,333.5 280.1,323.7 264.3,324.7 268.7,328.9 267.3,327.1 264.1,331.6 267.7,331.1 269.6,329.3 261.2,324.2 266.3,317.3 275.8,330.1 274.0,327.2 267.8,331.1 267.3,331.1 272.0,334.6 275.5,329.3 268.5,333.8 268.5,317.1 274.1,325.0 279.8,325.0 268.7,327.8 264.0,320.3 269.6,324.2 266.5,322.5 264.3,325.7 265.5,317.5 272.6,326.5 270.6,322.5 264.5,329.2 275.3,329.4 271.2,325.8 266.6,327.1 269.5,332.8 268.5,316.5 274.4,328.4 272.9,323.9 266.1,319.0 273.6,324.2 259.5,320.7 266.4,324.9 275.1,327.4 264.4,322.9 268.2,330.0 266.0,326.3 275.0,327.6 266.7,329.3 271.0,327.5 272.2,325.4 269.5,324.8 276.7,318.6 263.6,318.1 274.1,330.1 270.4,333.3 263.6,329.4 266.9,327.1 263.3,329.4 276.4,332.6 260.5,324.6 268.0,323.6 273.2,323.0 267.5,323.6 266.9,334.3 280.7,321.0 264.9,322.5 263.1,333.1 275.4,334.1 262.4,328.8 276.2,327.9 280.9,325.9 267.0,320.7 279.2,326.1 269.6,325.4 266.0,320.4 264.6,327.4 268.1,326.1 269.9,325.1 272.6,328.0 263.9,330.2 277.9,325.2 272.1,333.5 270.6,326.1 260.3,333.0 268.6,327.2 267.4,327.8 270.6,323.1 266.9,329.5 268.2,320.0 265.5,322.7 272.9,325.7 268.8,327.2 263.9,325.9 266.2,328.4 260.2,324.0 271.8,328.0 260.5,325.0 272.0,326.9 270.0,322.8 273.0,327.3 258.8,322.1 281.3,331.0 271.0,326.0 262.1,327.1 273.8,324.3 275.0,329.7 263.7,324.3 257.9,331.3 264.1,327.4 266.2,330.5 264.0,328.0 277.2,324.5 268.0,325.0 266.0,323.9 268.5,327.3 272.8,331.9 276.6,324.3 262.1,322.2 267.8,324.2 264.8,321.2 277.6,328.9 258.8,324.6 268.9,330.4 280.5,326.7 271.0,325.1 265.6,320.2 263.3,323.6 274.5,322.1 268.1,331.9 270.1,327.5 273.1,333.6 263.0,324.8 279.4,329.4 270.4,327.2 268.6,329.6 279.7,327.2 277.0,332.6 261.3,326.3 276.2,324.9 266.5,319.0 272.2,326.0 268.1,321.6 266.6,322.5 265.4,325.7 267.6,326.5 261.4,322.9 267.7,326.4 255.9,325.1 265.5,323.6 274.2,334.3 271.0,331.1 269.4,324.8 266.5,327.7 267.0,328.0 260.6,323.0 265.7,328.6 257.9,328.7 269.3,330.9 271.2,326.6 269.2,325.7 265.0,330.7 283.8,326.7 256.3,321.9 272.0,321.8 277.3,330.6 266.2,317.0 266.2,322.5 263.9,325.4 273.8,330.6 273.2,325.4 268.9,335.0 278.0,326.0 269.1,326.8 256.3,326.2 259.0,331.1 267.6,329.1 273.0,331.0 273.3,324.9 281.2,328.1 281.1,328.0 270.0,325.5 264.9,330.1 254.3,302.9 261.0,311.2 247.0,297.0 256.7,317.6 260.3,317.0 263.9,313.9 254.2,293.8 260.9,308.7 253.7,313.8 259.3,305.0 253.0,314.1 260.1,312.2 260.5,299.2 266.5,323.8 255.2,299.8 252.6,300.9 253.8,307.8 260.2,312.7 262.0,316.1 253.6,312.7 267.6,319.9 260.2,305.6 267.1,317.7 262.5,313.2 255.3,304.4 256.5,310.7 266.0,312.8 256.9,297.3 262.5,314.2 242.5,305.1 253.3,304.8 243.4,301.0 247.3,300.2 253.2,303.3 249.9,298.0 249.0,305.4 258.9,311.5 261.3,317.7 263.2,303.1 252.2,293.9 254.3,298.9 254.8,316.0 250.6,297.5 261.4,317.4 260.4,316.3 253.5,309.5 247.5,293.9 253.5,299.9 258.7,321.8 249.3,294.9 267.9,318.5 254.7,301.0 260.2,305.9 251.5,306.7 243.3,295.5 246.7,306.9 252.8,301.9 257.7,305.9 260.5,318.3 248.5,293.1 249.6,307.6 251.6,293.8 262.4,320.7 262.2,314.6 256.6,304.1 248.9,305.8 268.7,315.8 250.9,304.1 257.5,305.0 255.6,297.4 262.8,311.9 261.4,308.2 257.6,302.1 259.1,312.4 251.7,292.8 262.6,308.8 254.4,293.8 256.6,300.9 256.6,304.8 260.6,309.4 255.2,302.5 246.3,294.7 254.4,302.6 257.1,301.1 263.5,317.5 257.0,305.6 255.6,300.8 257.0,308.2 250.8,296.2 251.8,305.0 253.3,301.8 246.7,293.3 258.1,304.4 259.6,318.5 249.0,313.5 255.2,301.4 256.6,322.3 262.8,317.9 256.5,307.5 247.2,294.9 261.9,306.7 240.6,296.8 247.2,300.4 261.1,309.4 268.0,313.8 264.6,316.0 258.6,312.9 255.0,305.0 253.7,311.4 262.2,317.9 255.2,308.8 254.4,315.4 245.7,293.5 254.5,317.7 261.3,315.6 256.9,311.2 262.2,310.3 250.1,293.5 260.7,305.5 258.0,315.7 252.8,289.7 244.3,290.6 260.6,322.3 251.2,303.6 251.2,292.3 256.7,305.0 253.0,302.1 252.7,305.7 256.5,294.7 260.4,321.3 257.1,308.2 256.0,310.6 247.9,310.7 256.9,316.5 264.0,323.1 261.5,320.9 252.1,305.3 248.8,293.5 260.8,321.1 260.8,312.8 262.4,310.2 256.2,298.5 260.7,310.3 251.1,306.6 251.3,300.3 258.7,312.3 256.3,308.7 264.9,323.3 252.3,295.6 254.1,305.1 248.0,290.4 228.6,278.3 227.5,279.2 232.5,279.0 241.3,281.6 234.0,276.9 229.5,278.1 234.4,275.5 229.5,292.6 239.5,282.1 234.4,287.7 238.4,287.2 244.5,285.5 240.9,287.8 235.3,284.4 239.6,284.3 234.0,282.0 237.4,288.0 220.8,263.0 229.0,274.0 234.7,283.2 224.3,278.3 245.9,289.1 231.1,282.4 242.9,284.0 226.0,277.9 186.3,259.6 204.7,271.2 222.4,323.9 228.6,322.8 216.3,317.0 214.8,317.6 191.7,308.1 118.5,357.6 130.1,351.8 226.3,308.1 230.1,331.8 237.9,345.0 241.7,310.7 234.0,300.2 240.2,318.6 243.2,326.5 280.2,305.5 287.9,323.9 287.9,323.9" class="mk" marker-mid="url(#mx)"/><rect x="34.5" y="228.8" width="276.5" height="147.6" fill="none" stroke="#6e6e6e" stroke-width="1"/><path d="M41.5 376.4v-3M41.5 228.8v3M80.0 376.4v-3M80.0 228.8v3M118.5 376.4v-3M118.5 228.8v3M157.0 376.4v-3M157.0 228.8v3M195.5 376.4v-3M195.5 228.8v3M234.0 376.4v-3M234.0 228.8v3M272.5 376.4v-3M272.5 228.8v3M311.0 376.4v-3M311.0 228.8v3M34.5 376.6h3M311.0 376.6h-3M34.5 350.2h3M311.0 350.2h-3M34.5 323.9h3M311.0 323.9h-3M34.5 297.6h3M311.0 297.6h-3M34.5 271.2h3M311.0 271.2h-3M34.5 244.9h3M311.0 244.9h-3" stroke="#6e6e6e" stroke-width="0.8" fill="none"/><text x="41.5" y="391.4" text-anchor="middle" class="tk">-1.5</text><text x="80.0" y="391.4" text-anchor="middle" class="tk">-1</text><text x="118.5" y="391.4" text-anchor="middle" class="tk">-0.5</text><text x="157.0" y="391.4" text-anchor="middle" class="tk">0</text><text x="195.5" y="391.4" text-anchor="middle" class="tk">0.5</text><text x="234.0" y="391.4" text-anchor="middle" class="tk">1</text><text x="272.5" y="391.4" text-anchor="middle" class="tk">1.5</text><text x="311.0" y="391.4" text-anchor="middle" class="tk">2</text><text x="30.9" y="381.0" text-anchor="end" class="tk">0</text><text x="30.9" y="354.6" text-anchor="end" class="tk">0.5</text><text x="30.9" y="328.3" text-anchor="end" class="tk">1</text><text x="30.9" y="301.9" text-anchor="end" class="tk">1.5</text><text x="30.9" y="275.6" text-anchor="end" class="tk">2</text><text x="30.9" y="249.3" text-anchor="end" class="tk">2.5</text><text x="173.8" y="406.9" text-anchor="middle" class="lb">DF score 1</text><text transform="translate(10.6,300.8) rotate(-90)" text-anchor="middle" class="lb">DF score 2</text><text x="174.1" y="224.8" text-anchor="middle" class="tt">c) Mite walking vibrations</text></g><g><rect x="388.9" y="228.8" width="276.5" height="147.6" fill="#fff"/><path d="M395.9 228.8V376.4M434.4 228.8V376.4M472.9 228.8V376.4M511.4 228.8V376.4M549.9 228.8V376.4M588.4 228.8V376.4M626.9 228.8V376.4M665.4 228.8V376.4M388.9 376.6H665.4M388.9 350.2H665.4M388.9 323.9H665.4M388.9 297.6H665.4M388.9 271.2H665.4M388.9 244.9H665.4" stroke="#e4e4e4" stroke-width="0.6" fill="none"/><polygon points="455.7,303.6 477.4,278.5 483.4,274.6 528.8,259.6 538.7,262.0 585.2,294.8 608.9,330.8 525.1,361.1 472.0,365.2 457.6,355.5 454.4,344.5 455.6,335.3" fill="#0000ff" stroke="#00003c" stroke-width="0.35"/><polygon points="601.6,292.3 597.0,302.7 598.4,311.8 610.6,330.5 632.2,326.3 625.7,313.9 622.0,309.6" fill="#000"/><polygon points="588.1,339.2 590.1,343.7 606.4,344.7 649.0,327.0 625.0,326.5" fill="#00f5fa" stroke="#5a7a7a" stroke-width="0.5"/><polyline points="477.5,278.4 477.5,278.4 482.7,275.1 485.1,274.6 502.9,281.5 509.3,271.1 510.8,272.5 512.3,268.0 527.0,266.5 528.8,259.8 488.3,290.1 506.4,289.4 508.1,295.9 483.7,297.4 498.3,298.3 496.3,301.4 505.9,302.0 456.5,303.8 466.5,304.2 469.6,303.8 518.3,303.6 524.3,303.6 466.2,305.0 469.6,304.4 496.5,301.5 505.9,302.0 518.5,303.6 524.3,304.2 502.0,305.2 495.9,306.0 498.9,307.3 506.3,306.9 515.5,307.6 520.3,310.3 481.2,308.8 492.2,308.5 488.5,310.9 477.5,312.1 475.3,315.4 498.3,312.1 503.2,312.8 509.3,310.3 516.4,311.5 497.4,314.6 503.8,317.6 509.3,317.6 502.6,319.5 497.7,318.9 495.3,321.1 514.2,320.3 479.4,319.5 481.2,321.9 468.0,322.8 469.6,325.2 458.0,321.3 472.6,325.0 475.1,327.4 478.8,328.0 483.7,326.2 484.9,329.9 488.5,329.3 493.4,325.0 496.5,325.6 500.8,325.6 506.9,325.0 511.8,325.6 499.6,328.7 506.9,329.3 508.1,332.3 520.3,323.2 521.6,325.6 519.1,328.0 516.7,329.3 527.1,322.5 527.7,325.6 525.9,332.3 527.7,335.4 464.1,331.3 467.5,332.6 463.8,334.8 456.1,335.4 472.9,335.8 480.6,332.1 482.4,334.2 486.1,334.8 488.5,336.6 478.1,337.2 476.9,339.1 484.9,338.4 487.3,340.9 495.3,332.6 497.1,334.8 500.8,335.4 499.6,337.8 510.6,334.2 513.6,335.4 516.1,337.2 521.0,334.8 520.3,338.4 509.3,341.5 513.0,342.7 516.1,341.5 514.2,345.2 517.9,346.4 522.8,345.2 510.6,345.2 455.5,344.6 457.4,346.4 462.9,344.8 467.1,344.6 470.2,343.3 472.0,346.4 480.0,345.8 492.2,345.8 495.3,345.2 500.8,346.4 505.1,346.4 486.1,348.2 461.0,348.2 454.9,347.6 455.3,344.2 457.0,346.0 458.2,355.2 461.0,347.9 463.1,345.2 467.1,344.4 470.0,343.6 472.0,346.9 469.6,348.5 472.0,365.0 480.0,346.0 478.1,350.3 476.6,352.1 481.4,352.1 481.8,355.8 485.1,358.3 486.7,348.1 489.8,350.1 491.6,346.9 495.6,345.2 496.5,351.5 498.9,351.3 498.3,355.2 495.3,357.6 491.0,357.4 498.9,357.6 503.2,359.5 500.8,346.6 503.8,347.6 506.9,347.9 510.6,344.8 513.0,346.0 516.1,344.8 513.0,350.9 517.3,351.5 519.1,347.9 522.8,349.1 515.5,355.2 514.0,357.6 509.6,355.2 525.0,361.3 498.4,304.1 503.9,301.5 517.9,303.6 525.1,304.6 502.5,304.2 492.2,302.2 494.1,310.9 507.4,305.5 516.9,308.9 478.5,307.3 491.5,308.2 489.5,314.1 476.4,314.8 474.1,319.2 498.4,315.0 505.7,310.2 510.4,310.2 516.5,310.3 500.5,315.4 510.7,316.3 500.2,317.9 500.6,314.4 494.9,320.4 510.1,314.8 478.7,324.1 473.8,327.8 482.3,329.4 483.7,328.4 485.9,330.1 505.1,326.0 507.6,330.7 505.2,332.6 522.6,323.2 516.6,323.4 516.1,327.7 521.1,330.8 526.9,336.0 481.4,332.4 483.5,335.9 487.4,334.8 488.2,337.0 477.9,340.4 484.1,339.3 496.2,334.9 499.8,336.8 515.9,334.9 515.3,337.6 510.1,336.1 520.2,340.5 509.7,338.8 516.7,345.5 480.4,348.4 492.7,345.9 495.1,348.5 511.1,343.9 538.7,262.3 545.0,274.9 551.3,279.0 563.2,288.3 576.8,296.7 585.2,294.9 525.0,303.2 525.0,304.8 549.7,319.2 560.1,320.1 590.6,308.8 596.6,314.2 602.7,324.4 526.8,322.5 528.7,326.2 536.0,323.8 539.1,322.5 543.0,322.5 538.5,328.0 542.1,328.7 536.6,331.7 530.5,332.3 526.8,336.0 534.2,336.0 540.3,336.6 543.4,332.9 532.4,340.9 540.3,339.1 550.9,336.6 556.2,334.2 562.9,340.3 569.9,337.8 556.8,345.8 576.1,342.4 582.9,339.4 597.8,334.8 525.6,332.3 525.6,332.3" class="mk" marker-mid="url(#mg)"/><polyline points="601.7,292.4 601.7,292.4 604.9,297.7 597.2,302.9 603.1,304.6 608.5,308.0 610.5,307.3 612.4,306.8 610.5,309.8 621.9,309.8 625.3,314.0 599.4,311.9 602.1,313.2 600.2,314.7 606.1,315.2 607.5,317.1 611.9,315.2 613.9,314.2 611.4,317.6 614.9,318.6 616.8,318.1 619.8,317.6 621.7,317.1 622.7,318.6 618.8,320.1 615.8,320.5 613.9,320.1 621.7,321.0 624.6,322.5 628.6,321.5 629.5,324.0 614.9,323.0 610.9,325.4 619.8,323.5 611.4,326.4 614.4,327.5 616.6,326.8 615.4,321.5 613.6,319.7 621.8,321.5 624.1,323.8 629.3,323.0 630.8,325.3 625.9,319.8 619.4,325.3 619.4,325.3" class="mk" marker-mid="url(#mo)"/><polyline points="588.3,339.1 588.3,339.1 590.2,343.6 600.3,338.6 606.4,344.6 649.0,327.1 641.6,328.6 636.9,331.0 625.0,326.6 628.9,327.9 632.7,329.5 632.7,337.8 617.0,335.3 612.9,337.2 621.1,336.8 611.8,341.6 628.6,333.7 614.5,341.3 618.3,336.1 627.2,329.5 617.7,337.6 624.7,333.9 620.8,338.8 613.4,337.4 615.2,339.2 617.9,334.1 617.5,337.0 630.4,330.1 621.2,335.7 613.3,339.3 621.8,333.7 623.4,336.7 621.7,333.1 627.6,332.2 628.6,335.1 623.8,334.2 625.5,332.8 622.1,338.7 615.6,338.8 618.3,333.4 611.6,341.8 626.8,333.9 618.6,336.7 627.8,329.2 620.9,334.3 622.2,334.5 617.5,338.4 620.6,339.2 614.2,336.1 623.4,336.0 611.3,342.1 629.5,330.8 623.8,337.7 612.4,340.2 616.0,336.5 616.1,338.0 626.8,333.0 628.4,331.2 628.7,330.7 618.5,339.6 624.0,333.2 611.8,342.3 624.4,332.0 616.1,337.7 619.0,334.6 632.4,330.1 618.2,336.8 614.1,335.7 615.6,336.1 622.6,336.8 627.5,335.4 613.6,341.2 630.8,331.6 627.3,329.3 622.3,337.7 629.1,332.1 626.1,334.6 616.5,334.6 622.9,335.6 629.0,333.5 622.5,336.1 616.3,339.9 620.6,334.8 626.3,335.0 616.1,340.1 616.2,339.4 624.6,332.0 620.1,335.7 629.4,328.7 621.2,338.1 619.1,334.6 621.8,332.2 628.7,331.7 625.0,331.3 620.7,335.3 612.1,338.8 631.9,331.7 615.7,337.2 617.6,336.7 628.3,330.0 614.4,337.0 613.3,338.4 631.2,332.9 626.4,332.4 619.9,334.8 615.9,339.4 622.1,334.1 612.1,337.7 620.1,333.7 616.0,334.7 615.6,338.9 626.7,331.9 621.3,334.4 610.0,339.3 612.3,340.1 628.7,329.2 614.8,337.9 630.4,330.5 622.2,336.4 626.8,333.8 620.3,336.4 626.9,330.3 626.9,330.3" class="mk" marker-mid="url(#mr)"/><polyline points="609.2,335.6 609.2,335.6 609.1,339.5 621.7,336.7 616.5,336.0 619.2,339.0 619.2,336.9 608.4,336.1 619.5,333.1 623.9,338.5 619.1,333.5 613.9,334.9 627.4,332.4 608.1,339.3 616.7,337.2 615.8,335.4 615.0,332.6 617.8,336.7 617.7,336.9 628.7,334.2 623.5,333.6 618.3,337.0 619.8,338.1 622.6,339.2 610.8,336.7 615.7,336.1 611.8,339.0 622.9,334.4 617.8,333.8 614.6,338.0 617.0,335.9 615.7,340.9 623.3,335.6 613.9,335.3 612.8,339.2 622.6,334.3 621.6,336.8 606.9,342.2 626.9,330.9 614.6,334.1 616.2,334.6 610.7,336.1 615.6,337.0 616.7,339.1 622.0,334.5 625.0,336.9 621.4,336.8 618.9,335.5 620.5,330.8 625.1,334.3 618.1,336.2 625.9,336.3 620.6,337.2 623.7,332.0 618.0,338.2 615.6,339.9 630.7,332.7 621.5,332.8 615.5,333.9 618.4,337.4 616.7,333.8 614.4,333.5 623.3,339.2 613.4,339.1 615.5,338.3 616.7,337.9 625.5,337.0 617.3,339.1 613.1,338.5 616.6,337.3 612.4,337.1 619.2,336.8 625.8,339.7 621.6,336.3 616.7,335.0 619.8,339.7 618.8,332.3 617.7,331.9 627.4,333.0 608.4,335.0 615.1,336.8 618.7,340.1 620.5,335.7 621.0,333.9 611.2,338.2 622.7,337.0 610.1,338.3 628.7,336.3 612.8,337.4 620.0,335.0 619.5,333.4 615.8,337.2 607.4,338.4 625.2,338.5 620.5,338.4 615.7,336.5 622.9,336.1 627.8,334.5 617.4,340.0 618.0,335.3 614.6,337.5 610.0,338.3 611.3,333.7 628.1,339.8 623.3,334.9 617.5,338.6 617.3,337.7 599.7,338.7 616.1,335.8 614.7,337.2 607.0,338.2 625.4,336.0 615.9,339.0 613.9,339.3 613.9,335.5 616.9,336.3 617.0,339.8 613.2,333.5 617.2,339.2 615.5,336.9 626.7,333.8 616.1,332.6 610.5,334.8 618.9,336.8 620.9,333.7 618.2,336.0 615.8,336.0 626.2,337.2 624.6,334.8 617.3,337.4 621.2,335.5 617.9,337.5 622.4,332.4 611.6,336.4 619.7,335.2 613.0,335.0 609.5,335.0 616.5,340.4 615.2,338.5 614.6,337.7 621.9,337.1 611.4,339.8 617.2,337.7 621.7,335.2 613.3,337.3 616.6,332.3 619.9,334.8 615.3,336.4 620.9,338.8 621.1,337.0 611.8,337.4 620.4,338.1 609.3,342.2 615.7,336.2 616.5,338.3 608.0,344.0 620.0,336.8 627.7,332.0 615.3,335.0 613.7,337.0 614.5,337.6 619.4,341.3 623.7,340.7 617.8,334.0 615.9,336.1 614.7,336.8 619.6,337.2 618.0,334.6 616.4,339.4 615.3,333.6 608.3,339.9 622.3,333.5 617.6,334.8 625.9,336.7 618.7,331.7 618.9,334.7 616.7,330.5 624.0,338.0 615.4,331.5 615.9,337.6 622.2,336.9 618.1,336.5 621.2,336.6 622.2,337.9 622.7,335.3 606.6,336.4 617.0,337.4 604.8,333.5 616.8,339.1 616.9,330.7 620.9,333.9 610.9,336.5 622.3,339.0 609.8,339.6 617.7,338.4 626.6,331.7 617.1,338.0 612.5,337.7 616.6,335.3 617.2,338.3 622.2,334.6 612.9,332.5 618.1,335.5 623.3,336.2 616.1,331.9 612.7,336.6 610.6,337.1 630.9,334.4 611.0,336.3 620.3,339.3 625.3,334.8 614.2,334.3 618.1,337.3 619.9,334.7 624.3,335.6 609.7,338.9 631.4,337.0 619.0,327.7 623.1,335.6 625.6,335.1 618.1,335.5 606.6,338.0 623.0,333.9 621.2,338.4 627.9,337.2 620.7,334.8 617.2,337.8 610.5,337.3 621.8,334.5 628.9,340.3 615.6,336.5 618.7,335.5 613.8,340.4 611.7,335.3 621.8,335.8 611.4,337.8 618.0,334.6 619.0,339.0 621.9,336.6 612.1,334.2 619.3,339.3 625.4,335.6 613.1,336.4 623.6,336.5 617.5,336.4 611.8,337.7 620.3,337.3 611.6,339.3 618.8,339.9 614.3,336.7 619.2,332.9 624.9,335.2 619.1,337.7 615.7,337.9 625.1,336.1 621.4,336.5 625.1,334.4 625.0,338.6 620.4,336.5 604.8,333.1 606.9,341.2 615.4,335.6 614.7,340.5 619.2,340.3 629.5,335.0 616.2,338.6 615.6,336.5 613.6,335.6 612.1,333.4 622.4,334.5 614.9,334.9 615.0,339.6 624.1,338.2 619.0,341.4 624.0,336.7 617.8,334.5 612.7,339.5 623.3,326.9 617.0,336.5 616.7,332.9 616.4,333.1 605.6,340.2 618.7,336.1 615.8,332.0 614.0,335.0 625.7,340.7 621.9,340.3 612.4,337.7 615.9,335.9 616.9,336.2 612.5,336.6 624.1,335.1 612.8,334.6 625.7,338.9 613.1,334.6 632.2,335.9 617.1,334.4 624.4,330.0 614.0,337.0 624.9,339.1 616.2,333.3 611.0,333.8 628.0,336.9 617.6,335.5 619.5,333.0 617.9,339.2 621.0,337.5 611.9,337.3 620.9,338.7 612.9,336.4 623.0,336.2 628.3,333.8 625.9,335.5 613.0,334.1 619.8,335.0 615.7,335.0 609.7,337.5 613.1,338.3 620.3,337.8 622.8,331.4 615.6,336.5 616.9,337.2 619.6,338.5 609.9,339.2 610.1,342.3 615.6,335.2 618.8,342.2 615.6,337.6 614.2,337.4 607.3,336.2 618.6,329.5 613.6,339.6 620.1,333.7 623.4,337.8 625.1,337.5 621.4,336.8 617.2,335.0 623.3,332.8 615.1,335.6 616.5,334.6 612.9,334.8 623.7,336.1 626.3,335.8 611.9,338.2 621.5,333.3 617.6,336.2 616.3,335.9 611.9,336.9 625.2,331.2 613.3,336.2 616.0,337.3 611.7,335.9 619.2,335.0 623.4,331.5 610.8,340.9 612.3,338.9 613.4,336.2 614.6,336.7 623.1,336.4 619.2,331.3 620.4,336.8 625.7,338.8 613.2,337.4 625.1,334.9 607.1,339.0 612.1,341.3 614.8,340.2 622.5,336.4 624.4,335.5 617.6,331.6 617.9,338.1 614.6,336.5 618.4,340.2 616.3,338.2 622.0,333.4 614.0,336.2 623.9,337.3 610.8,335.3 620.4,331.9 622.3,333.3 614.6,338.6 632.3,335.9 615.4,337.8 618.7,331.7 614.3,334.9 613.1,337.2 620.9,334.4 614.3,335.2 626.4,334.0 620.0,336.9 617.0,340.2 618.6,340.7 614.3,335.2 621.4,339.4 612.4,336.1 615.5,337.4 622.2,333.2 610.7,339.5 625.6,333.2 621.6,335.0 620.8,335.7 612.9,340.3 625.1,338.7 620.4,337.0 614.5,337.0 615.7,338.2 625.5,337.4 620.0,341.6 615.6,331.2 609.0,339.7 615.9,339.6 628.2,333.4 615.4,337.9 612.6,337.0 621.8,336.4 634.2,332.7 619.6,337.2 616.4,337.5 620.7,337.9 618.6,332.8 621.4,338.7 623.9,333.5 610.3,333.4 625.4,337.7 610.8,340.2 613.7,333.9 620.3,336.2 618.8,339.4 626.1,333.7 617.1,338.1 625.6,335.4 618.7,339.0 620.0,334.3 620.8,340.8 613.9,332.5 620.8,334.3 619.1,339.9 624.1,329.7 612.9,340.8 627.3,335.4 614.0,338.0 610.1,334.2 630.7,335.0 614.4,338.2 609.6,337.2 621.5,332.8 621.9,335.0 606.3,338.6 621.1,338.4 619.2,333.3 616.3,328.9 623.1,335.3 616.7,333.3 613.0,338.5 630.7,334.0 615.5,334.1 613.7,336.2 617.3,335.1 625.2,337.1 609.2,334.3 625.0,334.2 619.4,341.1 616.7,337.6 615.2,339.0 610.6,335.1 614.9,339.1 621.6,330.8 613.6,337.2 610.8,335.8 616.6,333.7 616.4,340.0 610.3,337.9 610.9,331.6 627.3,335.3 616.9,337.2 615.2,335.0 624.2,336.9 614.1,339.7 623.8,335.5 619.2,329.1 616.9,332.8 605.7,340.0 619.2,343.5 619.2,339.5 619.6,334.9 614.6,334.9 620.8,332.6 622.7,337.5 618.0,338.6 612.3,334.6 622.3,332.4 616.0,338.6 626.1,337.0 616.5,339.1 611.1,338.6 624.9,335.4 617.1,331.6 613.1,338.5 613.2,338.7 612.8,335.0 624.2,339.5 624.6,336.8 627.6,334.6 628.0,334.2 613.0,335.3 611.4,334.2 622.9,340.5 612.4,328.6 613.1,334.7 615.1,337.4 613.5,337.4 618.1,335.6 616.1,337.0 616.0,340.0 616.9,338.5 623.5,339.9 615.9,338.2 622.2,337.5 616.4,334.4 614.2,334.5 619.7,337.5 615.1,336.6 620.9,333.6 614.3,335.5 618.1,336.6 619.5,335.7 622.2,335.5 617.3,332.2 616.3,335.4 605.4,337.9 614.7,336.9 618.4,337.2 617.2,332.3 616.4,339.3 616.0,336.0 612.2,337.1 622.2,332.4 617.9,334.4 615.0,333.8 609.3,338.0 613.1,335.5 617.2,336.2 621.2,337.0 618.5,340.4 622.0,339.0 620.6,337.3 616.5,337.8 630.1,334.6 611.7,335.5 617.9,332.8 616.5,337.1 627.4,332.6 623.0,335.0 616.9,338.2 615.2,332.5 615.6,335.9 613.5,337.4 616.7,331.4 621.0,331.7 616.4,330.4 615.6,337.7 620.4,337.1 619.6,331.2 619.1,336.4 622.7,337.0 617.0,336.4 619.6,336.7 619.0,338.6 618.3,330.4 622.4,339.3 621.8,333.3 621.7,333.3 623.4,337.2 620.3,337.7 612.7,337.3 612.6,339.7 615.6,333.9 617.9,338.2 615.6,332.8 620.4,336.8 616.0,338.0 619.8,335.9 626.8,328.2 620.7,336.2 609.2,335.8 620.7,340.9 621.2,334.1 613.8,338.5 617.1,333.9 610.8,332.9 616.6,338.7 613.0,337.5 611.3,340.5 614.6,335.2 617.0,336.9 616.1,334.9 612.5,336.9 618.2,334.6 614.1,339.4 627.7,332.6 621.8,335.0 620.2,332.9 619.1,335.3 623.5,334.5 623.9,334.2 612.2,339.5 614.9,337.1 623.8,336.0 625.3,334.6 621.9,334.9 608.7,336.3 610.7,340.0 615.2,331.8 611.0,334.0 617.5,334.2 625.5,332.6 614.7,340.0 613.9,334.7 618.3,339.7 621.8,335.0 622.9,338.4 622.6,336.0 622.4,333.8 612.0,335.9 625.4,337.0 613.8,333.9 615.7,338.5 608.9,338.1 620.0,334.0 612.8,334.3 617.1,336.3 617.0,329.7 613.7,338.0 618.7,335.5 624.4,334.9 611.0,336.7 612.5,332.2 616.9,337.6 619.4,333.7 619.1,337.4 620.5,334.8 609.0,335.3 618.2,332.6 611.4,335.4 614.2,336.5 614.2,335.7 615.6,336.2 611.3,339.1 619.6,336.1 611.0,337.4 617.5,336.6 617.5,336.6" class="mk" marker-mid="url(#mx)"/><rect x="388.9" y="228.8" width="276.5" height="147.6" fill="none" stroke="#6e6e6e" stroke-width="1"/><path d="M395.9 376.4v-3M395.9 228.8v3M434.4 376.4v-3M434.4 228.8v3M472.9 376.4v-3M472.9 228.8v3M511.4 376.4v-3M511.4 228.8v3M549.9 376.4v-3M549.9 228.8v3M588.4 376.4v-3M588.4 228.8v3M626.9 376.4v-3M626.9 228.8v3M665.4 376.4v-3M665.4 228.8v3M388.9 376.6h3M665.4 376.6h-3M388.9 350.2h3M665.4 350.2h-3M388.9 323.9h3M665.4 323.9h-3M388.9 297.6h3M665.4 297.6h-3M388.9 271.2h3M665.4 271.2h-3M388.9 244.9h3M665.4 244.9h-3" stroke="#6e6e6e" stroke-width="0.8" fill="none"/><text x="395.9" y="391.4" text-anchor="middle" class="tk">-1.5</text><text x="434.4" y="391.4" text-anchor="middle" class="tk">-1</text><text x="472.9" y="391.4" text-anchor="middle" class="tk">-0.5</text><text x="511.4" y="391.4" text-anchor="middle" class="tk">0</text><text x="549.9" y="391.4" text-anchor="middle" class="tk">0.5</text><text x="588.4" y="391.4" text-anchor="middle" class="tk">1</text><text x="626.9" y="391.4" text-anchor="middle" class="tk">1.5</text><text x="665.4" y="391.4" text-anchor="middle" class="tk">2</text><text x="385.3" y="381.0" text-anchor="end" class="tk">0</text><text x="385.3" y="354.6" text-anchor="end" class="tk">0.5</text><text x="385.3" y="328.3" text-anchor="end" class="tk">1</text><text x="385.3" y="301.9" text-anchor="end" class="tk">1.5</text><text x="385.3" y="275.6" text-anchor="end" class="tk">2</text><text x="385.3" y="249.3" text-anchor="end" class="tk">2.5</text><text x="528.1" y="406.9" text-anchor="middle" class="lb">DF score 1</text><text transform="translate(365.0,300.8) rotate(-90)" text-anchor="middle" class="lb">DF score 2</text><text x="528.4" y="224.8" text-anchor="middle" class="tt">d) Background vibrations</text></g>
</svg>
</body></html>
